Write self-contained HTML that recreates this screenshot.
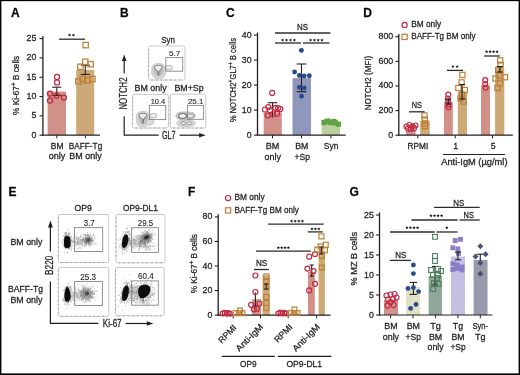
<!DOCTYPE html>
<html><head><meta charset="utf-8"><style>
html,body{margin:0;padding:0;background:#fff;width:520px;height:375px;overflow:hidden}
svg{display:block}
text{font-family:"Liberation Sans",sans-serif}
.t{opacity:0.999}
text{stroke:#231f20;stroke-width:0.27px}
</style></head><body>
<svg width="520" height="375" viewBox="0 0 520 375" fill="#231f20">
<rect x="0" y="0" width="520" height="375" fill="#fff"/>
<g class="t">
<rect x="0" y="0" width="1.4" height="375" fill="#000"/>
<rect x="0" y="0" width="520" height="1.15" fill="#000"/>
<rect x="518.6" y="0" width="1.4" height="375" fill="#000"/>
<rect x="0" y="373.4" width="520" height="1.6" fill="#000"/>
<text x="11" y="17" font-size="12" font-weight="bold" fill="#000">A</text>
<text x="120" y="17" font-size="12" font-weight="bold" fill="#000">B</text>
<text x="226" y="17" font-size="12" font-weight="bold" fill="#000">C</text>
<text x="363.2" y="17" font-size="12" font-weight="bold" fill="#000">D</text>
<text x="8.4" y="195.6" font-size="12" font-weight="bold" fill="#000">E</text>
<text x="188" y="195.6" font-size="12" font-weight="bold" fill="#000">F</text>
<text x="349.6" y="196.3" font-size="12" font-weight="bold" fill="#000">G</text>
<rect x="47.6" y="91.54" width="18.4" height="43.66" fill="#d19189"/>
<rect x="76.2" y="69.9" width="18" height="65.3" fill="#cca977"/>
<line x1="42.9" y1="36" x2="42.9" y2="135.8" stroke="#231f20" stroke-width="1.3"/>
<line x1="39.5" y1="135.2" x2="42.9" y2="135.2" stroke="#231f20" stroke-width="1.1"/>
<text x="36.3" y="137.7" font-size="8.8" text-anchor="end">0</text>
<line x1="39.5" y1="115.88" x2="42.9" y2="115.88" stroke="#231f20" stroke-width="1.1"/>
<text x="36.3" y="118.38" font-size="8.8" text-anchor="end">5</text>
<line x1="39.5" y1="96.56" x2="42.9" y2="96.56" stroke="#231f20" stroke-width="1.1"/>
<text x="36.3" y="99.06" font-size="8.8" text-anchor="end">10</text>
<line x1="39.5" y1="77.24" x2="42.9" y2="77.24" stroke="#231f20" stroke-width="1.1"/>
<text x="36.3" y="79.74" font-size="8.8" text-anchor="end">15</text>
<line x1="39.5" y1="57.92" x2="42.9" y2="57.92" stroke="#231f20" stroke-width="1.1"/>
<text x="36.3" y="60.42" font-size="8.8" text-anchor="end">20</text>
<line x1="39.5" y1="38.6" x2="42.9" y2="38.6" stroke="#231f20" stroke-width="1.1"/>
<text x="36.3" y="41.1" font-size="8.8" text-anchor="end">25</text>
<line x1="42.3" y1="135.2" x2="100" y2="135.2" stroke="#231f20" stroke-width="1.2"/>
<line x1="56.8" y1="135.2" x2="56.8" y2="138.4" stroke="#231f20" stroke-width="1"/>
<line x1="85.4" y1="135.2" x2="85.4" y2="138.4" stroke="#231f20" stroke-width="1"/>
<line x1="56.8" y1="87.2" x2="56.8" y2="95.4" stroke="#231f20" stroke-width="1.1"/>
<line x1="52.3" y1="87.2" x2="61.3" y2="87.2" stroke="#231f20" stroke-width="1.1"/>
<line x1="52.3" y1="95.4" x2="61.3" y2="95.4" stroke="#231f20" stroke-width="1.1"/>
<line x1="85.3" y1="65.2" x2="85.3" y2="74.4" stroke="#231f20" stroke-width="1.1"/>
<line x1="80.8" y1="65.2" x2="89.8" y2="65.2" stroke="#231f20" stroke-width="1.1"/>
<line x1="80.8" y1="74.4" x2="89.8" y2="74.4" stroke="#231f20" stroke-width="1.1"/>
<circle cx="57" cy="77" r="2.55" fill="none" stroke="#c22a43" stroke-width="1.25"/>
<circle cx="57" cy="82.4" r="2.55" fill="none" stroke="#c22a43" stroke-width="1.25"/>
<circle cx="50" cy="93.6" r="2.55" fill="none" stroke="#c22a43" stroke-width="1.25"/>
<circle cx="56.6" cy="95.6" r="2.55" fill="none" stroke="#c22a43" stroke-width="1.25"/>
<circle cx="64" cy="97.6" r="2.55" fill="none" stroke="#c22a43" stroke-width="1.25"/>
<circle cx="50" cy="100.6" r="2.55" fill="none" stroke="#c22a43" stroke-width="1.25"/>
<rect x="82.9" y="42.4" width="5.4" height="5.4" fill="none" stroke="#bc7f35" stroke-width="1.25"/>
<rect x="82.5" y="59.1" width="5.4" height="5.4" fill="none" stroke="#bc7f35" stroke-width="1.25"/>
<rect x="87.9" y="61.5" width="5.4" height="5.4" fill="none" stroke="#bc7f35" stroke-width="1.25"/>
<rect x="77.7" y="64.1" width="5.4" height="5.4" fill="none" stroke="#bc7f35" stroke-width="1.25"/>
<rect x="75.7" y="78.7" width="5.4" height="5.4" fill="none" stroke="#bc7f35" stroke-width="1.25"/>
<rect x="80.1" y="76.3" width="5.4" height="5.4" fill="none" stroke="#bc7f35" stroke-width="1.25"/>
<rect x="84.5" y="77.7" width="5.4" height="5.4" fill="none" stroke="#bc7f35" stroke-width="1.25"/>
<rect x="89.7" y="76.3" width="5.4" height="5.4" fill="none" stroke="#bc7f35" stroke-width="1.25"/>
<line x1="59" y1="39.2" x2="85" y2="39.2" stroke="#2c2c2c" stroke-width="1.3"/>
<path d="M69.6 33.4L70.07 34.5L71.26 34.61L70.36 35.4L70.63 36.57L69.6 35.95L68.57 36.57L68.84 35.4L67.94 34.61L69.13 34.5ZM73.4 33.4L73.87 34.5L75.06 34.61L74.16 35.4L74.43 36.57L73.4 35.95L72.37 36.57L72.64 35.4L71.74 34.61L72.93 34.5Z" fill="#1a1a1a"/>
<text x="19.5" y="85.4" font-size="9.3" text-anchor="middle" transform="rotate(-90 19.5 85.4)" textLength="59.2" lengthAdjust="spacingAndGlyphs">% Ki-67<tspan font-size="7" dy="-3">+</tspan><tspan dy="3"> B cells</tspan></text>
<text x="50.75" y="149" font-size="8.8" textLength="12.7" lengthAdjust="spacingAndGlyphs">BM</text>
<text x="48.85" y="159.3" font-size="8.8" textLength="16.5" lengthAdjust="spacingAndGlyphs">only</text>
<text x="68.7" y="149" font-size="8.8" textLength="33.6" lengthAdjust="spacingAndGlyphs">BAFF-Tg</text>
<text x="69.35" y="159.3" font-size="8.8" textLength="32.3" lengthAdjust="spacingAndGlyphs">BM only</text>
<rect x="263.7" y="112.35" width="18.1" height="22.75" fill="#d19189"/>
<rect x="292.5" y="78.1" width="18.5" height="57" fill="#8f97bb"/>
<rect x="321.7" y="124.6" width="18.3" height="10.5" fill="#bbd19d"/>
<line x1="257.5" y1="32.5" x2="257.5" y2="135.7" stroke="#231f20" stroke-width="1.3"/>
<line x1="254.1" y1="135.1" x2="257.5" y2="135.1" stroke="#231f20" stroke-width="1.1"/>
<text x="251.6" y="137.6" font-size="8.8" text-anchor="end">0</text>
<line x1="254.1" y1="110.1" x2="257.5" y2="110.1" stroke="#231f20" stroke-width="1.1"/>
<text x="251.6" y="112.6" font-size="8.8" text-anchor="end">10</text>
<line x1="254.1" y1="85.1" x2="257.5" y2="85.1" stroke="#231f20" stroke-width="1.1"/>
<text x="251.6" y="87.6" font-size="8.8" text-anchor="end">20</text>
<line x1="254.1" y1="60.1" x2="257.5" y2="60.1" stroke="#231f20" stroke-width="1.1"/>
<text x="251.6" y="62.6" font-size="8.8" text-anchor="end">30</text>
<line x1="254.1" y1="35.1" x2="257.5" y2="35.1" stroke="#231f20" stroke-width="1.1"/>
<text x="251.6" y="37.6" font-size="8.8" text-anchor="end">40</text>
<line x1="256.9" y1="135.1" x2="345.7" y2="135.1" stroke="#231f20" stroke-width="1.2"/>
<line x1="272.5" y1="135.1" x2="272.5" y2="138.3" stroke="#231f20" stroke-width="1"/>
<line x1="301.5" y1="135.1" x2="301.5" y2="138.3" stroke="#231f20" stroke-width="1"/>
<line x1="330.9" y1="135.1" x2="330.9" y2="138.3" stroke="#231f20" stroke-width="1"/>
<line x1="272.5" y1="102.7" x2="272.5" y2="117.5" stroke="#231f20" stroke-width="1.1"/>
<line x1="267.75" y1="102.7" x2="277.25" y2="102.7" stroke="#231f20" stroke-width="1.1"/>
<circle cx="272.2" cy="92.9" r="2.5" fill="none" stroke="#c22a43" stroke-width="1.2"/>
<circle cx="265" cy="109.5" r="2.5" fill="none" stroke="#c22a43" stroke-width="1.2"/>
<circle cx="268.3" cy="107.1" r="2.5" fill="none" stroke="#c22a43" stroke-width="1.2"/>
<circle cx="275.3" cy="107.8" r="2.5" fill="none" stroke="#c22a43" stroke-width="1.2"/>
<circle cx="278.1" cy="108.1" r="2.5" fill="none" stroke="#c22a43" stroke-width="1.2"/>
<circle cx="280.4" cy="109" r="2.5" fill="none" stroke="#c22a43" stroke-width="1.2"/>
<circle cx="267.8" cy="115.5" r="2.5" fill="none" stroke="#c22a43" stroke-width="1.2"/>
<circle cx="272.9" cy="114.1" r="2.5" fill="none" stroke="#c22a43" stroke-width="1.2"/>
<circle cx="277.1" cy="113.7" r="2.5" fill="none" stroke="#c22a43" stroke-width="1.2"/>
<circle cx="270.1" cy="110.4" r="2.5" fill="none" stroke="#c22a43" stroke-width="1.2"/>
<line x1="301.5" y1="64" x2="301.5" y2="91.7" stroke="#231f20" stroke-width="1.1"/>
<line x1="296.7" y1="64" x2="306.3" y2="64" stroke="#231f20" stroke-width="1.1"/>
<line x1="296.7" y1="91.7" x2="306.3" y2="91.7" stroke="#231f20" stroke-width="1.1"/>
<circle cx="301.4" cy="50.4" r="2.45" fill="#2b4a8b"/>
<circle cx="294.6" cy="72" r="2.45" fill="#2b4a8b"/>
<circle cx="299.4" cy="75.5" r="2.45" fill="#2b4a8b"/>
<circle cx="304.2" cy="76" r="2.45" fill="#2b4a8b"/>
<circle cx="309.3" cy="75.8" r="2.45" fill="#2b4a8b"/>
<circle cx="299.4" cy="87.2" r="2.45" fill="#2b4a8b"/>
<circle cx="304.2" cy="88" r="2.45" fill="#2b4a8b"/>
<circle cx="301.5" cy="96.3" r="2.45" fill="#2b4a8b"/>
<rect x="321.4" y="120" width="5.2" height="5.2" fill="#5ea445"/>
<rect x="325.4" y="118.4" width="5.2" height="5.2" fill="#5ea445"/>
<rect x="331.2" y="118.8" width="5.2" height="5.2" fill="#5ea445"/>
<rect x="335.8" y="121.6" width="5.2" height="5.2" fill="#5ea445"/>
<rect x="328.2" y="120" width="5.2" height="5.2" fill="#5ea445"/>
<rect x="323.6" y="119.2" width="5.2" height="5.2" fill="#5ea445"/>
<rect x="332.9" y="120.2" width="5.2" height="5.2" fill="#5ea445"/>
<line x1="275" y1="33" x2="330.4" y2="33" stroke="#2c2c2c" stroke-width="1.3"/>
<text x="297" y="30.4" font-size="8.8" textLength="11" lengthAdjust="spacingAndGlyphs">NS</text>
<line x1="275" y1="43" x2="301" y2="43" stroke="#2c2c2c" stroke-width="1.3"/>
<line x1="303" y1="43" x2="329.4" y2="43" stroke="#2c2c2c" stroke-width="1.3"/>
<path d="M282.6 38.4L283.07 39.5L284.26 39.61L283.36 40.4L283.63 41.57L282.6 40.95L281.57 41.57L281.84 40.4L280.94 39.61L282.13 39.5ZM286.53 38.4L287 39.5L288.2 39.61L287.29 40.4L287.56 41.57L286.53 40.95L285.5 41.57L285.77 40.4L284.87 39.61L286.06 39.5ZM290.47 38.4L290.94 39.5L292.13 39.61L291.23 40.4L291.5 41.57L290.47 40.95L289.44 41.57L289.71 40.4L288.8 39.61L290 39.5ZM294.4 38.4L294.87 39.5L296.06 39.61L295.16 40.4L295.43 41.57L294.4 40.95L293.37 41.57L293.64 40.4L292.74 39.61L293.93 39.5Z" fill="#1a1a1a"/>
<path d="M310.6 38.4L311.07 39.5L312.26 39.61L311.36 40.4L311.63 41.57L310.6 40.95L309.57 41.57L309.84 40.4L308.94 39.61L310.13 39.5ZM314.4 38.4L314.87 39.5L316.06 39.61L315.16 40.4L315.43 41.57L314.4 40.95L313.37 41.57L313.64 40.4L312.74 39.61L313.93 39.5ZM318.2 38.4L318.67 39.5L319.86 39.61L318.96 40.4L319.23 41.57L318.2 40.95L317.17 41.57L317.44 40.4L316.54 39.61L317.73 39.5ZM322 38.4L322.47 39.5L323.66 39.61L322.76 40.4L323.03 41.57L322 40.95L320.97 41.57L321.24 40.4L320.34 39.61L321.53 39.5Z" fill="#1a1a1a"/>
<text x="236.2" y="80" font-size="9.3" text-anchor="middle" transform="rotate(-90 236.2 80)" textLength="84" lengthAdjust="spacingAndGlyphs">% NOTCH2<tspan font-size="7" dy="-3">+</tspan><tspan dy="3">GL7</tspan><tspan font-size="7" dy="-3">+</tspan><tspan dy="3"> B cells</tspan></text>
<text x="265.75" y="149.4" font-size="8.8" textLength="13.5" lengthAdjust="spacingAndGlyphs">BM</text>
<text x="264.45" y="159.8" font-size="8.8" textLength="16.5" lengthAdjust="spacingAndGlyphs">only</text>
<text x="295.15" y="149.4" font-size="8.8" textLength="13.1" lengthAdjust="spacingAndGlyphs">BM</text>
<text x="294.45" y="159.8" font-size="8.8" textLength="15.5" lengthAdjust="spacingAndGlyphs">+Sp</text>
<text x="323.85" y="149.4" font-size="8.8" textLength="14.5" lengthAdjust="spacingAndGlyphs">Syn</text>
<rect x="406" y="129.66" width="9.6" height="5.54" fill="#d19189"/>
<rect x="420.2" y="120.67" width="9.5" height="14.53" fill="#cca977"/>
<rect x="443.9" y="101.96" width="8.9" height="33.24" fill="#d19189"/>
<rect x="457.8" y="91.87" width="9.2" height="43.33" fill="#cca977"/>
<rect x="481" y="85.34" width="9" height="49.86" fill="#d19189"/>
<rect x="495.1" y="68.11" width="9.2" height="67.09" fill="#cca977"/>
<line x1="398.8" y1="34.12" x2="398.8" y2="135.8" stroke="#231f20" stroke-width="1.3"/>
<line x1="395.4" y1="135.2" x2="398.8" y2="135.2" stroke="#231f20" stroke-width="1.1"/>
<text x="393.2" y="137.7" font-size="8.8" text-anchor="end">0</text>
<line x1="395.4" y1="110.58" x2="398.8" y2="110.58" stroke="#231f20" stroke-width="1.1"/>
<text x="393.2" y="113.08" font-size="8.8" text-anchor="end">200</text>
<line x1="395.4" y1="85.96" x2="398.8" y2="85.96" stroke="#231f20" stroke-width="1.1"/>
<text x="393.2" y="88.46" font-size="8.8" text-anchor="end">400</text>
<line x1="395.4" y1="61.34" x2="398.8" y2="61.34" stroke="#231f20" stroke-width="1.1"/>
<text x="393.2" y="63.84" font-size="8.8" text-anchor="end">600</text>
<line x1="395.4" y1="36.72" x2="398.8" y2="36.72" stroke="#231f20" stroke-width="1.1"/>
<text x="393.2" y="39.22" font-size="8.8" text-anchor="end">800</text>
<line x1="398.2" y1="135.2" x2="512.8" y2="135.2" stroke="#231f20" stroke-width="1.2"/>
<line x1="417.8" y1="135.2" x2="417.8" y2="138.4" stroke="#231f20" stroke-width="1"/>
<line x1="455.2" y1="135.2" x2="455.2" y2="138.4" stroke="#231f20" stroke-width="1"/>
<line x1="492.5" y1="135.2" x2="492.5" y2="138.4" stroke="#231f20" stroke-width="1"/>
<circle cx="406.5" cy="126.5" r="2.5" fill="none" stroke="#c22a43" stroke-width="1.2"/>
<circle cx="409.5" cy="125" r="2.5" fill="none" stroke="#c22a43" stroke-width="1.2"/>
<circle cx="412.5" cy="126.5" r="2.5" fill="none" stroke="#c22a43" stroke-width="1.2"/>
<circle cx="415.5" cy="125.5" r="2.5" fill="none" stroke="#c22a43" stroke-width="1.2"/>
<circle cx="408" cy="128.5" r="2.5" fill="none" stroke="#c22a43" stroke-width="1.2"/>
<circle cx="411" cy="128.8" r="2.5" fill="none" stroke="#c22a43" stroke-width="1.2"/>
<circle cx="414" cy="128.2" r="2.5" fill="none" stroke="#c22a43" stroke-width="1.2"/>
<rect x="421.9" y="112.9" width="5.2" height="5.2" fill="none" stroke="#bc7f35" stroke-width="1.2"/>
<rect x="422.2" y="116.9" width="5.2" height="5.2" fill="none" stroke="#bc7f35" stroke-width="1.2"/>
<rect x="422.4" y="120.9" width="5.2" height="5.2" fill="none" stroke="#bc7f35" stroke-width="1.2"/>
<rect x="422.4" y="123.4" width="5.2" height="5.2" fill="none" stroke="#bc7f35" stroke-width="1.2"/>
<circle cx="448.3" cy="94.6" r="2.5" fill="none" stroke="#c22a43" stroke-width="1.2"/>
<circle cx="447.8" cy="98.5" r="2.5" fill="none" stroke="#c22a43" stroke-width="1.2"/>
<circle cx="448.2" cy="101.5" r="2.5" fill="none" stroke="#c22a43" stroke-width="1.2"/>
<circle cx="448.6" cy="104.5" r="2.5" fill="none" stroke="#c22a43" stroke-width="1.2"/>
<circle cx="448.4" cy="107.2" r="2.5" fill="none" stroke="#c22a43" stroke-width="1.2"/>
<rect x="459.8" y="72.3" width="5.2" height="5.2" fill="none" stroke="#bc7f35" stroke-width="1.2"/>
<rect x="459" y="79.8" width="5.2" height="5.2" fill="none" stroke="#bc7f35" stroke-width="1.2"/>
<rect x="455.8" y="85.4" width="5.2" height="5.2" fill="none" stroke="#bc7f35" stroke-width="1.2"/>
<rect x="462.2" y="87.4" width="5.2" height="5.2" fill="none" stroke="#bc7f35" stroke-width="1.2"/>
<rect x="459.4" y="91.9" width="5.2" height="5.2" fill="none" stroke="#bc7f35" stroke-width="1.2"/>
<rect x="457.9" y="95.9" width="5.2" height="5.2" fill="none" stroke="#bc7f35" stroke-width="1.2"/>
<rect x="460.9" y="98.9" width="5.2" height="5.2" fill="none" stroke="#bc7f35" stroke-width="1.2"/>
<circle cx="485.2" cy="80.2" r="2.5" fill="none" stroke="#c22a43" stroke-width="1.2"/>
<circle cx="485.2" cy="84" r="2.5" fill="none" stroke="#c22a43" stroke-width="1.2"/>
<circle cx="485.6" cy="87.6" r="2.5" fill="none" stroke="#c22a43" stroke-width="1.2"/>
<rect x="497.6" y="57.8" width="5.2" height="5.2" fill="none" stroke="#bc7f35" stroke-width="1.2"/>
<rect x="498" y="62.2" width="5.2" height="5.2" fill="none" stroke="#bc7f35" stroke-width="1.2"/>
<rect x="495.6" y="67.4" width="5.2" height="5.2" fill="none" stroke="#bc7f35" stroke-width="1.2"/>
<rect x="497" y="73" width="5.2" height="5.2" fill="none" stroke="#bc7f35" stroke-width="1.2"/>
<rect x="492.9" y="75.9" width="5.2" height="5.2" fill="none" stroke="#bc7f35" stroke-width="1.2"/>
<rect x="502.4" y="74.6" width="5.2" height="5.2" fill="none" stroke="#bc7f35" stroke-width="1.2"/>
<rect x="497.4" y="80.9" width="5.2" height="5.2" fill="none" stroke="#bc7f35" stroke-width="1.2"/>
<rect x="494.9" y="85.4" width="5.2" height="5.2" fill="none" stroke="#bc7f35" stroke-width="1.2"/>
<line x1="462" y1="84.5" x2="462" y2="99" stroke="#231f20" stroke-width="1.1"/>
<line x1="459" y1="84.5" x2="465" y2="84.5" stroke="#231f20" stroke-width="1.1"/>
<line x1="459" y1="99" x2="465" y2="99" stroke="#231f20" stroke-width="1.1"/>
<line x1="499.8" y1="66.5" x2="499.8" y2="72" stroke="#231f20" stroke-width="1.1"/>
<line x1="496.8" y1="66.5" x2="502.8" y2="66.5" stroke="#231f20" stroke-width="1.1"/>
<line x1="496.8" y1="72" x2="502.8" y2="72" stroke="#231f20" stroke-width="1.1"/>
<line x1="448.3" y1="99" x2="448.3" y2="104" stroke="#231f20" stroke-width="1.1"/>
<line x1="445.8" y1="99" x2="450.8" y2="99" stroke="#231f20" stroke-width="1.1"/>
<line x1="445.8" y1="104" x2="450.8" y2="104" stroke="#231f20" stroke-width="1.1"/>
<line x1="409" y1="111.8" x2="424.6" y2="111.8" stroke="#2c2c2c" stroke-width="1.3"/>
<text x="411.8" y="108.4" font-size="8.8" textLength="10.2" lengthAdjust="spacingAndGlyphs">NS</text>
<line x1="447" y1="70.4" x2="463" y2="70.4" stroke="#2c2c2c" stroke-width="1.3"/>
<path d="M452.9 64.8L453.37 65.9L454.56 66.01L453.66 66.8L453.93 67.97L452.9 67.35L451.87 67.97L452.14 66.8L451.24 66.01L452.43 65.9ZM457.1 64.8L457.57 65.9L458.76 66.01L457.86 66.8L458.13 67.97L457.1 67.35L456.07 67.97L456.34 66.8L455.44 66.01L456.63 65.9Z" fill="#1a1a1a"/>
<line x1="484.1" y1="56" x2="499.9" y2="56" stroke="#2c2c2c" stroke-width="1.3"/>
<path d="M486.6 50L487.07 51.1L488.26 51.21L487.36 52L487.63 53.17L486.6 52.55L485.57 53.17L485.84 52L484.94 51.21L486.13 51.1ZM490.1 50L490.57 51.1L491.76 51.21L490.86 52L491.13 53.17L490.1 52.55L489.07 53.17L489.34 52L488.44 51.21L489.63 51.1ZM493.6 50L494.07 51.1L495.26 51.21L494.36 52L494.63 53.17L493.6 52.55L492.57 53.17L492.84 52L491.94 51.21L493.13 51.1ZM497.1 50L497.57 51.1L498.76 51.21L497.86 52L498.13 53.17L497.1 52.55L496.07 53.17L496.34 52L495.44 51.21L496.63 51.1Z" fill="#1a1a1a"/>
<circle cx="404.6" cy="24.9" r="2.6" fill="none" stroke="#c22a43" stroke-width="1.2"/>
<text x="411.3" y="27.3" font-size="8.8" textLength="29.9" lengthAdjust="spacingAndGlyphs">BM only</text>
<rect x="402" y="34.3" width="5.2" height="5.2" fill="none" stroke="#bc7f35" stroke-width="1.2"/>
<text x="411.3" y="38.8" font-size="8.8" textLength="64.2" lengthAdjust="spacingAndGlyphs">BAFF-Tg BM only</text>
<text x="370.6" y="83" font-size="9.3" text-anchor="middle" transform="rotate(-90 370.6 83)" textLength="54.6" lengthAdjust="spacingAndGlyphs">NOTCH2 (MFI)</text>
<text x="407.5" y="149.2" font-size="8.8" textLength="20.7" lengthAdjust="spacingAndGlyphs">RPMI</text>
<text x="455.6" y="149.2" font-size="8.8" text-anchor="middle">1</text>
<text x="493.1" y="149.2" font-size="8.8" text-anchor="middle">5</text>
<line x1="443.1" y1="154.5" x2="505.1" y2="154.5" stroke="#231f20" stroke-width="1.2"/>
<text x="441.2" y="164.9" font-size="8.8" textLength="66.3" lengthAdjust="spacingAndGlyphs">Anti-IgM (µg/ml)</text>
<rect x="222.5" y="314.12" width="8" height="0.98" fill="#d19189"/>
<rect x="235.5" y="313.63" width="8" height="1.47" fill="#cca977"/>
<rect x="252.2" y="299.14" width="8.8" height="15.96" fill="#d19189"/>
<rect x="262.6" y="275.33" width="7.2" height="39.77" fill="#cca977"/>
<rect x="277.5" y="313.87" width="8" height="1.23" fill="#d19189"/>
<rect x="290.5" y="312.65" width="8" height="2.45" fill="#cca977"/>
<rect x="307.9" y="271.89" width="6.9" height="43.21" fill="#d19189"/>
<rect x="318.6" y="250.66" width="6.3" height="64.44" fill="#cca977"/>
<line x1="218.2" y1="214.3" x2="218.2" y2="315.7" stroke="#231f20" stroke-width="1.3"/>
<line x1="214.8" y1="315.1" x2="218.2" y2="315.1" stroke="#231f20" stroke-width="1.1"/>
<text x="212.4" y="317.6" font-size="8.8" text-anchor="end">0</text>
<line x1="214.8" y1="290.55" x2="218.2" y2="290.55" stroke="#231f20" stroke-width="1.1"/>
<text x="212.4" y="293.05" font-size="8.8" text-anchor="end">20</text>
<line x1="214.8" y1="266" x2="218.2" y2="266" stroke="#231f20" stroke-width="1.1"/>
<text x="212.4" y="268.5" font-size="8.8" text-anchor="end">40</text>
<line x1="214.8" y1="241.45" x2="218.2" y2="241.45" stroke="#231f20" stroke-width="1.1"/>
<text x="212.4" y="243.95" font-size="8.8" text-anchor="end">60</text>
<line x1="214.8" y1="216.9" x2="218.2" y2="216.9" stroke="#231f20" stroke-width="1.1"/>
<text x="212.4" y="219.4" font-size="8.8" text-anchor="end">80</text>
<line x1="217.6" y1="315.1" x2="330.5" y2="315.1" stroke="#231f20" stroke-width="1.2"/>
<line x1="233.2" y1="315.1" x2="233.2" y2="318.3" stroke="#231f20" stroke-width="1"/>
<line x1="260.5" y1="315.1" x2="260.5" y2="318.3" stroke="#231f20" stroke-width="1"/>
<line x1="288.2" y1="315.1" x2="288.2" y2="318.3" stroke="#231f20" stroke-width="1"/>
<line x1="316.6" y1="315.1" x2="316.6" y2="318.3" stroke="#231f20" stroke-width="1"/>
<circle cx="222.6" cy="313.6" r="2.4" fill="none" stroke="#c22a43" stroke-width="1.2"/>
<circle cx="224.8" cy="312.8" r="2.4" fill="none" stroke="#c22a43" stroke-width="1.2"/>
<circle cx="226.8" cy="313.8" r="2.4" fill="none" stroke="#c22a43" stroke-width="1.2"/>
<circle cx="228.6" cy="313" r="2.4" fill="none" stroke="#c22a43" stroke-width="1.2"/>
<circle cx="230" cy="313.8" r="2.4" fill="none" stroke="#c22a43" stroke-width="1.2"/>
<rect x="233.1" y="310.8" width="4.8" height="4.8" fill="none" stroke="#bc7f35" stroke-width="1.2"/>
<rect x="236.6" y="310.8" width="4.8" height="4.8" fill="none" stroke="#bc7f35" stroke-width="1.2"/>
<rect x="240.1" y="310.8" width="4.8" height="4.8" fill="none" stroke="#bc7f35" stroke-width="1.2"/>
<rect x="237.6" y="308.1" width="4.8" height="4.8" fill="none" stroke="#bc7f35" stroke-width="1.2"/>
<line x1="255.4" y1="292.5" x2="255.4" y2="306" stroke="#231f20" stroke-width="1.1"/>
<line x1="252.9" y1="306" x2="257.9" y2="306" stroke="#231f20" stroke-width="1.1"/>
<circle cx="255.4" cy="275.5" r="2.5" fill="none" stroke="#c22a43" stroke-width="1.2"/>
<circle cx="255.4" cy="292" r="2.5" fill="none" stroke="#c22a43" stroke-width="1.2"/>
<circle cx="251.1" cy="304.8" r="2.5" fill="none" stroke="#c22a43" stroke-width="1.2"/>
<circle cx="259.4" cy="303.5" r="2.5" fill="none" stroke="#c22a43" stroke-width="1.2"/>
<circle cx="253.8" cy="309.3" r="2.5" fill="none" stroke="#c22a43" stroke-width="1.2"/>
<circle cx="257" cy="308.8" r="2.5" fill="none" stroke="#c22a43" stroke-width="1.2"/>
<rect x="263.8" y="274" width="5" height="5" fill="none" stroke="#bc7f35" stroke-width="1.2"/>
<rect x="263.8" y="279" width="5" height="5" fill="none" stroke="#bc7f35" stroke-width="1.2"/>
<rect x="263.8" y="284.5" width="5" height="5" fill="none" stroke="#bc7f35" stroke-width="1.2"/>
<rect x="263.8" y="294.5" width="5" height="5" fill="none" stroke="#bc7f35" stroke-width="1.2"/>
<rect x="263.8" y="300.5" width="5" height="5" fill="none" stroke="#bc7f35" stroke-width="1.2"/>
<rect x="263.8" y="305.5" width="5" height="5" fill="none" stroke="#bc7f35" stroke-width="1.2"/>
<line x1="266.2" y1="284" x2="266.2" y2="289" stroke="#231f20" stroke-width="1.1"/>
<line x1="264.2" y1="284" x2="268.2" y2="284" stroke="#231f20" stroke-width="1.1"/>
<line x1="264.2" y1="289" x2="268.2" y2="289" stroke="#231f20" stroke-width="1.1"/>
<circle cx="278.2" cy="313.4" r="2.4" fill="none" stroke="#c22a43" stroke-width="1.2"/>
<circle cx="280.4" cy="312.6" r="2.4" fill="none" stroke="#c22a43" stroke-width="1.2"/>
<circle cx="282.4" cy="313.6" r="2.4" fill="none" stroke="#c22a43" stroke-width="1.2"/>
<circle cx="284.4" cy="312.8" r="2.4" fill="none" stroke="#c22a43" stroke-width="1.2"/>
<circle cx="286" cy="313.6" r="2.4" fill="none" stroke="#c22a43" stroke-width="1.2"/>
<rect x="288.1" y="310.6" width="4.8" height="4.8" fill="none" stroke="#bc7f35" stroke-width="1.2"/>
<rect x="291.6" y="310.6" width="4.8" height="4.8" fill="none" stroke="#bc7f35" stroke-width="1.2"/>
<rect x="295.1" y="310.6" width="4.8" height="4.8" fill="none" stroke="#bc7f35" stroke-width="1.2"/>
<rect x="292.1" y="307.1" width="4.8" height="4.8" fill="none" stroke="#bc7f35" stroke-width="1.2"/>
<line x1="311.7" y1="265" x2="311.7" y2="276.2" stroke="#231f20" stroke-width="1.1"/>
<line x1="309.7" y1="265" x2="313.7" y2="265" stroke="#231f20" stroke-width="1.1"/>
<line x1="309.7" y1="276.2" x2="313.7" y2="276.2" stroke="#231f20" stroke-width="1.1"/>
<circle cx="309.2" cy="256.7" r="2.5" fill="none" stroke="#c22a43" stroke-width="1.2"/>
<circle cx="315" cy="254.1" r="2.5" fill="none" stroke="#c22a43" stroke-width="1.2"/>
<circle cx="307.4" cy="268.6" r="2.5" fill="none" stroke="#c22a43" stroke-width="1.2"/>
<circle cx="313.5" cy="271.1" r="2.5" fill="none" stroke="#c22a43" stroke-width="1.2"/>
<circle cx="315" cy="283.8" r="2.5" fill="none" stroke="#c22a43" stroke-width="1.2"/>
<circle cx="309.2" cy="290.4" r="2.5" fill="none" stroke="#c22a43" stroke-width="1.2"/>
<rect x="318.9" y="233.9" width="5" height="5" fill="none" stroke="#bc7f35" stroke-width="1.2"/>
<rect x="318.1" y="244" width="5" height="5" fill="none" stroke="#bc7f35" stroke-width="1.2"/>
<rect x="323.2" y="242.3" width="5" height="5" fill="none" stroke="#bc7f35" stroke-width="1.2"/>
<rect x="322.4" y="247.8" width="5" height="5" fill="none" stroke="#bc7f35" stroke-width="1.2"/>
<rect x="319.4" y="253.4" width="5" height="5" fill="none" stroke="#bc7f35" stroke-width="1.2"/>
<rect x="319.4" y="265.1" width="5" height="5" fill="none" stroke="#bc7f35" stroke-width="1.2"/>
<rect x="314.8" y="247.1" width="5" height="5" fill="none" stroke="#bc7f35" stroke-width="1.2"/>
<line x1="321.3" y1="247" x2="321.3" y2="254" stroke="#231f20" stroke-width="1.1"/>
<line x1="319.3" y1="247" x2="323.3" y2="247" stroke="#231f20" stroke-width="1.1"/>
<line x1="319.3" y1="254" x2="323.3" y2="254" stroke="#231f20" stroke-width="1.1"/>
<line x1="254" y1="269.5" x2="268.8" y2="269.5" stroke="#2c2c2c" stroke-width="1.3"/>
<text x="256" y="265.6" font-size="8.8" textLength="11.3" lengthAdjust="spacingAndGlyphs">NS</text>
<line x1="256" y1="251.1" x2="310.9" y2="251.1" stroke="#2c2c2c" stroke-width="1.3"/>
<path d="M278.4 246L278.87 247.1L280.06 247.21L279.16 248L279.43 249.17L278.4 248.55L277.37 249.17L277.64 248L276.74 247.21L277.93 247.1ZM281.73 246L282.2 247.1L283.4 247.21L282.49 248L282.76 249.17L281.73 248.55L280.7 249.17L280.97 248L280.07 247.21L281.26 247.1ZM285.07 246L285.54 247.1L286.73 247.21L285.83 248L286.1 249.17L285.07 248.55L284.04 249.17L284.31 248L283.4 247.21L284.6 247.1ZM288.4 246L288.87 247.1L290.06 247.21L289.16 248L289.43 249.17L288.4 248.55L287.37 249.17L287.64 248L286.74 247.21L287.93 247.1Z" fill="#1a1a1a"/>
<line x1="307.7" y1="231.9" x2="322.7" y2="231.9" stroke="#2c2c2c" stroke-width="1.3"/>
<path d="M312 227.2L312.47 228.3L313.66 228.41L312.76 229.2L313.03 230.37L312 229.75L310.97 230.37L311.24 229.2L310.34 228.41L311.53 228.3ZM315.45 227.2L315.92 228.3L317.11 228.41L316.21 229.2L316.48 230.37L315.45 229.75L314.42 230.37L314.69 229.2L313.79 228.41L314.98 228.3ZM318.9 227.2L319.37 228.3L320.56 228.41L319.66 229.2L319.93 230.37L318.9 229.75L317.87 230.37L318.14 229.2L317.24 228.41L318.43 228.3Z" fill="#1a1a1a"/>
<line x1="268" y1="224.2" x2="323.7" y2="224.2" stroke="#2c2c2c" stroke-width="1.3"/>
<path d="M291.6 219.4L292.07 220.5L293.26 220.61L292.36 221.4L292.63 222.57L291.6 221.95L290.57 222.57L290.84 221.4L289.94 220.61L291.13 220.5ZM295.2 219.4L295.67 220.5L296.86 220.61L295.96 221.4L296.23 222.57L295.2 221.95L294.17 222.57L294.44 221.4L293.54 220.61L294.73 220.5ZM298.8 219.4L299.27 220.5L300.46 220.61L299.56 221.4L299.83 222.57L298.8 221.95L297.77 222.57L298.04 221.4L297.14 220.61L298.33 220.5ZM302.4 219.4L302.87 220.5L304.06 220.61L303.16 221.4L303.43 222.57L302.4 221.95L301.37 222.57L301.64 221.4L300.74 220.61L301.93 220.5Z" fill="#1a1a1a"/>
<circle cx="228.1" cy="198.1" r="2.6" fill="none" stroke="#c22a43" stroke-width="1.2"/>
<text x="234.4" y="200.4" font-size="8.8" textLength="30.2" lengthAdjust="spacingAndGlyphs">BM only</text>
<rect x="225.5" y="207.8" width="5.2" height="5.2" fill="none" stroke="#bc7f35" stroke-width="1.2"/>
<text x="234.4" y="212.9" font-size="8.8" textLength="64.4" lengthAdjust="spacingAndGlyphs">BAFF-Tg BM only</text>
<text x="197" y="263.7" font-size="9.3" text-anchor="middle" transform="rotate(-90 197 263.7)" textLength="59.2" lengthAdjust="spacingAndGlyphs">% Ki-67<tspan font-size="7" dy="-3">+</tspan><tspan dy="3"> B cells</tspan></text>
<text x="237.1" y="328.4" font-size="8.8" text-anchor="end" transform="rotate(-45 237.1 328.4)" textLength="21.8" lengthAdjust="spacingAndGlyphs">RPMI</text>
<text x="263.7" y="327.5" font-size="8.8" text-anchor="end" transform="rotate(-45 263.7 327.5)" textLength="34.5" lengthAdjust="spacingAndGlyphs">Anti-IgM</text>
<text x="293.2" y="327.7" font-size="8.8" text-anchor="end" transform="rotate(-45 293.2 327.7)" textLength="21.8" lengthAdjust="spacingAndGlyphs">RPMI</text>
<text x="320.4" y="327.5" font-size="8.8" text-anchor="end" transform="rotate(-45 320.4 327.5)" textLength="34.5" lengthAdjust="spacingAndGlyphs">Anti-IgM</text>
<line x1="221.9" y1="356.4" x2="274.8" y2="356.4" stroke="#231f20" stroke-width="1.2"/>
<line x1="277.8" y1="356.4" x2="331.5" y2="356.4" stroke="#231f20" stroke-width="1.2"/>
<text x="240.1" y="367.2" font-size="8.8" textLength="16.5" lengthAdjust="spacingAndGlyphs">OP9</text>
<text x="286.5" y="367" font-size="8.8" textLength="35.5" lengthAdjust="spacingAndGlyphs">OP9-DL1</text>
<rect x="384" y="300" width="14" height="15" fill="#d19189"/>
<rect x="406" y="287" width="14" height="28" fill="#dfe0c6"/>
<rect x="428.6" y="276" width="13.4" height="39" fill="#8fa898"/>
<rect x="451" y="256.6" width="14" height="58.4" fill="#c5c0e2"/>
<rect x="473.6" y="259.8" width="13.9" height="55.2" fill="#9899aa"/>
<line x1="379.5" y1="212.4" x2="379.5" y2="315.6" stroke="#231f20" stroke-width="1.3"/>
<line x1="376.1" y1="315" x2="379.5" y2="315" stroke="#231f20" stroke-width="1.1"/>
<text x="373.9" y="317.5" font-size="8.8" text-anchor="end">0</text>
<line x1="376.1" y1="295" x2="379.5" y2="295" stroke="#231f20" stroke-width="1.1"/>
<text x="373.9" y="297.5" font-size="8.8" text-anchor="end">5</text>
<line x1="376.1" y1="275" x2="379.5" y2="275" stroke="#231f20" stroke-width="1.1"/>
<text x="373.9" y="277.5" font-size="8.8" text-anchor="end">10</text>
<line x1="376.1" y1="255" x2="379.5" y2="255" stroke="#231f20" stroke-width="1.1"/>
<text x="373.9" y="257.5" font-size="8.8" text-anchor="end">15</text>
<line x1="376.1" y1="235" x2="379.5" y2="235" stroke="#231f20" stroke-width="1.1"/>
<text x="373.9" y="237.5" font-size="8.8" text-anchor="end">20</text>
<line x1="376.1" y1="215" x2="379.5" y2="215" stroke="#231f20" stroke-width="1.1"/>
<text x="373.9" y="217.5" font-size="8.8" text-anchor="end">25</text>
<line x1="378.9" y1="315" x2="492.4" y2="315" stroke="#231f20" stroke-width="1.2"/>
<line x1="390.6" y1="315" x2="390.6" y2="318.2" stroke="#231f20" stroke-width="1"/>
<line x1="413" y1="315" x2="413" y2="318.2" stroke="#231f20" stroke-width="1"/>
<line x1="435.6" y1="315" x2="435.6" y2="318.2" stroke="#231f20" stroke-width="1"/>
<line x1="457.9" y1="315" x2="457.9" y2="318.2" stroke="#231f20" stroke-width="1"/>
<line x1="480.3" y1="315" x2="480.3" y2="318.2" stroke="#231f20" stroke-width="1"/>
<circle cx="386.5" cy="295.5" r="2.5" fill="none" stroke="#c22a43" stroke-width="1.2"/>
<circle cx="390.5" cy="294.5" r="2.5" fill="none" stroke="#c22a43" stroke-width="1.2"/>
<circle cx="394.5" cy="294" r="2.5" fill="none" stroke="#c22a43" stroke-width="1.2"/>
<circle cx="388" cy="299.5" r="2.5" fill="none" stroke="#c22a43" stroke-width="1.2"/>
<circle cx="393" cy="299" r="2.5" fill="none" stroke="#c22a43" stroke-width="1.2"/>
<circle cx="396.5" cy="297.5" r="2.5" fill="none" stroke="#c22a43" stroke-width="1.2"/>
<circle cx="387.6" cy="305.6" r="2.5" fill="none" stroke="#c22a43" stroke-width="1.2"/>
<circle cx="393.6" cy="305" r="2.5" fill="none" stroke="#c22a43" stroke-width="1.2"/>
<circle cx="390.5" cy="302" r="2.5" fill="none" stroke="#c22a43" stroke-width="1.2"/>
<line x1="413.4" y1="282.4" x2="413.4" y2="294.4" stroke="#231f20" stroke-width="1.1"/>
<line x1="409.6" y1="282.4" x2="417.2" y2="282.4" stroke="#231f20" stroke-width="1.1"/>
<line x1="409.6" y1="294.4" x2="417.2" y2="294.4" stroke="#231f20" stroke-width="1.1"/>
<circle cx="413.4" cy="265" r="2.4" fill="#2b4a8b"/>
<circle cx="413.4" cy="273.6" r="2.4" fill="#2b4a8b"/>
<circle cx="408" cy="288.4" r="2.4" fill="#2b4a8b"/>
<circle cx="413.4" cy="287.6" r="2.4" fill="#2b4a8b"/>
<circle cx="418.6" cy="291.6" r="2.4" fill="#2b4a8b"/>
<circle cx="416" cy="304.4" r="2.4" fill="#2b4a8b"/>
<circle cx="410.6" cy="308.4" r="2.4" fill="#2b4a8b"/>
<line x1="435" y1="266.4" x2="435" y2="285" stroke="#231f20" stroke-width="1.1"/>
<line x1="432" y1="266.4" x2="438" y2="266.4" stroke="#231f20" stroke-width="1.1"/>
<line x1="432" y1="285" x2="438" y2="285" stroke="#231f20" stroke-width="1.1"/>
<rect x="432.6" y="234.4" width="4.8" height="4.8" fill="none" stroke="#4d7f5f" stroke-width="1.1"/>
<rect x="432.6" y="253.6" width="4.8" height="4.8" fill="none" stroke="#4d7f5f" stroke-width="1.1"/>
<rect x="432.6" y="258.6" width="4.8" height="4.8" fill="none" stroke="#4d7f5f" stroke-width="1.1"/>
<rect x="428.6" y="267.6" width="4.8" height="4.8" fill="none" stroke="#4d7f5f" stroke-width="1.1"/>
<rect x="435.6" y="266.6" width="4.8" height="4.8" fill="none" stroke="#4d7f5f" stroke-width="1.1"/>
<rect x="438.6" y="268.6" width="4.8" height="4.8" fill="none" stroke="#4d7f5f" stroke-width="1.1"/>
<rect x="430.6" y="272.6" width="4.8" height="4.8" fill="none" stroke="#4d7f5f" stroke-width="1.1"/>
<rect x="435.6" y="272.6" width="4.8" height="4.8" fill="none" stroke="#4d7f5f" stroke-width="1.1"/>
<rect x="431.6" y="280.6" width="4.8" height="4.8" fill="none" stroke="#4d7f5f" stroke-width="1.1"/>
<rect x="436.2" y="281.6" width="4.8" height="4.8" fill="none" stroke="#4d7f5f" stroke-width="1.1"/>
<rect x="430.6" y="286.6" width="4.8" height="4.8" fill="none" stroke="#4d7f5f" stroke-width="1.1"/>
<rect x="434.6" y="275.6" width="4.8" height="4.8" fill="none" stroke="#4d7f5f" stroke-width="1.1"/>
<rect x="452.75" y="238.15" width="4.9" height="4.9" fill="#8b7dc6"/>
<rect x="458.05" y="236.85" width="4.9" height="4.9" fill="#8b7dc6"/>
<rect x="450.35" y="245.35" width="4.9" height="4.9" fill="#8b7dc6"/>
<rect x="455.45" y="246.45" width="4.9" height="4.9" fill="#8b7dc6"/>
<rect x="455.95" y="250.95" width="4.9" height="4.9" fill="#8b7dc6"/>
<rect x="450.35" y="261.35" width="4.9" height="4.9" fill="#8b7dc6"/>
<rect x="454.55" y="262.55" width="4.9" height="4.9" fill="#8b7dc6"/>
<rect x="459.55" y="264.55" width="4.9" height="4.9" fill="#8b7dc6"/>
<rect x="450.35" y="267.05" width="4.9" height="4.9" fill="#8b7dc6"/>
<rect x="459.55" y="267.55" width="4.9" height="4.9" fill="#8b7dc6"/>
<rect x="455.05" y="266.05" width="4.9" height="4.9" fill="#8b7dc6"/>
<line x1="457.9" y1="252.1" x2="457.9" y2="259.8" stroke="#231f20" stroke-width="1.1"/>
<line x1="454.9" y1="252.1" x2="460.9" y2="252.1" stroke="#231f20" stroke-width="1.1"/>
<line x1="454.9" y1="259.8" x2="460.9" y2="259.8" stroke="#231f20" stroke-width="1.1"/>
<line x1="480.3" y1="254.2" x2="480.3" y2="265" stroke="#231f20" stroke-width="1.1"/>
<line x1="476.8" y1="254.2" x2="483.8" y2="254.2" stroke="#231f20" stroke-width="1.1"/>
<path d="M480.3 243.2L483.3 246.2L480.3 249.2L477.3 246.2Z" fill="#4a5373"/>
<path d="M475.5 253.6L478.5 256.6L475.5 259.6L472.5 256.6Z" fill="#4a5373"/>
<path d="M485.6 251.2L488.6 254.2L485.6 257.2L482.6 254.2Z" fill="#4a5373"/>
<path d="M480.3 260L483.3 263L480.3 266L477.3 263Z" fill="#4a5373"/>
<path d="M480.3 270.8L483.3 273.8L480.3 276.8L477.3 273.8Z" fill="#4a5373"/>
<line x1="434.1" y1="207.3" x2="479.7" y2="207.3" stroke="#2c2c2c" stroke-width="1.3"/>
<text x="453.3" y="205.6" font-size="8.8" textLength="11" lengthAdjust="spacingAndGlyphs">NS</text>
<line x1="411.5" y1="220" x2="457.6" y2="220" stroke="#2c2c2c" stroke-width="1.3"/>
<path d="M430.9 214L431.37 215.1L432.56 215.21L431.66 216L431.93 217.17L430.9 216.55L429.87 217.17L430.14 216L429.24 215.21L430.43 215.1ZM434.47 214L434.94 215.1L436.13 215.21L435.23 216L435.5 217.17L434.47 216.55L433.44 217.17L433.71 216L432.8 215.21L434 215.1ZM438.03 214L438.5 215.1L439.7 215.21L438.79 216L439.06 217.17L438.03 216.55L437 217.17L437.27 216L436.37 215.21L437.56 215.1ZM441.6 214L442.07 215.1L443.26 215.21L442.36 216L442.63 217.17L441.6 216.55L440.57 217.17L440.84 216L439.94 215.21L441.13 215.1Z" fill="#1a1a1a"/>
<line x1="459.5" y1="220" x2="479.7" y2="220" stroke="#2c2c2c" stroke-width="1.3"/>
<text x="463.6" y="217.6" font-size="8.8" textLength="10.3" lengthAdjust="spacingAndGlyphs">NS</text>
<line x1="390" y1="232" x2="434.8" y2="232" stroke="#2c2c2c" stroke-width="1.3"/>
<path d="M406.9 226L407.37 227.1L408.56 227.21L407.66 228L407.93 229.17L406.9 228.55L405.87 229.17L406.14 228L405.24 227.21L406.43 227.1ZM410.47 226L410.94 227.1L412.13 227.21L411.23 228L411.5 229.17L410.47 228.55L409.44 229.17L409.71 228L408.8 227.21L410 227.1ZM414.03 226L414.5 227.1L415.7 227.21L414.79 228L415.06 229.17L414.03 228.55L413 229.17L413.27 228L412.37 227.21L413.56 227.1ZM417.6 226L418.07 227.1L419.26 227.21L418.36 228L418.63 229.17L417.6 228.55L416.57 229.17L416.84 228L415.94 227.21L417.13 227.1Z" fill="#1a1a1a"/>
<line x1="436.5" y1="232" x2="457.6" y2="232" stroke="#2c2c2c" stroke-width="1.3"/>
<path d="M446.8 226L447.27 227.1L448.46 227.21L447.56 228L447.83 229.17L446.8 228.55L445.77 229.17L446.04 228L445.14 227.21L446.33 227.1Z" fill="#1a1a1a"/>
<line x1="390" y1="260.4" x2="411" y2="260.4" stroke="#2c2c2c" stroke-width="1.3"/>
<text x="395.2" y="257.8" font-size="8.8" textLength="11.1" lengthAdjust="spacingAndGlyphs">NS</text>
<text x="357.4" y="258.7" font-size="9.3" text-anchor="middle" transform="rotate(-90 357.4 258.7)" textLength="53.4" lengthAdjust="spacingAndGlyphs">% MZ B cells</text>
<text x="384.3" y="329.2" font-size="8.8" textLength="13.2" lengthAdjust="spacingAndGlyphs">BM</text>
<text x="382.75" y="339.8" font-size="8.8" textLength="16.3" lengthAdjust="spacingAndGlyphs">only</text>
<text x="406.65" y="329.2" font-size="8.8" textLength="13.3" lengthAdjust="spacingAndGlyphs">BM</text>
<text x="405.6" y="339.8" font-size="8.8" textLength="15.4" lengthAdjust="spacingAndGlyphs">+Sp</text>
<text x="430.3" y="329.2" font-size="8.8" textLength="10.6" lengthAdjust="spacingAndGlyphs">Tg</text>
<text x="428.95" y="339.8" font-size="8.8" textLength="13.3" lengthAdjust="spacingAndGlyphs">BM</text>
<text x="427.55" y="350.4" font-size="8.8" textLength="16.1" lengthAdjust="spacingAndGlyphs">only</text>
<text x="452.85" y="329.2" font-size="8.8" textLength="10.3" lengthAdjust="spacingAndGlyphs">Tg</text>
<text x="451.5" y="339.8" font-size="8.8" textLength="13" lengthAdjust="spacingAndGlyphs">BM</text>
<text x="450.4" y="350.4" font-size="8.8" textLength="15.2" lengthAdjust="spacingAndGlyphs">+Sp</text>
<text x="472.4" y="329.2" font-size="8.8" textLength="15.6" lengthAdjust="spacingAndGlyphs">Syn-</text>
<text x="474.95" y="339.8" font-size="8.8" textLength="10.5" lengthAdjust="spacingAndGlyphs">Tg</text>
<defs>
<filter id="bl1" x="-50%" y="-50%" width="200%" height="200%"><feGaussianBlur stdDeviation="0.7"/></filter>
<filter id="bl2" x="-50%" y="-50%" width="200%" height="200%"><feGaussianBlur stdDeviation="1.3"/></filter>
<filter id="bl05" x="-50%" y="-50%" width="200%" height="200%"><feGaussianBlur stdDeviation="0.45"/></filter>
</defs>
<text x="161.3" y="43.3" font-size="8.8" textLength="13.7" lengthAdjust="spacingAndGlyphs">Syn</text>
<text x="134.6" y="91" font-size="8.8" textLength="32" lengthAdjust="spacingAndGlyphs">BM only</text>
<text x="174.4" y="91" font-size="8.8" textLength="29.2" lengthAdjust="spacingAndGlyphs">BM+Sp</text>
<rect x="148.6" y="46" width="36.4" height="34" fill="none" stroke="#c2c2c2" stroke-width="0.9" rx="1.5"/>
<line x1="148.6" y1="49" x2="148.6" y2="77" stroke="#8c8c8c" stroke-width="0.9" stroke-dasharray="1 3.2"/>
<line x1="151.6" y1="80" x2="182" y2="80" stroke="#8c8c8c" stroke-width="0.9" stroke-dasharray="1.2 3.4"/>
<path d="M151.8 69.5 C151.5 65 154.3 63.5 158.3 63.5 C163.8 63.5 165.6 65.5 165.6 71 C165.8 76.5 163.3 78.7 158.3 78.7 C152.8 78.7 151.5 75.5 151.8 69.5Z" fill="#d6d6d6" stroke="#c0c0c0" stroke-width="0.8" filter="url(#bl05)"/>
<path d="M153.5 69 C153.5 65.7 155.8 65 158.3 65 C161.8 65 163.5 66 163.5 69.5 C163.5 73.5 161.3 76.5 158.3 76.5 C155.3 76.5 153.5 73.5 153.5 69Z" fill="#c0c0c0" stroke="none" filter="url(#bl1)"/>
<path d="M154.5 67.3 C154.5 65.5 156.8 65.3 158.3 65.3 C160.1 65.3 162.1 65.5 162.1 67.3 C162.1 69 159.8 70 158.9 71.7 L158.9 75 L157.8 75 L157.8 71.7 C156.5 70 154.5 69 154.5 67.3Z" fill="#efefef" stroke="#858585" stroke-width="1.05" filter="url(#bl05)"/>
<ellipse cx="168.8" cy="67.8" rx="3.6" ry="2.3" fill="#ececec" stroke="#a8a8a8" stroke-width="0.8" filter="url(#bl05)"/>
<rect x="165.8" y="57.6" width="16.9" height="13.6" fill="none" stroke="#858585" stroke-width="0.9"/>
<text x="169" y="55.6" font-size="8" textLength="11.3" lengthAdjust="spacingAndGlyphs" style="stroke-width:0.12px">5.7</text>
<rect x="132.6" y="94.4" width="35.8" height="33.6" fill="none" stroke="#c2c2c2" stroke-width="0.9" rx="1.5"/>
<line x1="132.6" y1="97.4" x2="132.6" y2="125" stroke="#8c8c8c" stroke-width="0.9" stroke-dasharray="1 3.2"/>
<line x1="135.6" y1="128" x2="165.4" y2="128" stroke="#8c8c8c" stroke-width="0.9" stroke-dasharray="1.2 3.4"/>
<path d="M136.4 117.4 C136.1 112.9 138.9 111.4 142.9 111.4 C148.4 111.4 150.2 113.4 150.2 118.9 C150.4 124.4 147.9 126.6 142.9 126.6 C137.4 126.6 136.1 123.4 136.4 117.4Z" fill="#d6d6d6" stroke="#c0c0c0" stroke-width="0.8" filter="url(#bl05)"/>
<path d="M138.1 116.9 C138.1 113.6 140.4 112.9 142.9 112.9 C146.4 112.9 148.1 113.9 148.1 117.4 C148.1 121.4 145.9 124.4 142.9 124.4 C139.9 124.4 138.1 121.4 138.1 116.9Z" fill="#c0c0c0" stroke="none" filter="url(#bl1)"/>
<path d="M139.1 115.2 C139.1 113.4 141.4 113.2 142.9 113.2 C144.7 113.2 146.7 113.4 146.7 115.2 C146.7 116.9 144.4 117.9 143.5 119.6 L143.5 122.9 L142.4 122.9 L142.4 119.6 C141.1 117.9 139.1 116.9 139.1 115.2Z" fill="#efefef" stroke="#858585" stroke-width="1.05" filter="url(#bl05)"/>
<ellipse cx="153.4" cy="115.7" rx="3.6" ry="2.3" fill="#ececec" stroke="#a8a8a8" stroke-width="0.8" filter="url(#bl05)"/>
<path d="M148 119 C151 118.5 153 119 154 121 C154.5 123.5 152 125 149 125" fill="#dcdcdc" stroke="#b8b8b8" stroke-width="0.7" filter="url(#bl05)"/>
<rect x="149.4" y="105.4" width="16.3" height="14.2" fill="none" stroke="#858585" stroke-width="0.9"/>
<text x="150.7" y="103.6" font-size="8" textLength="14.5" lengthAdjust="spacingAndGlyphs" style="stroke-width:0.12px">10.4</text>
<rect x="170.2" y="94.2" width="35.6" height="33.8" fill="none" stroke="#c2c2c2" stroke-width="0.9" rx="1.5"/>
<line x1="170.2" y1="97.2" x2="170.2" y2="125" stroke="#8c8c8c" stroke-width="0.9" stroke-dasharray="1 3.2"/>
<line x1="173.2" y1="128" x2="202.8" y2="128" stroke="#8c8c8c" stroke-width="0.9" stroke-dasharray="1.2 3.4"/>
<path d="M176 116 C176 112.5 180 111.8 186 112 C192 112 195.5 113 195.3 115.5 C195 118.5 191 119.8 185 119.8 C179.5 119.8 176 119 176 116Z" fill="#d2d2d2" stroke="#b0b0b0" stroke-width="0.8" filter="url(#bl05)"/>
<path d="M178.5 116 C178.5 114 181 113.3 184 113.5 C186 113.7 186.5 115 186.5 116.2 C186.5 117.5 184.5 118.3 182 118.3 C179.8 118.3 178.5 117.4 178.5 116Z" fill="#f2f2f2" stroke="#6f6f6f" stroke-width="1.1" filter="url(#bl05)"/>
<path d="M187.5 115.8 C188 114 190.5 113.6 192.5 114 C194 114.5 194 116 193 117 C191.5 118.3 188.5 118.3 187.5 117.2Z" fill="#eaeaea" stroke="#8a8a8a" stroke-width="0.9" filter="url(#bl05)"/>
<path d="M177 123 C177 120.5 181 120 186 120.2 C191.5 120.3 195.2 121 195 123.2 C194.8 125.5 191 126.4 186 126.4 C180.5 126.4 177 125.5 177 123Z" fill="#d8d8d8" stroke="#b4b4b4" stroke-width="0.8" filter="url(#bl05)"/>
<path d="M181 123.2 C181 121.8 183 121.5 184.5 121.8 C186 122.2 186 123.8 184.8 124.5 C183.5 125 181 124.6 181 123.2Z" fill="#eee" stroke="#7d7d7d" stroke-width="0.9" filter="url(#bl05)"/>
<path d="M187 123.4 C187.5 122 189.5 121.8 191 122.2 C192.3 122.7 192 124.2 190.5 124.6 C189 125 187 124.7 187 123.4Z" fill="#eee" stroke="#8a8a8a" stroke-width="0.8" filter="url(#bl05)"/>
<rect x="187.4" y="105.4" width="16.2" height="13.9" fill="none" stroke="#858585" stroke-width="0.9"/>
<text x="188" y="103.6" font-size="8" textLength="15.3" lengthAdjust="spacingAndGlyphs" style="stroke-width:0.12px">25.1</text>
<line x1="124.2" y1="60.1" x2="124.2" y2="73.4" stroke="#231f20" stroke-width="1.2"/>
<path d="M124.2 54.6L126.5 61.1L121.9 61.1Z" fill="#231f20"/>
<text x="127.2" y="93.5" font-size="10" text-anchor="middle" transform="rotate(-90 127.2 93.5)" textLength="32.2" lengthAdjust="spacingAndGlyphs">NOTCH2</text>
<path d="M124.2 116.2 L124.2 135.2 L158.7 135.2" fill="none" stroke="#231f20" stroke-width="1.2"/>
<text x="162" y="139.2" font-size="10" textLength="13.6" lengthAdjust="spacingAndGlyphs">GL7</text>
<line x1="179.6" y1="135.2" x2="200.1" y2="135.2" stroke="#231f20" stroke-width="1.2"/>
<path d="M205.6 135.2L199.1 132.9L199.1 137.5Z" fill="#231f20"/>
<text x="74.5" y="210.5" font-size="8.8" textLength="17.3" lengthAdjust="spacingAndGlyphs">OP9</text>
<text x="122.9" y="210.5" font-size="8.8" textLength="34.9" lengthAdjust="spacingAndGlyphs">OP9-DL1</text>
<text x="10.4" y="245" font-size="8.8" textLength="32" lengthAdjust="spacingAndGlyphs">BM only</text>
<text x="8" y="292" font-size="8.8" textLength="35" lengthAdjust="spacingAndGlyphs">BAFF-Tg</text>
<text x="10.4" y="303" font-size="8.8" textLength="32" lengthAdjust="spacingAndGlyphs">BM only</text>
<line x1="50.4" y1="226.4" x2="50.4" y2="251.6" stroke="#231f20" stroke-width="1.2"/>
<path d="M50.4 220.4L52.8 227.4L48 227.4Z" fill="#231f20"/>
<text x="53.2" y="265.3" font-size="10.3" text-anchor="middle" transform="rotate(-90 53.2 265.3)" textLength="19.2" lengthAdjust="spacingAndGlyphs">B220</text>
<path d="M50.4 281.6 L50.4 323.4 L98.3 323.4" fill="none" stroke="#231f20" stroke-width="1.2"/>
<text x="102.8" y="327.2" font-size="10" textLength="18.8" lengthAdjust="spacingAndGlyphs">Ki-67</text>
<line x1="125.7" y1="323.5" x2="147.8" y2="323.5" stroke="#231f20" stroke-width="1.2"/>
<path d="M153.3 323.5L146.8 321.2L146.8 325.8Z" fill="#231f20"/>
<rect x="58.4" y="214.5" width="50.3" height="48" fill="none" stroke="#c2c2c2" stroke-width="0.9" rx="1.5"/>
<line x1="58.4" y1="217.5" x2="58.4" y2="259.5" stroke="#8c8c8c" stroke-width="0.9" stroke-dasharray="1 3.2"/>
<line x1="61.4" y1="262.5" x2="105.7" y2="262.5" stroke="#8c8c8c" stroke-width="0.9" stroke-dasharray="1.2 3.4"/>
<path d="M81.95 243.3h0.01M82.19 239.58h0.01M76.56 240.04h0.01M92.9 242.91h0.01M92.3 242.12h0.01M87.16 241.83h0.01M70.67 244.85h0.01M88.05 243.24h0.01M70.47 233.15h0.01M76.88 238.89h0.01M86.44 240.79h0.01M88.17 238.11h0.01M86.47 242.77h0.01M78.71 248.73h0.01M88.45 246.39h0.01M79.04 237.67h0.01M81.25 240.52h0.01M89.06 242.12h0.01M80.42 236.69h0.01M79.84 246.49h0.01M77.54 242.1h0.01M87.41 234.3h0.01M84.39 246.88h0.01M67.89 239.55h0.01M83.15 237.32h0.01M87.98 240.72h0.01M72.28 244.73h0.01M89.35 245.26h0.01M95.52 242.63h0.01M84.95 235.15h0.01M88.92 238.25h0.01M80.38 235.31h0.01M76.26 238.61h0.01M94.31 231.86h0.01M72.34 242.08h0.01M95.55 243.6h0.01M68.8 229.67h0.01M86.86 237.69h0.01M75.04 245.4h0.01M92.81 241.71h0.01M85.97 242.95h0.01M96.75 243.79h0.01M88.15 243.46h0.01M71.45 246.77h0.01M91.64 243.38h0.01M68.21 238.15h0.01M90.74 232.85h0.01M82.53 245.59h0.01M73.51 248.25h0.01M88.42 240.32h0.01M86.6 243.92h0.01M84.96 246.16h0.01M78.71 239.13h0.01M92.33 241.12h0.01M76.96 245.26h0.01M95.72 239h0.01M72.96 240.39h0.01M82.81 239.66h0.01M95.24 236.38h0.01M94.08 235.29h0.01M77.7 243.84h0.01M93.03 244.87h0.01M86.76 241.64h0.01M85.22 243.59h0.01M82.59 242.25h0.01M88.58 241h0.01M90.11 243.55h0.01M100.09 242.46h0.01M80.58 239.32h0.01M83.9 245.16h0.01" stroke="#000" stroke-width="0.66" stroke-linecap="round" opacity="0.3"/>
<path d="M76.99 242.58h0.01M86.77 234.32h0.01M73.44 242.18h0.01M80.29 242.17h0.01M76.56 243.33h0.01M79.77 240.04h0.01M89.44 242.49h0.01M76.01 241.22h0.01M77.48 241.32h0.01M66.22 240.14h0.01M83.04 238.23h0.01M78.2 244.17h0.01M82.35 245.67h0.01M70.84 240.51h0.01M76.97 243.25h0.01M83.41 233.99h0.01M83.4 237.45h0.01M81.57 237.32h0.01M79.29 244.85h0.01M77.83 242.04h0.01M82.09 241.9h0.01M78.1 245.79h0.01M83.22 240.68h0.01M90.85 238.29h0.01M82.62 240.76h0.01M79.1 243.47h0.01M79.5 243.29h0.01M71.63 237.27h0.01M81.27 238.8h0.01M73.88 237.38h0.01M84.2 243.59h0.01M85.13 238.87h0.01M78.5 238.31h0.01M81.95 245.95h0.01M74.49 245.87h0.01M82.95 241h0.01M69.63 245.44h0.01M78.07 239.81h0.01M80.3 242.65h0.01M85.24 238.64h0.01M83.61 245.66h0.01M85.04 240.99h0.01M75.15 244.35h0.01M79.02 241.85h0.01M84.91 240.76h0.01M68.16 240.42h0.01M70.16 243.79h0.01M79.93 239.79h0.01M78.46 243.83h0.01M78.86 245.21h0.01M78.22 244.41h0.01M85.21 246.01h0.01M75.48 243.96h0.01M70.06 238.47h0.01M69.67 244.49h0.01M72.96 241.46h0.01M77.64 241.42h0.01M75.84 242.15h0.01M86.56 241.62h0.01M80.89 244.3h0.01M77.61 237.97h0.01M76 244.51h0.01M71.09 239.83h0.01M83.03 243.72h0.01M78.53 243.75h0.01M79.25 238.2h0.01M71.46 239.71h0.01M82.65 239.92h0.01M74.44 239.34h0.01M71.61 241.17h0.01M73.19 242.52h0.01M67.88 242.42h0.01M75.61 236.06h0.01M81.76 240.73h0.01M68.46 239.05h0.01M79.81 240.22h0.01M82.01 243.59h0.01M81.5 242.41h0.01M84.5 243.35h0.01M80.53 235.66h0.01M82.53 245.17h0.01M77.16 240.19h0.01M87.23 236.58h0.01M80.61 248.29h0.01M74.33 243.43h0.01M86.99 241.16h0.01M81.03 244.03h0.01M74.42 241.25h0.01M79.82 243.81h0.01M78.34 240.95h0.01M73.93 240.49h0.01M82.51 241.78h0.01M74.66 239.14h0.01M90.5 244.69h0.01M81.37 234.24h0.01M81.3 242.85h0.01M86.08 242.7h0.01M78.2 242.96h0.01M69.75 244.39h0.01M79.96 239.53h0.01M84.47 246.57h0.01M72.19 239.63h0.01M79.81 242.01h0.01M76.71 238.77h0.01M88.04 244.4h0.01M73.13 237.73h0.01M86.16 244.27h0.01M86.69 243.77h0.01M74.58 242.23h0.01M68.78 239.41h0.01M78.23 242.96h0.01M75.23 241.15h0.01M80.56 242.55h0.01M81.37 242.09h0.01M77.04 243.71h0.01M78.72 239.19h0.01M75.68 241.5h0.01M78.01 241.94h0.01M78.5 241.99h0.01M77.9 237.98h0.01M80.4 244.45h0.01M80.46 240.97h0.01M80.51 238.8h0.01M69.97 241.67h0.01M74.31 243.57h0.01M73.62 234.14h0.01M73.82 245.92h0.01M76.78 237.67h0.01M75.06 242.96h0.01M80.74 241.99h0.01M85.18 243.48h0.01M78.41 243.17h0.01M85.95 244.22h0.01M83.11 238.47h0.01M77.83 243.54h0.01M77.17 244.49h0.01M81.18 244.04h0.01M77.54 248.63h0.01M84.08 240.9h0.01M78.91 248.77h0.01M76.96 243.95h0.01M82.91 241.52h0.01M73.25 242.03h0.01M80.12 244.66h0.01M82.02 241.57h0.01M82.34 243.01h0.01M79.43 241.65h0.01M77.4 243.42h0.01M73.76 239.74h0.01M78.52 237.4h0.01M76.54 235.88h0.01M75.43 243.09h0.01M81.05 241.35h0.01M77.46 237.53h0.01M86.73 242.94h0.01M83.42 239.03h0.01M77.67 236.41h0.01M82.01 244.12h0.01M69.96 241.35h0.01M81.34 236.57h0.01M70.29 238.52h0.01M75.67 237.57h0.01M78.64 242.2h0.01M81.35 243.47h0.01M85.26 244.76h0.01M72.6 240.08h0.01M73.73 238.49h0.01M78.13 241.52h0.01M80.71 237.06h0.01M72.93 241.44h0.01M77.6 240.63h0.01M78.22 239.37h0.01M81.66 242.49h0.01M78.11 239.62h0.01M77.72 233.88h0.01M74.08 241.6h0.01M71.73 242.06h0.01M79.16 237.64h0.01M77.37 240.62h0.01M80.57 243.21h0.01M78.34 239.12h0.01M77.85 241.32h0.01M81.81 242.32h0.01M75.25 237.71h0.01M76.82 239.43h0.01M73.5 241.18h0.01M76.29 241.8h0.01M80.85 240.34h0.01M88.96 240.6h0.01M83.46 241.84h0.01M83.52 234.85h0.01M75.12 242.19h0.01M81.21 248.04h0.01M79.95 245.08h0.01M81.95 244.15h0.01M80.8 241.06h0.01M80.79 238.48h0.01M83.82 238.65h0.01M79.62 247.44h0.01M77.49 241.55h0.01M83.73 241.57h0.01M74.87 242.22h0.01M81.12 243.49h0.01M75.02 246.41h0.01M86 241.55h0.01M79.71 240.3h0.01M84.86 239.53h0.01M81.53 240.16h0.01M75.38 243.51h0.01M84.5 241.47h0.01M75.45 243.77h0.01M78.28 242.37h0.01M85.35 244.67h0.01M76.16 247.89h0.01M78.52 243.7h0.01M75.59 241.37h0.01M70.63 246.5h0.01M84.65 238.1h0.01M71.73 236.96h0.01M83.79 240.21h0.01M78.23 240.62h0.01M77.95 238.45h0.01M78.61 237.47h0.01M78.18 242.36h0.01M80.6 240.85h0.01M74.43 241.95h0.01M76.32 245.88h0.01M81.95 241.18h0.01M76.38 239.53h0.01M74.28 240.51h0.01M79.83 242.94h0.01M81.06 247.38h0.01M75.33 241.54h0.01M91.08 236.27h0.01M76.15 241.97h0.01M79.19 242.64h0.01M77.43 242.53h0.01M78.74 243.66h0.01M69.98 239.02h0.01M78.49 238.61h0.01M73.8 243.26h0.01M75.58 243.28h0.01M81.86 242.36h0.01M80.79 241.21h0.01M72.16 241.42h0.01M80.54 240.02h0.01M78.05 243.6h0.01M74.55 243.29h0.01M86.88 239.95h0.01M79.16 241.08h0.01M85.43 242.39h0.01M82.54 239.57h0.01M78.43 241.47h0.01M70.51 245.53h0.01M82.55 236.6h0.01M81.85 241.13h0.01M80.52 242.53h0.01M71.75 240.91h0.01M85.22 239.89h0.01M73.9 237.69h0.01" stroke="#000" stroke-width="0.66" stroke-linecap="round" opacity="0.3"/>
<path d="M85.37 240.54h0.01M92.36 240.74h0.01M88.89 244.71h0.01M87.05 238.32h0.01M89.57 241.01h0.01M85.86 237.23h0.01M89 240.34h0.01M85.16 239.36h0.01M87 240.81h0.01M88.02 239.61h0.01M87.45 242.12h0.01M91.64 238.99h0.01M90.33 238.13h0.01M88.47 241.45h0.01M91.93 238.96h0.01M88.12 240.23h0.01M84.7 239.83h0.01M86.68 240.62h0.01M85.59 235.45h0.01M88.39 240.37h0.01M86.98 241.76h0.01M87.64 238.47h0.01M89.45 236.35h0.01M86.67 239.75h0.01M90.34 239.44h0.01M89.04 238.36h0.01M89.02 243.46h0.01M86.65 245.01h0.01M86.75 239.84h0.01M88.72 242.05h0.01M85.33 235.18h0.01M89.75 241.55h0.01M89.8 245.59h0.01M88.79 240.36h0.01M90.53 240.61h0.01M92.29 237.08h0.01M87.4 232.22h0.01M90.25 238.98h0.01M90.52 244.54h0.01M88.29 239.24h0.01M87.1 237.96h0.01M86.79 241.21h0.01M88.39 239.95h0.01M87.88 241.81h0.01M89.49 239.49h0.01M89.9 239.47h0.01M85.53 243h0.01M89.42 237.69h0.01M90.89 240.56h0.01M84.55 243.34h0.01M89.1 241.76h0.01M88.77 239.47h0.01M84.58 241.94h0.01M88.37 239.17h0.01M89.14 239.97h0.01M89.92 238.98h0.01M88.21 235.09h0.01M87.28 241.29h0.01M91.51 239h0.01M88.01 243.28h0.01M87.52 241.41h0.01M92.33 239.89h0.01M91.24 238.24h0.01M88.8 239.63h0.01M88.58 242.29h0.01M94.04 238.34h0.01M86.92 240.89h0.01M85.77 240.89h0.01M89.67 239.19h0.01M89.57 236.39h0.01M90.12 236.4h0.01M86.63 238.58h0.01M87.34 241.69h0.01M88.5 238.93h0.01M89.6 243.28h0.01M88.31 240.6h0.01M91.28 240.39h0.01M85.22 245.28h0.01M93.6 235.43h0.01M88.21 240.72h0.01M90.62 241.27h0.01M87.65 237.48h0.01M88.55 242.07h0.01M85.68 237.54h0.01M88.24 235.54h0.01M87.68 238.84h0.01M89.38 238.26h0.01M86.18 238.93h0.01M88.18 238.34h0.01M88.33 241.45h0.01M91.14 243.55h0.01M86.42 238.88h0.01M82.34 243.98h0.01M86.56 239.73h0.01M89.55 236.81h0.01M89.41 239.74h0.01M83.92 240.44h0.01M91.17 235.69h0.01M90.24 240.26h0.01M89.44 240.77h0.01M91.43 239.31h0.01M90.4 238.9h0.01M90.05 238.01h0.01M88.04 243.61h0.01M89.37 239.45h0.01M85.55 238.06h0.01M88.76 241.87h0.01M89.32 240.95h0.01M88.2 242.77h0.01M87.36 238.59h0.01M90.43 239.94h0.01M87.63 238.53h0.01M87.68 241.17h0.01M89.15 237.14h0.01M89.32 240.19h0.01M85.9 241.5h0.01M87.63 239.06h0.01M90.21 242.71h0.01M86.65 240.76h0.01M86.2 244.89h0.01M87.11 242.43h0.01M86.75 241.58h0.01M93.63 234.21h0.01M87.26 240.9h0.01M88.08 238.33h0.01M93.47 239.97h0.01M84.35 241.68h0.01M84.17 242.33h0.01M86.91 240.12h0.01M91.33 240.06h0.01M84.96 236.07h0.01M91.14 241.43h0.01M86.34 241.69h0.01M89.49 241.22h0.01M82.88 239.14h0.01M90.46 241.41h0.01M90.42 234.39h0.01M88.71 240.88h0.01M94.42 237.7h0.01M87.51 239.88h0.01M90.43 238.82h0.01M91.05 238.07h0.01M88.94 238.64h0.01M88.68 238.28h0.01M84.47 242.2h0.01M89.03 238.57h0.01M88.78 241.98h0.01M85.95 239.56h0.01M89.59 240.96h0.01M87.5 235.16h0.01M91.28 240.52h0.01M88.33 239.19h0.01M88.93 238.86h0.01M85.84 238.17h0.01M86.87 238.45h0.01M85.52 241.2h0.01M85.16 241.25h0.01M85.86 240.58h0.01M91.6 240.25h0.01M86.55 239.91h0.01M88.66 235.99h0.01M86.84 240.16h0.01M87.17 239.98h0.01M90.06 241.49h0.01M90.47 241.09h0.01M87.61 239.76h0.01M87.65 239.11h0.01M87.87 236.01h0.01M87.5 239.75h0.01M85.96 239.75h0.01M89.54 239.44h0.01M93.28 234.07h0.01M87.8 235.78h0.01M90.65 245.64h0.01M82.3 240.08h0.01M89.55 239.13h0.01M89.62 234.87h0.01M90.34 240.62h0.01M88.35 238.51h0.01M89.83 238.73h0.01M88.84 238.68h0.01M82.91 239.73h0.01M88.79 241.46h0.01M86.2 239.73h0.01M89.78 240.12h0.01M91.28 244.18h0.01M86.12 235.57h0.01M90.36 243.16h0.01M90.51 241.59h0.01M86.82 238.23h0.01M90.43 237.79h0.01M83.95 237.61h0.01M94.28 244.03h0.01M86.65 238.2h0.01M88.86 238.15h0.01M91.44 239.63h0.01M85.69 242.68h0.01M86.9 240.29h0.01M88.27 239.11h0.01M89.08 238.28h0.01M83.87 234.94h0.01M85.26 238.13h0.01M88.24 239.92h0.01M89.63 240.06h0.01M86.4 238.24h0.01M83.21 239.43h0.01M89.46 240.97h0.01M88.01 239.42h0.01M90.55 239.83h0.01M90.07 241.08h0.01M88.81 242.67h0.01M86.93 239.01h0.01M86.36 238.05h0.01M92.03 243.67h0.01M88.35 241.05h0.01M91.12 241.58h0.01M91.19 237.02h0.01M86.77 240.8h0.01M91.74 240.03h0.01M86.24 239.02h0.01M86.71 237.91h0.01M91.9 238.42h0.01M88.35 244.56h0.01M91.14 240.54h0.01M86.83 240.7h0.01M92.19 241.17h0.01M91.33 240.02h0.01M89.54 239.36h0.01M89.32 242.66h0.01M84.87 239.66h0.01M88.88 238.54h0.01M87.56 241.53h0.01M93.1 241.18h0.01M89.08 236.39h0.01M92.93 239.97h0.01M88.22 237.34h0.01M88.16 237.39h0.01M88.47 240.83h0.01M88.37 240.42h0.01M86.26 242.95h0.01M86.73 235.8h0.01M87.85 238.12h0.01M85.88 239.02h0.01M89 237.2h0.01M87.97 242.94h0.01M89.94 239.47h0.01M88.61 239.54h0.01M88.19 241.41h0.01M88.08 234.51h0.01M88.25 237.84h0.01M89.86 238.46h0.01M88.66 244.59h0.01M85.79 237.33h0.01M84.91 234.53h0.01M83.79 240.6h0.01M86.77 235.69h0.01M84.74 241.16h0.01M86.44 238.99h0.01M89.09 242.78h0.01M92.96 242.07h0.01" stroke="#000" stroke-width="0.66" stroke-linecap="round" opacity="0.5"/>
<ellipse cx="88.3" cy="239.8" rx="1.4" ry="1.2" fill="#222" opacity="0.6" transform="rotate(0 88.3 239.8)" filter="url(#bl05)"/>
<path d="M67.69 242.31h0.01M71 247.79h0.01M66.78 243.51h0.01M67.97 241.73h0.01M66.4 235.66h0.01M66.33 234.71h0.01M69.85 243.86h0.01M64.99 247.64h0.01M69.18 233.1h0.01M71.08 245.06h0.01M71.53 236.08h0.01M68.46 243.36h0.01M67.8 242.25h0.01M69.51 234.92h0.01M64.92 235.37h0.01M66.28 238.84h0.01M68.13 242.67h0.01M67.46 238.52h0.01M66.52 245.69h0.01M68.93 241.94h0.01M66.75 248.33h0.01M66.21 244.35h0.01M69.71 240.33h0.01M69.05 236.59h0.01M69.43 242.38h0.01M64.23 244.45h0.01M65.62 247.14h0.01M66.04 240.78h0.01M67.97 240.04h0.01M67.92 239.07h0.01M68.74 241.52h0.01M67.82 229.39h0.01M69.72 241.64h0.01M63.83 241.92h0.01M68.33 246.21h0.01M65.23 248.31h0.01M67.08 252.04h0.01M67.11 244.49h0.01M66.67 236.59h0.01M69.59 245.49h0.01M70.48 245.27h0.01M66.25 234.19h0.01M66.1 238.53h0.01M65.77 244.06h0.01M68.06 240.31h0.01M67.75 240.86h0.01M67.83 244.81h0.01M69.32 238.48h0.01M64.39 247.78h0.01M67.63 246.37h0.01M64.11 240.05h0.01M67.45 235.16h0.01M66.37 244.69h0.01M69.56 248.51h0.01M65.67 235.33h0.01M68.44 245.64h0.01M67.79 235.77h0.01M68.96 244.99h0.01M68.51 239.36h0.01M68.01 244.98h0.01M66.28 233.39h0.01M68.06 243.62h0.01M67.43 245.41h0.01M66.23 241.14h0.01M66.79 244.01h0.01M70.59 240.39h0.01M71.51 248.23h0.01M68.98 244.08h0.01M70.94 240.71h0.01M67.18 236.82h0.01M68.35 247.42h0.01M68.46 243.36h0.01M67 242.25h0.01M64.55 246.11h0.01M66.58 236.64h0.01M65.9 237.87h0.01M69.11 246.16h0.01M64.68 245.58h0.01M69.18 238.95h0.01M64.43 238.22h0.01M66.13 243.01h0.01M66.68 232.58h0.01M67.87 234.75h0.01M69.21 236.19h0.01M66.01 237.74h0.01M66.31 247.21h0.01M69.1 244.15h0.01M68.04 234.69h0.01M66.36 239.07h0.01M65.45 243.74h0.01M65.92 238.38h0.01M65.31 232.45h0.01M68.59 247.36h0.01M67.75 237.2h0.01M61.99 242.26h0.01M69.83 242.81h0.01M69.25 248h0.01M69.65 239.56h0.01M69.5 244.91h0.01M64.33 239.72h0.01M64.55 241.02h0.01M68.56 236.8h0.01M63.29 247.21h0.01M68.15 247.97h0.01M64.75 246.17h0.01M71.55 250.33h0.01M66.98 242.68h0.01M67.09 245.89h0.01M69.48 241.88h0.01M64.68 244.76h0.01M66.46 244.27h0.01M67.93 248.64h0.01M69.68 239.52h0.01M68.1 249.26h0.01M66.33 243.41h0.01M69.78 247.03h0.01M68.44 235.69h0.01M64.88 242.59h0.01M68.17 252.71h0.01M65.68 246.51h0.01M68.94 234.15h0.01M65.76 242.23h0.01M66.41 240.82h0.01M68.34 237.94h0.01M68.33 238.7h0.01M66.31 243.86h0.01M66.25 242.76h0.01M70.6 241.62h0.01M67.11 244.74h0.01M66.67 246.26h0.01M64.83 244.22h0.01M66.38 237.99h0.01M70.94 237.76h0.01M70.91 244.4h0.01M70.31 237.2h0.01M69.8 247.91h0.01M67.17 240.93h0.01M72.31 242.28h0.01M66.55 238.73h0.01M68.29 242.95h0.01M67.76 249.07h0.01M66.74 243.58h0.01M70.32 237.08h0.01M69.48 249.56h0.01M64.69 236.67h0.01M65.32 233.38h0.01M68.31 233.33h0.01M68.4 247.89h0.01M64.17 240.11h0.01M63.56 244.93h0.01M65.93 240.33h0.01M67.51 243.9h0.01M66.71 241.57h0.01M66.31 242h0.01M65.05 241.78h0.01M63.54 239.34h0.01M71.23 241.85h0.01M64.88 242.63h0.01M65.46 234.23h0.01M65.93 244.74h0.01M68.17 241.07h0.01M65.55 236.75h0.01M70.1 242.58h0.01M65.5 232.21h0.01M64.66 252.39h0.01M65.1 241.16h0.01M67.82 240.81h0.01M66.84 235.46h0.01M65.3 248.93h0.01M65.89 245.22h0.01M64.01 240.29h0.01M67.92 246.06h0.01M65.15 244.12h0.01M68.17 238.25h0.01M68.35 237.55h0.01M65.81 241.42h0.01M61.97 241.02h0.01M65.4 235.06h0.01M66.55 244.86h0.01M66.59 247.07h0.01M65.08 235.73h0.01M70.5 243.25h0.01M69.29 237.86h0.01M69.01 242.64h0.01M68.7 241.61h0.01M69.81 238.64h0.01M65.47 235h0.01M69.72 238.25h0.01M65.31 237.37h0.01M66.51 235.91h0.01M66.82 238.74h0.01M66.3 237.28h0.01M67.47 239.47h0.01M67.63 242.6h0.01M68.08 231.87h0.01M66.33 238h0.01M68.95 234.56h0.01M65.97 240.21h0.01M66.73 245.86h0.01M66.51 245.74h0.01M64.47 233.53h0.01M69.84 243.42h0.01M68.38 242.04h0.01M68.37 236.15h0.01M69.3 239.16h0.01M69.37 241.89h0.01M63.45 235.84h0.01M69.66 240.9h0.01M66.61 242.57h0.01M66.55 239.1h0.01M67.6 242.13h0.01M70.43 241.7h0.01M71.16 249.43h0.01M70.83 246.17h0.01M67.66 242.1h0.01M67.11 238.28h0.01M67.27 238.68h0.01M70.68 243.85h0.01M66.51 233.07h0.01M67.29 239.67h0.01M65.23 236.5h0.01M62.9 244h0.01M67.27 252.86h0.01M67.34 240.85h0.01M70.29 242.09h0.01M67.73 239.87h0.01M66.19 248.1h0.01M69.4 249.05h0.01M66.7 241.63h0.01M65.64 245.76h0.01M64.61 243.98h0.01M69.59 247.71h0.01M65.52 246.29h0.01M65.97 238.17h0.01M64.75 246.58h0.01M70.7 238.88h0.01M65.88 240.01h0.01M72.41 245.92h0.01M66.31 233.61h0.01M66.05 246.72h0.01M71.14 240.33h0.01M66.02 239.26h0.01M63.63 245.5h0.01M65.23 246.18h0.01M63.98 235.91h0.01M67.98 238.14h0.01M68.96 241.54h0.01M65.05 244.24h0.01M69.08 233.08h0.01M71.05 243.69h0.01M68.92 233.32h0.01M65.96 239.96h0.01M69.55 235.08h0.01M65.63 232.57h0.01M66.92 243.02h0.01M64.03 238.9h0.01M68.42 248.48h0.01M68.73 240.16h0.01M65.04 237.38h0.01M66.07 242.15h0.01" stroke="#000" stroke-width="0.66" stroke-linecap="round" opacity="0.45"/>
<path d="M65.6 236.2 C68.2 235.6 70.4 236.6 70.4 239.2 L70.4 245.5 C70.2 247.8 68 248.2 65.8 248 C64.2 247.6 63.8 245 63.9 242 C64 238.6 64.4 236.6 65.6 236.2Z" fill="#0a0a0a" filter="url(#bl05)"/>
<rect x="74.5" y="227.6" width="28.2" height="23.9" fill="none" stroke="#858585" stroke-width="0.9"/>
<text x="83.8" y="226" font-size="8.6" textLength="10.9" lengthAdjust="spacingAndGlyphs" style="stroke-width:0.12px">3.7</text>
<rect x="116" y="214.5" width="49" height="48.3" fill="none" stroke="#c2c2c2" stroke-width="0.9" rx="1.5"/>
<line x1="116" y1="217.5" x2="116" y2="259.8" stroke="#8c8c8c" stroke-width="0.9" stroke-dasharray="1 3.2"/>
<line x1="119" y1="262.8" x2="162" y2="262.8" stroke="#8c8c8c" stroke-width="0.9" stroke-dasharray="1.2 3.4"/>
<path d="M139.6 250.34h0.01M142.3 236.64h0.01M152.35 246.75h0.01M140.81 238.39h0.01M125.03 236.89h0.01M147.29 237.99h0.01M129.44 242.98h0.01M141.95 245.03h0.01M145.24 249.05h0.01M133.29 246.89h0.01M132.1 245.47h0.01M141.43 243.22h0.01M147.74 241.91h0.01M148.9 246.38h0.01M141.08 239.17h0.01M133.97 239.36h0.01M138.38 241.88h0.01M146.15 237.7h0.01M134.32 240.4h0.01M141.54 236.82h0.01M152.9 239.18h0.01M148.63 230.32h0.01M139.94 243.39h0.01M141.53 245.01h0.01M142.24 242.81h0.01M124.86 238.43h0.01M121.26 245.14h0.01M142.46 241.02h0.01M133.43 239.09h0.01M154.76 250.66h0.01M139.53 248.44h0.01M127.3 232.32h0.01M136.14 237.63h0.01M135.53 242.94h0.01M140.4 243.38h0.01M139.73 246.65h0.01M154.2 235.78h0.01M141.29 240.68h0.01M142.85 234.34h0.01M125.94 230.42h0.01M144.2 242.96h0.01M140.59 230.17h0.01M137.01 238.22h0.01M128.69 237.42h0.01M145.58 244.72h0.01M139.82 244.57h0.01M135.17 242.36h0.01M140.32 244.77h0.01M139.44 241.28h0.01M138.92 238.78h0.01M157.87 244.57h0.01M143.43 253.46h0.01M151.22 234.22h0.01M145.56 246.19h0.01M155.08 248.58h0.01M146.17 236.11h0.01M133.03 243.34h0.01M144.04 236.89h0.01M136.92 240h0.01M140.48 243.68h0.01M137.7 235.82h0.01M149.94 249.98h0.01M139.15 247.12h0.01M143.55 245.3h0.01M143.85 238.18h0.01M144.59 247.05h0.01M132.83 251.83h0.01M156.72 251.12h0.01M155.91 245.71h0.01M137.29 239h0.01M133.5 242.58h0.01M139.74 245.35h0.01M123.84 253.56h0.01M158.21 241.86h0.01M145.41 244.38h0.01M142.19 240.96h0.01M139.02 237.88h0.01M141.43 241.88h0.01M142.56 237.72h0.01M140.32 242.24h0.01M144.83 236.68h0.01M143.36 246.92h0.01M144.78 240.16h0.01M136.07 240.82h0.01M145.83 249.76h0.01M138.74 238.79h0.01M143.01 243.02h0.01M132.74 238.31h0.01" stroke="#000" stroke-width="0.66" stroke-linecap="round" opacity="0.3"/>
<path d="M135.04 244.85h0.01M130.13 238.94h0.01M137.75 238.21h0.01M135.99 243.73h0.01M135 238.94h0.01M135.23 241.34h0.01M137.01 239.56h0.01M140.41 236.64h0.01M134.71 242.53h0.01M139.83 240.37h0.01M137.96 240.52h0.01M138.82 248.58h0.01M133.7 244.05h0.01M131.33 245.91h0.01M140.95 242.62h0.01M130.39 243.91h0.01M140.67 246.31h0.01M139.16 236.09h0.01M132.44 247.48h0.01M129.98 246.46h0.01M143.97 245.17h0.01M140.54 241.34h0.01M129.99 242.14h0.01M134.61 242.33h0.01M138.64 241.99h0.01M136.36 243.98h0.01M135.48 248.95h0.01M137.49 242.8h0.01M134.57 240.31h0.01M141.55 243.03h0.01M130.65 240.53h0.01M134.89 240.94h0.01M140.38 238.43h0.01M137.71 243h0.01M130.2 242.67h0.01M135.08 244.25h0.01M133.47 243.56h0.01M128.01 238.71h0.01M139.03 246.15h0.01M135.44 240.4h0.01M140.37 235.18h0.01M131.9 244.85h0.01M138.44 238.89h0.01M127.01 247.58h0.01M136.19 239.36h0.01M135.75 245.66h0.01M123.84 246.39h0.01M138.83 235.22h0.01M138.97 236.27h0.01M140.63 243.89h0.01M145.64 240.36h0.01M135.52 246.17h0.01M132.62 240.03h0.01M133.83 242.24h0.01M130.63 244.19h0.01M137.94 242.75h0.01M143.15 241.35h0.01M141.38 240.59h0.01M138.9 235.73h0.01M136.39 241.89h0.01M133.27 240.36h0.01M133.94 239.98h0.01M125.63 240.41h0.01M133.03 240.66h0.01M130.74 242.03h0.01M139.03 241.62h0.01M133.28 247.25h0.01M139.9 245.73h0.01M140.7 241.35h0.01M134.92 246.4h0.01M133.01 242.08h0.01M137.2 243.8h0.01M134.26 245.94h0.01M134.7 245.04h0.01M140.32 244.81h0.01M138.8 238.44h0.01M129.6 240.33h0.01M137.64 247.75h0.01M130 243.57h0.01M131.66 239.94h0.01M134.26 244.92h0.01M136.46 246.63h0.01M131.06 245.61h0.01M139.69 242.74h0.01M137.65 240.53h0.01M130.6 241.08h0.01M132.61 252.62h0.01M133.32 248.28h0.01M136.41 243.59h0.01M138.85 239.77h0.01M139.62 243.82h0.01M128.68 244.6h0.01M137.99 244.08h0.01M142.63 241.05h0.01M137.8 245.12h0.01M131.45 246.7h0.01M128.97 237.95h0.01M137.85 238.69h0.01M134.98 236.74h0.01M135.81 238.53h0.01M137.04 237.14h0.01M137.52 241.57h0.01M135.79 242.26h0.01M136.09 237.88h0.01M123.96 242.62h0.01M131.29 240.91h0.01M137.42 235.55h0.01M132.07 240.36h0.01M130.74 243.64h0.01M134.87 239.63h0.01M131.07 245.33h0.01M132.53 244.55h0.01M137.52 235.87h0.01M130.62 242.51h0.01M137.04 245.23h0.01M139.11 246.12h0.01M133.82 241.76h0.01M138.99 241.01h0.01M140.26 236.94h0.01M138.44 241.89h0.01M126.65 245.93h0.01M136.9 242.57h0.01M130.66 240.87h0.01M142.3 239.6h0.01M119.88 239.5h0.01M130.1 242.04h0.01M133.73 239.31h0.01M131.71 246.17h0.01M129.01 249.35h0.01M133.05 238.68h0.01M139.04 244.47h0.01M130.81 245.12h0.01M127.22 239.27h0.01M140.57 241.61h0.01M129.64 244.3h0.01M139.63 242.42h0.01M127.37 241.29h0.01M137.38 245.19h0.01M143.84 241.62h0.01M133.33 242.37h0.01M140.93 239.2h0.01M141.37 232.88h0.01M139.09 240.14h0.01M137.57 244.91h0.01M130.18 242.2h0.01M136.58 244.56h0.01M131.31 239.03h0.01M126.84 251.39h0.01M134.63 241.72h0.01M128.77 245.75h0.01M133.09 247.52h0.01M139.33 242.57h0.01M138.77 238.61h0.01M134.03 240.48h0.01M129.79 242.56h0.01M134.85 247.52h0.01M120.41 240.15h0.01M131.37 240.88h0.01M137.4 243.91h0.01M135.63 240.84h0.01M137.73 243.76h0.01M127.21 241.58h0.01M129.31 238.36h0.01M136.16 242.71h0.01M136.01 239.44h0.01M134.59 239.31h0.01M137.22 244.91h0.01M143.4 246.93h0.01M131.88 240.9h0.01M131.28 243.57h0.01M144.41 244.98h0.01M125.6 238.1h0.01M129.68 244.3h0.01M135.51 243.55h0.01M143.52 239.61h0.01M131.69 249.38h0.01M137.04 239.77h0.01M126.37 237.17h0.01M124.5 242.74h0.01M135.7 245.98h0.01M134.87 240.07h0.01M132.16 249.15h0.01M127.55 243.11h0.01M135.62 244.66h0.01M133.68 244.25h0.01M139.17 241.98h0.01M133.44 241.85h0.01M131.16 241.77h0.01M134.14 243.24h0.01M141.51 247.08h0.01M133.5 244.61h0.01M136.83 245.17h0.01M135.6 243.43h0.01M133.39 239.75h0.01M139.42 247.05h0.01M138.48 244.03h0.01M136.7 240.92h0.01M127.48 244.82h0.01M136.4 240.56h0.01M131.16 246.97h0.01M127.38 248.67h0.01M138.38 250.8h0.01M132.27 242.42h0.01M133.22 243.04h0.01M134.56 239.88h0.01M140.34 239.75h0.01M133.21 244.44h0.01M133.08 240.98h0.01M137.1 241.21h0.01M129.89 242.14h0.01M134.51 248.47h0.01M130.56 245.89h0.01M131.96 241.25h0.01M134.03 243.45h0.01M139.39 248.62h0.01M132.64 247.15h0.01M139.98 245.34h0.01M132.08 245.65h0.01M135.02 243.74h0.01M134.29 244.82h0.01M140.52 246.46h0.01M134.58 245.98h0.01M142.03 239.23h0.01M142.13 237.83h0.01M137.94 244.58h0.01M142.17 243.48h0.01M133.34 239.71h0.01M129.87 245.18h0.01M134.43 239.99h0.01M137.89 239.82h0.01M133.53 240.9h0.01M142.94 247.62h0.01M134.79 237h0.01M136.74 242.75h0.01M137.07 244.48h0.01M134.06 245.74h0.01M139.27 243.24h0.01M133.67 240.82h0.01M138.62 238.65h0.01M134.78 239.88h0.01M129.23 244.61h0.01M135.38 242.63h0.01M139.43 237.27h0.01M135.2 243.51h0.01M139.25 238.7h0.01M138.72 243.27h0.01M141.6 246.49h0.01M137.97 250.02h0.01M135.49 241.01h0.01M133.97 239.21h0.01M135.37 235.93h0.01M135.12 243.99h0.01M139.96 241.28h0.01M141.75 240.22h0.01M134.89 235.93h0.01M132.07 239.73h0.01M142.06 244.31h0.01M130.65 244.32h0.01M137.62 241.7h0.01M135.6 241.46h0.01M133.12 236.44h0.01M135.1 246.89h0.01M141.79 241.55h0.01M132.22 241.78h0.01M139.44 243.7h0.01M132.94 243.74h0.01M134.59 244.26h0.01M133.71 237.48h0.01M135.75 245.1h0.01M130.64 242.13h0.01M139.35 241.22h0.01M132.64 249.43h0.01M139.14 246.01h0.01M131.35 248.07h0.01M128.24 240.73h0.01M138.74 247.03h0.01M131.43 240.24h0.01M136.36 235.93h0.01M138.3 244.41h0.01M133.54 244.33h0.01" stroke="#000" stroke-width="0.66" stroke-linecap="round" opacity="0.3"/>
<path d="M148.68 237.35h0.01M149.29 240.42h0.01M145.21 238.56h0.01M146.02 240.61h0.01M145.73 239.19h0.01M146.73 237.58h0.01M150.73 235.3h0.01M150.91 237.74h0.01M149.6 235.6h0.01M149.55 238.19h0.01M144.97 238.97h0.01M145.92 237.68h0.01M148.96 234.36h0.01M140.03 235.7h0.01M144.43 236.69h0.01M146.94 238.87h0.01M151.25 236.15h0.01M146.74 235.36h0.01M149.26 239.98h0.01M147.75 231.52h0.01M150.31 240.11h0.01M146.88 233.19h0.01M146.12 239.31h0.01M146.53 235.25h0.01M144.99 240.88h0.01M144.32 242.48h0.01M146.67 238.26h0.01M142.18 237.88h0.01M146.55 233.42h0.01M150.24 231.89h0.01M143.15 239.19h0.01M148.33 238.67h0.01M145.11 237.58h0.01M145.07 236.58h0.01M140.58 242.92h0.01M147.12 237.65h0.01M144.92 238.94h0.01M146.18 237.44h0.01M147.37 232.35h0.01M145.83 234.88h0.01M147.05 241.38h0.01M143.36 238.69h0.01M145.76 240.47h0.01M141.97 234.98h0.01M147.27 236.17h0.01M146.61 240.43h0.01M143.59 237.84h0.01M147.12 238.36h0.01M146.04 240.57h0.01M151.72 233.95h0.01M148.96 230.55h0.01M149.61 235.11h0.01M146.3 236.66h0.01M143.29 235.48h0.01M146.64 241.01h0.01M148.91 235.42h0.01M144.18 236.65h0.01M145.07 243.14h0.01M148.16 237.06h0.01M143.94 235.89h0.01M150.56 237.76h0.01M144.86 241h0.01M144.09 240.4h0.01M143.35 237.83h0.01M148.05 237.98h0.01M148.06 234.48h0.01M151.84 238.72h0.01M146.76 238.66h0.01M144.11 238.2h0.01M142.95 239.41h0.01M148.24 240.4h0.01M149.63 238.29h0.01M145.12 237.53h0.01M145.64 238.52h0.01M142.07 241.69h0.01M141.67 238.34h0.01M145.82 236.41h0.01M150.54 235.35h0.01M151.64 238.34h0.01M145.43 239.11h0.01M149.34 235.27h0.01M145.94 236.23h0.01M146.08 236.73h0.01M147.57 239.77h0.01M150.08 236.21h0.01M147.73 239.29h0.01M144.43 235.56h0.01M148.21 234.13h0.01M147.71 234.29h0.01M149.98 233.01h0.01M150.1 239.96h0.01M145.36 242.13h0.01M142.29 234.61h0.01M148.92 238.31h0.01M143.11 232.13h0.01M145.83 236.97h0.01M145 237.41h0.01M141.03 238.5h0.01M152.63 238.91h0.01M144.61 236.43h0.01M148.45 239.52h0.01M146.95 234.08h0.01M146.87 237.72h0.01M151.32 238.56h0.01M148.95 239.71h0.01M146.89 241.56h0.01M145.61 239.01h0.01M147.73 234.42h0.01M142.61 234.48h0.01M146.67 237.28h0.01M145.97 239.12h0.01M140.75 240.12h0.01M146.25 236.89h0.01M150.22 240.6h0.01M144.15 236.02h0.01M144.82 238.55h0.01M146.92 234.94h0.01M147.83 234.07h0.01M148.91 237.56h0.01M149.79 241.92h0.01M145.44 237.55h0.01M148.45 238.97h0.01M143.1 239.85h0.01M145.03 239.93h0.01M149.93 236.05h0.01M146.22 238.14h0.01M139.4 242.94h0.01M147.94 237.29h0.01M144.5 236.43h0.01M147.11 240.56h0.01M147.45 240.77h0.01M139.1 239.69h0.01M147 237.24h0.01M141.27 238.12h0.01M148.2 233.16h0.01M142.56 236.32h0.01M145.54 239.73h0.01M145.71 232.28h0.01M149.49 234.48h0.01M146.52 242.09h0.01M144.78 234.9h0.01M143.87 236.73h0.01M143.31 238.07h0.01M148.96 237.32h0.01M145.64 245.59h0.01M143.84 239.07h0.01M147.19 239.28h0.01M145.92 239.03h0.01M151.9 235.25h0.01M143.82 239.66h0.01M143.81 237.74h0.01M147.15 238.13h0.01M146.45 239.87h0.01M144.42 234.88h0.01M148.21 235.71h0.01M148.78 234.64h0.01M148.13 237.62h0.01M137.69 237.5h0.01M144.86 242.14h0.01M142.34 241.96h0.01M149.67 237.39h0.01M147.54 235.66h0.01M146.51 238.12h0.01M148.14 238.69h0.01M145.02 236.27h0.01M145.27 239.21h0.01M140.64 236.79h0.01M144.64 236.85h0.01M142.79 231.91h0.01M145.15 237.45h0.01M146.24 232.18h0.01M146 239.05h0.01M148.84 239.71h0.01M147.95 233.94h0.01M147.61 236.07h0.01M145.82 242.05h0.01M143.75 236.43h0.01M144.33 236.17h0.01M149.33 237.23h0.01M150.39 236.82h0.01M145.8 240.72h0.01M144.1 237.35h0.01M145.9 237.89h0.01M148.78 234.77h0.01M147.19 237.11h0.01M141.85 236.65h0.01M146.15 238.79h0.01M147.65 238.3h0.01M145.95 236.52h0.01M146.36 234.8h0.01M142.43 238.48h0.01M142.01 238.18h0.01M143.76 237.25h0.01M145.34 235.84h0.01M143.38 234.23h0.01M145.75 235.42h0.01M144.37 230.68h0.01M144.46 239.13h0.01M139.52 239.77h0.01M146.66 237.72h0.01M142.62 239.95h0.01M145.66 235.21h0.01M148.2 236.58h0.01M145.87 236.56h0.01M147.84 237.15h0.01M149.76 237.24h0.01M144.44 237.85h0.01M148.32 235.65h0.01M147.86 238.32h0.01M143.36 232.52h0.01M146.87 237.93h0.01M145.85 235.7h0.01M149.33 235.81h0.01M143.9 236.73h0.01M146.08 234.68h0.01M145.79 243.38h0.01M150.86 238.39h0.01M150.52 237.28h0.01M143.14 242.39h0.01M150.08 237.2h0.01M142.47 242.83h0.01M149.37 234.8h0.01M147.46 239.22h0.01M147.24 240.21h0.01M147.25 239.08h0.01M144.95 234.12h0.01M147.05 246.05h0.01M148.43 240.25h0.01M151.12 240.12h0.01M147.13 235.56h0.01M144.3 233.19h0.01M146.77 239.9h0.01M140.81 240.71h0.01M149.89 239.62h0.01M143.16 237.25h0.01M140.27 237.58h0.01M149.92 241.68h0.01M144.75 242.16h0.01M146.9 235.94h0.01M149.4 229.13h0.01M146.36 238.18h0.01M153.84 239.09h0.01M152.42 235.12h0.01M150.35 239.51h0.01M148.04 237.79h0.01M145.38 236.89h0.01M145.13 243.58h0.01M142.9 233.39h0.01M146.96 237.2h0.01M148.7 241.54h0.01M145.74 237.12h0.01M144.3 238.47h0.01M145.36 238.61h0.01M154.98 234.65h0.01M146.1 243.08h0.01M149.46 238.41h0.01M149.07 238.6h0.01M149.59 240h0.01M150.4 239.45h0.01M144.97 238.21h0.01M145.39 240.69h0.01M148 235.51h0.01M150.65 242.9h0.01M148.38 233.51h0.01M146.73 239.17h0.01M146.62 238.53h0.01M149.77 236.9h0.01M144.16 240.6h0.01M146.16 237.98h0.01M143.32 235.13h0.01M142.62 238.33h0.01M140.56 232.69h0.01M148.1 233.52h0.01M144.95 239.71h0.01M141.35 243.66h0.01M144.97 240.06h0.01M145.35 238.9h0.01M146.58 237.47h0.01M139.89 236.48h0.01M147.7 240.89h0.01M145.43 239.49h0.01M147.25 238.51h0.01M147.32 232.94h0.01M146.84 236.85h0.01M144.56 236.03h0.01M143.12 236.21h0.01M146.08 244.72h0.01M150.81 235.52h0.01M147.22 234.44h0.01M136.98 236.85h0.01M148.22 240.73h0.01M145.12 235.35h0.01M144.59 235.61h0.01M142.36 238.79h0.01M144.37 236.23h0.01M142.96 236.56h0.01M148.42 240.51h0.01M148.14 242.99h0.01M142.31 240.23h0.01M143.06 238.66h0.01M147.17 238.76h0.01M148.7 234.93h0.01M142.81 238.7h0.01M146.33 235.63h0.01M150.47 240.36h0.01M142.92 240.19h0.01M146.94 231.93h0.01M146.6 236.83h0.01M143.94 242.38h0.01M146.36 236.23h0.01M148.16 238.53h0.01M148.96 237.98h0.01M146.12 234.39h0.01M145.32 238.42h0.01M141.25 245.92h0.01M144.16 235.65h0.01M141.75 240.42h0.01M145.76 236.22h0.01M144.24 236.08h0.01M144.21 238.3h0.01M145.32 239.95h0.01M146.06 238.08h0.01M148.74 240.02h0.01M148.14 237.38h0.01M145 235.95h0.01M146.12 239.59h0.01M146.48 236.43h0.01M141.13 235.73h0.01M148.25 239.56h0.01M145.82 233.98h0.01M145.97 238.37h0.01M144.24 239.53h0.01M144.88 235.93h0.01M143.88 241h0.01M146.29 235.12h0.01M144.57 240.9h0.01M147.55 236.16h0.01M150.21 234.97h0.01M144.67 241.41h0.01M146.17 238.63h0.01M145.33 235.25h0.01M142.95 238.62h0.01M148.95 233.56h0.01M150.13 236.43h0.01M143.64 239.59h0.01M146.84 234.84h0.01M141.04 241.05h0.01M143.83 239.98h0.01M141.09 239.63h0.01M142.57 235.2h0.01M145.85 238.29h0.01M143.56 235.58h0.01M144.99 233.33h0.01M148.24 238.06h0.01M151.68 237.56h0.01M147.52 237.77h0.01M144.96 234.53h0.01M150.73 237h0.01M144.32 235.33h0.01M150.79 236.99h0.01M143.89 240.6h0.01M151.29 235.21h0.01M146.91 236.15h0.01M145.78 240.83h0.01M154.56 234.07h0.01M146.82 239.57h0.01M146.27 239.64h0.01M147.4 234.25h0.01M143.39 238.75h0.01M148.79 237.21h0.01M148.11 232.92h0.01M146.94 235.57h0.01M146.91 238.21h0.01M143.5 238.27h0.01M143.51 239.64h0.01M143.53 237.52h0.01M146.18 235.84h0.01M148.65 234.73h0.01M148.84 237.2h0.01M143.34 238.37h0.01M143.71 237.8h0.01M147.52 242.09h0.01M146.87 241.7h0.01M146.09 234.06h0.01M140.92 241.99h0.01M141.82 241.69h0.01M149.43 237.23h0.01M145.48 237.28h0.01M146.66 236.59h0.01M144.5 237.41h0.01M148.72 234.75h0.01M146.07 234.51h0.01M142.96 235.34h0.01M146.51 239.4h0.01M146.58 236.1h0.01M147.54 236.06h0.01M147.57 237.77h0.01M145.09 231.28h0.01M143.69 240.96h0.01M148.4 242.85h0.01M145.1 236.63h0.01M150.82 237.03h0.01M151.84 236.43h0.01M146.53 239.5h0.01M143.75 237.55h0.01M144.6 237.77h0.01M147.84 235.55h0.01M146.62 236.07h0.01M145.69 230.24h0.01M145.93 238.24h0.01M144.54 241.23h0.01M148.23 240.25h0.01M149.51 237.88h0.01M144.75 235.31h0.01M145.23 236.82h0.01M146.46 236.23h0.01M152.63 230.22h0.01M148.89 235.09h0.01M146.65 240.01h0.01M145.02 234.84h0.01M147.18 236.65h0.01M141.1 240.57h0.01M142.74 237.2h0.01M147.89 237.69h0.01M147.84 242.89h0.01M146.75 235.69h0.01M146.79 237.03h0.01M138.84 236.71h0.01M144.84 244h0.01M145.52 237.2h0.01M145.86 240.52h0.01M148.18 241.45h0.01M150.11 240.38h0.01M146.39 238.6h0.01M144.98 237.75h0.01M141.14 238.4h0.01M143.11 237.28h0.01M149.77 236.71h0.01M150.42 238.05h0.01M149.78 238.76h0.01M145.56 240.16h0.01M144.89 236.79h0.01M151.72 241.06h0.01M145.58 242.74h0.01M147.58 234.66h0.01M147.41 238.11h0.01M146.91 236.33h0.01M142.96 239.24h0.01M149.39 238.33h0.01M149.2 239.3h0.01M143.66 238.72h0.01M148.25 239.45h0.01M147.26 238.59h0.01M148.87 242.2h0.01M140.55 240.21h0.01M153.03 235.11h0.01M141.64 240.14h0.01M141.83 237.81h0.01M148.7 241.22h0.01M148.22 238.55h0.01M149.18 236.81h0.01M143.95 238.42h0.01M146.89 236.56h0.01M144.17 237.6h0.01M141.28 237.11h0.01M145.68 236.89h0.01M147.88 240.74h0.01M147.05 237.16h0.01M142.09 236.59h0.01M146.36 235.16h0.01M146.29 234.64h0.01M146.57 237.27h0.01M148.49 235.49h0.01M145.59 238.61h0.01M148.23 241.36h0.01M145.06 236.7h0.01M145.97 239.06h0.01M147.65 238.89h0.01M145.3 244.91h0.01M151.08 235.28h0.01M143.3 239.43h0.01M145.03 232.03h0.01M144.77 234.23h0.01M148.96 240.17h0.01M147.41 232.92h0.01M150.87 237.97h0.01M145.89 239.18h0.01M149.92 235h0.01M145.67 236.35h0.01M147.05 231.31h0.01M148.99 233.67h0.01M147.01 232.78h0.01M143.22 237.39h0.01M146.75 232.91h0.01M147.21 235.42h0.01M149.22 235.38h0.01M147.39 236.62h0.01M150.61 234.6h0.01M148.33 242.13h0.01M147.23 239.06h0.01M144.58 238.95h0.01M140.48 240.61h0.01M143.02 234.98h0.01M143.8 241.92h0.01M145.81 233.64h0.01M150.31 233.81h0.01M145.6 238.61h0.01M141.62 235.32h0.01M145.6 241.19h0.01M147.12 232.86h0.01M149.49 236.21h0.01M147.66 237.11h0.01M146.32 234.83h0.01M143.18 237.12h0.01M145.99 239.45h0.01M144.8 242.7h0.01M144.02 237.04h0.01M148.6 237.73h0.01M144.28 235.59h0.01M141.99 235.2h0.01M150.44 238.66h0.01M151.72 236.45h0.01M147.97 238.91h0.01M148.52 235.85h0.01M149.5 242.05h0.01M140.38 236.48h0.01M144.58 240.48h0.01M149.05 235.38h0.01M148.01 236.67h0.01M146.51 236.01h0.01M146.22 237.62h0.01M151.62 241.28h0.01M142.11 241.02h0.01M147.31 239.8h0.01M149.9 238.07h0.01M147.41 234.46h0.01M143.6 243.47h0.01M148.46 233.96h0.01M150.38 237.54h0.01M140.83 242.64h0.01M144.95 241.45h0.01M143.73 236.75h0.01M142.03 238.99h0.01M148.25 234.83h0.01M143.7 244.74h0.01M151.86 236.91h0.01M143.61 235.51h0.01M142.6 240.87h0.01M148.58 233.61h0.01M146.01 236.97h0.01M146.16 239.05h0.01M151.11 233.6h0.01M149.68 239.03h0.01M145.4 237.61h0.01M143.93 241.69h0.01M144.22 236.76h0.01M145.57 235.57h0.01M143.25 238.2h0.01M149.98 235.32h0.01M146.13 233.62h0.01M143.12 244.11h0.01M143.63 234.59h0.01M146.67 239.11h0.01M140.84 237.71h0.01M146 235.19h0.01M149.41 238.81h0.01M147.01 236.08h0.01M145.51 236.22h0.01M146.29 238.48h0.01M146.54 240.18h0.01M152.53 233.18h0.01M148.07 239.05h0.01M147.74 236.27h0.01M146.11 240.47h0.01M148.48 237.99h0.01M144.86 240.02h0.01M148.19 236.21h0.01M150.3 241.75h0.01M142.02 241.28h0.01M141.78 235.93h0.01M146.26 239.13h0.01M145.2 234.88h0.01M141.93 238.1h0.01M145.45 235.69h0.01M144.21 243.44h0.01M143.93 238.27h0.01M144.24 236.94h0.01M146.09 236.87h0.01M146.67 234.14h0.01M144.46 243.87h0.01M146.92 239.44h0.01M149.99 237.42h0.01M144.74 234.01h0.01M143.13 241.8h0.01M148.69 238.07h0.01M139.67 234.77h0.01M142.26 236.2h0.01M145.63 235.07h0.01M149.81 234.24h0.01M145.74 240.26h0.01" stroke="#000" stroke-width="0.66" stroke-linecap="round" opacity="0.45"/>
<ellipse cx="146.6" cy="237.2" rx="2.8" ry="2" fill="#111" opacity="0.75" transform="rotate(-25 146.6 237.2)" filter="url(#bl1)"/>
<path d="M146.93 244.08h0.01M149.08 250.1h0.01M140.15 245.47h0.01M140.8 241.86h0.01M148.23 247.49h0.01M149.75 246.91h0.01M136.71 245.94h0.01M142.58 243.49h0.01M140.67 247.63h0.01M144.21 250.2h0.01M147.56 241.92h0.01M149.41 248.67h0.01M145.64 243.41h0.01M153.23 243.19h0.01M145.13 241.92h0.01M140.01 242.36h0.01M150.27 248.52h0.01M143.73 243.1h0.01M145.24 246.81h0.01M138.82 243.52h0.01M145.05 247.51h0.01M145.83 246.96h0.01M140.03 240.66h0.01M146.87 244.03h0.01M144.96 245.19h0.01M147.61 244.34h0.01M151.84 246.07h0.01M147.82 247.35h0.01M150.06 246.87h0.01M137.81 244.65h0.01M153.68 247.02h0.01M147.97 247h0.01M142.68 244.54h0.01M142.66 248.49h0.01M147.1 249.83h0.01M147.69 250.07h0.01M147.51 243.45h0.01M153.17 246.73h0.01M150.75 246.46h0.01M144.06 246.37h0.01M140.55 243.42h0.01M141.58 244.87h0.01M139.52 245.78h0.01M146.84 250.38h0.01M153.62 245.89h0.01M149.4 245.53h0.01M147.23 245.93h0.01M143.11 246.16h0.01M138.97 246.95h0.01M144.22 243.66h0.01M143.91 247.2h0.01M142.49 247.03h0.01M148.02 249.37h0.01M140.69 245.76h0.01M147.77 249.25h0.01M146.66 247.63h0.01M139 244.74h0.01M152.86 245.38h0.01M155.08 244.42h0.01M144.27 242.54h0.01M148.32 246.57h0.01M154.45 246.36h0.01M144.39 242.94h0.01M145.14 248.05h0.01M148.79 248.66h0.01M149.34 245.9h0.01M148.19 246.37h0.01M139.58 249.72h0.01M147.16 243.72h0.01M147.21 246.63h0.01M149.93 249.14h0.01M131.98 247.21h0.01M152.31 243.94h0.01M137.23 246.61h0.01M147 246.76h0.01M140.56 244.98h0.01M146.37 247.62h0.01M155.26 246.64h0.01M142.82 240.86h0.01M150.29 245.71h0.01M145.01 243.85h0.01M148.77 242.09h0.01M145.98 246.26h0.01M146.84 248.84h0.01M145.06 246.21h0.01M149.32 242.62h0.01M144.2 246.15h0.01M149.76 244.25h0.01M149.09 246.84h0.01M138.86 242.77h0.01M139.1 246.31h0.01M146.42 247.58h0.01M149.17 244.79h0.01M150.28 247.79h0.01M147.61 247.05h0.01M139.75 246.79h0.01M140.88 243.39h0.01M143.94 246.3h0.01M145.26 245.28h0.01M141.03 246.41h0.01M142.19 242.92h0.01M145.92 249.18h0.01M143.69 243.68h0.01M151.7 249.75h0.01M144.18 245.54h0.01M146.45 252.46h0.01M146.1 248.18h0.01M147.49 242.02h0.01M140.57 243.3h0.01M147.44 246.23h0.01" stroke="#000" stroke-width="0.66" stroke-linecap="round" opacity="0.3"/>
<path d="M129.45 240.96h0.01M125.85 241.85h0.01M122.49 252.96h0.01M123.93 248.82h0.01M128.86 239h0.01M127.26 239.78h0.01M125.32 242.15h0.01M125.97 238.96h0.01M128.95 240.86h0.01M124.54 250.1h0.01M125.25 246.79h0.01M126.78 247.54h0.01M130.86 235.13h0.01M129.41 242.55h0.01M122.46 237.1h0.01M122.37 240.4h0.01M123.49 235.41h0.01M125.72 242.25h0.01M123.92 239.67h0.01M124.99 241.62h0.01M125.58 240.19h0.01M129.32 233.75h0.01M124.07 241.69h0.01M125.19 238.3h0.01M124.09 242.1h0.01M128.19 241.08h0.01M124.25 242.93h0.01M127.39 231.46h0.01M126.38 239.56h0.01M123.24 244.13h0.01M126.15 238.49h0.01M122.99 231.43h0.01M125.49 240.72h0.01M125.93 242.67h0.01M125.99 234.68h0.01M123.16 239.98h0.01M121.84 244.44h0.01M124.89 231.55h0.01M127.28 232.28h0.01M130.09 237.24h0.01M125.52 240.05h0.01M125.94 231.96h0.01M120.18 244.58h0.01M124.56 252.75h0.01M121.44 243.28h0.01M124.13 245.54h0.01M123.24 244.63h0.01M126.39 244.86h0.01M128.61 241.25h0.01M129.52 238.66h0.01M132.54 228.45h0.01M126.41 237.29h0.01M123.92 246.48h0.01M126.7 242.19h0.01M130.9 234.86h0.01M121.54 248.42h0.01M128.79 231.07h0.01M127.62 235.55h0.01M126.9 247.89h0.01M122.4 247.49h0.01M122.29 245.45h0.01M126.7 240.99h0.01M122.66 239.09h0.01M121.19 237.17h0.01M119.73 246.35h0.01M126.52 228.53h0.01M126.05 243.49h0.01M121.37 251.65h0.01M126.85 242.07h0.01M127.91 226.09h0.01M125.03 246.4h0.01M125.94 233.87h0.01M127.46 232.88h0.01M124.28 245.18h0.01M128.15 243.49h0.01M124.71 245.18h0.01M128.7 240.49h0.01M123.76 236.62h0.01M123.82 236.12h0.01M124.58 242.95h0.01M125.54 241.74h0.01M123.97 243.22h0.01M126.16 245.62h0.01M128.87 240.7h0.01M122.48 249.67h0.01M125.17 243.49h0.01M123.28 245.97h0.01M125.8 236.01h0.01M125.77 239.04h0.01M127.58 239.88h0.01M125.85 240.28h0.01M126.87 238.33h0.01M129.56 234.78h0.01M125.43 237.52h0.01M126.62 241.87h0.01M126.77 239.92h0.01M125.28 235.27h0.01M125.31 238.42h0.01M125.42 243.24h0.01M127.52 241.32h0.01M125.14 235.54h0.01M124.94 243.15h0.01M129.2 243.32h0.01M126.51 251.71h0.01M121.44 246.78h0.01M125.9 248.71h0.01M123.99 246.09h0.01M124.37 240.67h0.01M122.94 250.27h0.01M123.56 245.97h0.01M126.39 237.78h0.01M124.93 244.75h0.01M122.93 244.08h0.01M124.97 236.49h0.01M126.08 240.24h0.01M125.4 232.56h0.01M125.02 242.53h0.01M124.07 241.98h0.01M121.53 242.4h0.01M125.81 242.93h0.01M123.89 241.35h0.01M124.14 246.75h0.01M125.55 242.73h0.01M122.6 245.22h0.01M128.46 239.49h0.01M126.24 243.21h0.01M126.93 234.82h0.01M131.54 232.93h0.01M126.45 239.58h0.01M128.3 239.83h0.01M124.56 244.39h0.01M126.97 238.95h0.01M126.22 243.65h0.01M128.09 239.3h0.01M125.73 239.31h0.01M123.18 242.1h0.01M124.26 248.65h0.01M124.09 243.06h0.01M127.88 241.38h0.01M125.25 242.01h0.01M125.16 235.96h0.01M127.43 242.8h0.01M126.81 235.03h0.01M123.97 247.24h0.01M124.06 236.18h0.01M125.73 249.09h0.01M129.33 239.42h0.01M127.58 237.88h0.01M126.89 239.77h0.01M123.92 248.12h0.01M126.34 240.29h0.01M125.06 242.66h0.01M123.94 242.04h0.01M124.48 249.43h0.01M122.53 234.19h0.01M121.51 244.97h0.01M130.2 243.65h0.01M124.03 247.06h0.01M120.38 239.02h0.01M118.51 240.31h0.01M124.87 238.59h0.01M126.8 238.58h0.01M127.65 241.91h0.01M122.71 254.18h0.01M123.11 245.67h0.01M121.89 247.06h0.01M127.15 242.54h0.01M125.24 249.88h0.01M128.2 242.09h0.01M123.71 246.79h0.01M123 237.47h0.01M125.56 244.41h0.01M126.87 251.11h0.01M125.39 243.68h0.01M122.77 239.63h0.01M126.15 240.32h0.01M124.62 244.36h0.01M124.05 237.94h0.01M120.03 245.99h0.01M125.35 232.24h0.01M127.21 240.67h0.01M127.82 240.01h0.01M128.82 246.05h0.01M125.46 241.96h0.01M123.79 245.2h0.01M130.07 240.33h0.01M122.22 243.66h0.01M129.53 234.49h0.01M125.17 235.96h0.01M125.81 244.13h0.01M125.26 235.3h0.01M129.47 231.48h0.01M126.86 240.89h0.01M128.01 247.31h0.01M124.45 239.61h0.01M125.69 237.54h0.01M124.19 246.13h0.01M122.44 239.32h0.01M127.44 245.82h0.01M124.66 236.85h0.01M125.64 232.87h0.01M127.62 242.29h0.01M125.74 233.81h0.01M125.17 238.55h0.01M129.51 239.99h0.01M124.12 246.67h0.01M126.94 240.78h0.01M118.88 247.01h0.01M127.13 239.49h0.01M126.38 236.53h0.01M125.39 233.46h0.01M125.66 244.14h0.01M124.63 245.25h0.01M126.26 242.2h0.01M122.67 243.72h0.01M126.94 245.08h0.01M128.53 239.66h0.01M121.6 246.93h0.01M123.76 242.17h0.01M124.87 241.3h0.01M125.45 238.49h0.01M119.06 249.7h0.01M128.27 231.92h0.01M124.9 235.24h0.01M127.12 228.33h0.01M124.33 249.7h0.01M123.8 244.83h0.01M128.2 235.5h0.01M130.06 233.68h0.01M124.58 239.21h0.01M127.76 242.59h0.01M126.1 237.27h0.01M125.43 241.56h0.01M124.98 248.57h0.01M126.81 241.8h0.01M122.87 249.09h0.01M125.74 241.33h0.01M126.97 250.02h0.01M126.63 241.08h0.01M122.57 246.19h0.01M123.09 245.77h0.01M123.53 241.38h0.01M125.95 242.24h0.01M125.28 243.31h0.01M124.43 235.22h0.01M122.62 250.09h0.01M126.26 236.68h0.01M123.88 241.1h0.01M128.5 239.18h0.01M126.22 242.53h0.01M125.8 236.47h0.01M125.94 237.67h0.01M128.73 232.95h0.01M126.65 245.65h0.01M124.53 248.97h0.01M128.8 233.25h0.01M124.82 243.54h0.01M125.37 235.37h0.01M125.53 244.05h0.01M124.74 239.87h0.01M124.99 238.24h0.01M123.77 246.53h0.01M122.41 238.74h0.01M128.23 243.75h0.01M124.52 245.48h0.01M124.81 234.82h0.01M123.77 233.24h0.01M124.7 245.6h0.01M125.33 237.74h0.01M125.33 244.53h0.01M128.33 232.12h0.01M127.49 228.6h0.01M126.92 237.28h0.01M121.97 248.29h0.01M127.4 244.39h0.01M125.64 242.3h0.01M124.15 240.73h0.01M130.41 238.08h0.01M123.72 241.73h0.01M126.05 245.87h0.01" stroke="#000" stroke-width="0.66" stroke-linecap="round" opacity="0.45"/>
<path d="M126.2 234.6 C128.6 235 128.8 238 128.2 241 C127.6 244.6 126.2 248 123.8 248 C122 247.8 121.8 245 122.2 241.8 C122.7 238 124.2 234.4 126.2 234.6Z" fill="#0a0a0a" filter="url(#bl05)"/>
<rect x="131.6" y="227.7" width="26.9" height="24.7" fill="none" stroke="#858585" stroke-width="0.9"/>
<text x="137.8" y="226" font-size="8.6" textLength="15.5" lengthAdjust="spacingAndGlyphs" style="stroke-width:0.12px">29.5</text>
<rect x="58.3" y="267.5" width="50.5" height="48.8" fill="none" stroke="#c2c2c2" stroke-width="0.9" rx="1.5"/>
<line x1="58.3" y1="270.5" x2="58.3" y2="313.3" stroke="#8c8c8c" stroke-width="0.9" stroke-dasharray="1 3.2"/>
<line x1="61.3" y1="316.3" x2="105.8" y2="316.3" stroke="#8c8c8c" stroke-width="0.9" stroke-dasharray="1.2 3.4"/>
<path d="M76.47 293.37h0.01M81.94 288h0.01M84.6 291.66h0.01M91.16 296.11h0.01M77.93 294.39h0.01M81.22 290.91h0.01M80.21 299.18h0.01M80.78 285.66h0.01M77.97 297.93h0.01M100.75 288.88h0.01M81.23 292.4h0.01M73.05 295.95h0.01M83.61 295.36h0.01M101.42 292.7h0.01M90.18 298.06h0.01M79.06 291.12h0.01M96.12 297.48h0.01M85.12 288.68h0.01M90.87 296.57h0.01M101.1 301.17h0.01M90.26 295.3h0.01M84.48 291.32h0.01M86.4 295.19h0.01M89.07 299.28h0.01M86.43 291.36h0.01M90.28 301.55h0.01M77.51 296.04h0.01M88.26 296.61h0.01M87.93 293.56h0.01M83.21 302.2h0.01M97.47 287.19h0.01M64.27 296.13h0.01M78.76 291.49h0.01M71.61 295.72h0.01M83.58 291.38h0.01M90.99 305.82h0.01M95.47 299.71h0.01M80.8 297.2h0.01M83.71 299.62h0.01M88.53 293.83h0.01M88.3 290.51h0.01M90.16 301.31h0.01M81.19 296.7h0.01M71.05 298.55h0.01M90.82 289.04h0.01M97.55 294.56h0.01M70.55 287.35h0.01M90.8 292.68h0.01M92.58 286.47h0.01M83.23 298.75h0.01M78.73 297.31h0.01M81.21 295.67h0.01M86.51 304.85h0.01M74.38 297.79h0.01M94.2 288.54h0.01M84.63 305.22h0.01M92.16 279.59h0.01M82.16 285.7h0.01M86.36 290.47h0.01M79.64 289.94h0.01M86.29 291.74h0.01M76.97 292.9h0.01M87.16 289.84h0.01M92.63 285.94h0.01M87.17 292.11h0.01M96.23 290.88h0.01M78.85 287.48h0.01M99.44 297h0.01M75.57 292.37h0.01M76.56 301.4h0.01M87.25 284.11h0.01M85.63 298.45h0.01M84.02 296.3h0.01M83.14 295.02h0.01M85.66 290.56h0.01M86.7 294.8h0.01M83.7 290.68h0.01M76.12 295.2h0.01M90.42 282.26h0.01M79.84 300.58h0.01" stroke="#000" stroke-width="0.66" stroke-linecap="round" opacity="0.3"/>
<path d="M79.11 292.28h0.01M80.6 291.43h0.01M73.31 300.53h0.01M74.52 293.83h0.01M70.39 291.36h0.01M72 294.07h0.01M69.76 297.81h0.01M74.79 292.62h0.01M73.84 296.81h0.01M81.22 293.23h0.01M81.49 299.51h0.01M80.57 295.43h0.01M70.93 296.6h0.01M74.61 295.11h0.01M69.59 293.62h0.01M76.79 291.58h0.01M77 299.71h0.01M76.79 292.37h0.01M84.12 287.8h0.01M72.87 295.77h0.01M73.99 287.36h0.01M76.89 297.09h0.01M73.29 299.07h0.01M77.7 298.21h0.01M70.8 294.49h0.01M81.45 300.78h0.01M80.49 294.5h0.01M76.62 292.54h0.01M79.74 292.33h0.01M76.42 288.07h0.01M70.87 300.05h0.01M76.2 295.17h0.01M68.51 294.4h0.01M83.07 289.83h0.01M67.89 294h0.01M74.19 293.84h0.01M71.71 290.27h0.01M71.78 296.5h0.01M75.84 297.07h0.01M72.32 296.34h0.01M74.49 294.78h0.01M79.19 294.6h0.01M74.8 289.3h0.01M76.22 296.95h0.01M73.84 294.29h0.01M69.95 290.32h0.01M77.38 298.56h0.01M74.94 289.27h0.01M74.7 289.6h0.01M75.06 300.55h0.01M77.03 294.02h0.01M79.55 293.31h0.01M77.14 295.13h0.01M77.53 289.89h0.01M78.44 297.27h0.01M68.17 285.99h0.01M72.93 299.18h0.01M76.07 296.63h0.01M77.9 297.29h0.01M73.81 292.66h0.01M77.29 296.41h0.01M77.97 295.57h0.01M74.33 297.97h0.01M77.62 297.84h0.01M67.26 297.67h0.01M67.61 295.16h0.01M73.71 294.88h0.01M74.36 293.52h0.01M76.66 295.59h0.01M73.25 286.53h0.01M73.31 296.21h0.01M73.09 295.85h0.01M74.73 291.53h0.01M80.03 299.73h0.01M75.64 294.34h0.01M79.31 290.31h0.01M72.99 298.07h0.01M79.11 292.94h0.01M73.31 295.61h0.01M71.14 292.92h0.01M75.2 286.72h0.01M78.04 296.92h0.01M79.69 289.95h0.01M71.56 291.92h0.01M71.48 301h0.01M72.62 293.51h0.01M76.71 295.94h0.01M81.03 291.05h0.01M79.05 294.97h0.01M71.94 294.98h0.01M71.14 299.64h0.01M73.47 297.69h0.01M80.51 292.54h0.01M72.89 294.92h0.01M72.36 297.36h0.01M76.61 292.08h0.01M73.62 296.8h0.01M70.96 299.87h0.01M73.27 293.88h0.01M72.79 299.66h0.01M78.86 298.64h0.01M78.27 294.79h0.01M81.9 296.61h0.01M77.52 296.34h0.01M78.56 295.39h0.01M75.42 289.42h0.01M83.17 290.36h0.01M68.5 292.23h0.01M82.74 298.39h0.01M73.9 295.34h0.01M75.92 288.17h0.01M74.83 295.43h0.01M80.09 290.66h0.01M68.13 289.47h0.01M77.15 294.76h0.01M76.52 294.97h0.01M74.72 290.14h0.01M77.58 295.73h0.01M78.02 298.48h0.01M71.67 287.03h0.01M69.77 301.33h0.01M72.81 295.78h0.01M75.95 296.83h0.01M87.23 292.85h0.01M75.41 292.59h0.01M76.86 296.16h0.01M72.61 298.71h0.01M80.01 295.92h0.01M75.61 293.74h0.01M70.25 296.6h0.01M72.59 292.89h0.01M79.49 291.56h0.01M74.17 297.24h0.01M82.5 292.29h0.01M79.86 292.41h0.01M77.36 296.05h0.01M72.02 297.78h0.01M82.3 294.67h0.01M76.94 290.75h0.01M82.26 294.7h0.01M71.53 296.95h0.01M70.89 292.3h0.01M68.54 298.9h0.01M83.74 292.47h0.01M73.71 292.65h0.01M74.02 296.27h0.01M81.1 291.28h0.01M77.54 288.73h0.01M81.33 294.22h0.01M73.55 299.4h0.01M75.63 298.88h0.01M79.76 299.8h0.01M73.2 294.68h0.01M77.29 293.88h0.01M81.33 292.21h0.01M79.51 298.86h0.01M69.16 291.4h0.01M72.84 292.75h0.01M77.37 293.94h0.01M76.28 293.03h0.01M75.71 296.05h0.01M78.61 292h0.01M75.6 292.06h0.01M75.38 289.91h0.01M79.34 296.65h0.01M75.57 292.31h0.01M74.4 292.37h0.01M70.6 299.73h0.01M87.51 290.57h0.01M71.92 296.35h0.01M78.12 289.47h0.01M69.28 296.24h0.01M69.03 299.05h0.01M74.27 294.77h0.01M75.99 292.71h0.01M75.5 293.54h0.01M80.36 294.21h0.01M75.89 292.81h0.01M73.78 292.14h0.01M76.04 300.38h0.01" stroke="#000" stroke-width="0.66" stroke-linecap="round" opacity="0.3"/>
<path d="M90.49 294.53h0.01M92.37 296.94h0.01M87.4 293.29h0.01M82.97 294.57h0.01M85.63 288.89h0.01M82.33 299.8h0.01M87.43 295.34h0.01M87.38 292.36h0.01M88.27 297.16h0.01M85.65 295.39h0.01M90.19 292.3h0.01M87.28 291.51h0.01M88.75 292.66h0.01M90.6 291.43h0.01M92.44 292.84h0.01M83.84 291h0.01M88.95 291.15h0.01M92.84 297.78h0.01M88.46 289.39h0.01M86.62 291.55h0.01M80.54 295.12h0.01M94.19 292.14h0.01M89.45 297.78h0.01M83.43 292.75h0.01M87.61 295.26h0.01M82.81 294.47h0.01M86.34 296.75h0.01M81.27 292.05h0.01M84.99 292.82h0.01M89.16 291.85h0.01M96.01 291.61h0.01M89.56 296.96h0.01M89.98 293.17h0.01M83.88 293.01h0.01M88.96 294.18h0.01M88.68 295.58h0.01M83.69 290.9h0.01M91.6 292.29h0.01M81.31 299.56h0.01M83.87 290.9h0.01M89.99 290.29h0.01M83.74 297.05h0.01M83.91 301.58h0.01M87.03 302.12h0.01M87.14 293.97h0.01M84.52 293.11h0.01M85 293.73h0.01M89.32 289.86h0.01M83.58 287.31h0.01M91.81 293.57h0.01M86.65 293.62h0.01M90.12 294.8h0.01M89.59 293.28h0.01M86.29 293.63h0.01M80.37 297.18h0.01M81.34 290.72h0.01M88.98 293.97h0.01M89.46 299.09h0.01M93.03 298.09h0.01M85.93 300.15h0.01M83.71 293.53h0.01M90.09 293.14h0.01M86.29 292.71h0.01M91.34 286.15h0.01M91.03 297.09h0.01M86.45 295.54h0.01M83.41 297.24h0.01M97.11 290.95h0.01M91.45 293.63h0.01M85.55 292.29h0.01M86.06 289.92h0.01M82.08 298.95h0.01M86.64 295.51h0.01M87.76 295.28h0.01M81.51 290.86h0.01M88.85 296.89h0.01M82.81 292.01h0.01M83.07 295.82h0.01M87.87 293.9h0.01M84.49 294.86h0.01M86.81 291.49h0.01M87.83 291.74h0.01M89.94 295.74h0.01M84.36 295.62h0.01M86.93 291.61h0.01M83.59 288.65h0.01M82.86 294.88h0.01M90.81 291.85h0.01M87.24 294.87h0.01M89.35 295.17h0.01M90.87 296.18h0.01M84.11 295.03h0.01M78.74 293.24h0.01M86.77 295.6h0.01M85.67 296.38h0.01M91.19 291.2h0.01M84.85 294.61h0.01M88.37 294.25h0.01M89.53 290.13h0.01M89.34 297.42h0.01M90.47 295.12h0.01M85.89 295.04h0.01M86.45 288.88h0.01M84.64 293.67h0.01M84.95 290.91h0.01M85.91 292.65h0.01M86.94 293.65h0.01M87.28 296.88h0.01M87.16 295.06h0.01M82.54 284.66h0.01M85.34 295.9h0.01M85.55 291.87h0.01M82.48 296.56h0.01M84.91 294.56h0.01M90.54 295.46h0.01M94.33 293.39h0.01M89.95 295.95h0.01M84.47 293.95h0.01M84.78 290.62h0.01M87.72 291.4h0.01M92.41 291.5h0.01M84.85 294.08h0.01M84.94 293.97h0.01M84.63 289.39h0.01M78.5 289.8h0.01M91.87 295.18h0.01M87.22 292.36h0.01M86.21 294.73h0.01M81.98 291.33h0.01M83.67 297.7h0.01M83.11 297.43h0.01M85.12 302.25h0.01M86.43 293.9h0.01M91.29 296.51h0.01M89.89 290.49h0.01M90.56 299.01h0.01M86.35 292.3h0.01M82.99 296.95h0.01M87.7 293.82h0.01M82.5 298.83h0.01M89.68 293.74h0.01M91.72 290.85h0.01M89.7 290.7h0.01M91.5 292.95h0.01M90.86 292.51h0.01M88.06 297.34h0.01M83.63 294.1h0.01M83.85 296.44h0.01M84.65 292.64h0.01M86.01 297.41h0.01M83.16 293.72h0.01M85.58 292.1h0.01M84.02 293.31h0.01M87.37 289h0.01M87.5 290.13h0.01M86.75 300.87h0.01M83.41 293.6h0.01M85.83 296.84h0.01M85.09 288.26h0.01M81.22 294.35h0.01M87.56 297.11h0.01M84.88 295.86h0.01M83.08 297.82h0.01M86.46 291.7h0.01M87.31 299.2h0.01M83.82 289.96h0.01M83.25 290.22h0.01M86.53 294.89h0.01M86.14 294.41h0.01M90.73 292.91h0.01M82.44 286.71h0.01M87.52 291.69h0.01M85.85 295.07h0.01M88.27 288.94h0.01M83.45 294.03h0.01M86.21 297.35h0.01M84.99 287.4h0.01M90.68 288.73h0.01M83.4 295.01h0.01M83.1 301.51h0.01M87.51 295.46h0.01M85.22 300.67h0.01M88.54 291.58h0.01M90.97 288.56h0.01M84.71 294.69h0.01M87.17 290.83h0.01M92.07 298.36h0.01M83.52 294.96h0.01M84.54 292.46h0.01M90.05 294.19h0.01M86.33 294.12h0.01M82.71 297.58h0.01M84.15 297.86h0.01M85.14 292.39h0.01M91.75 294.39h0.01M84.53 292.14h0.01M88.76 299.6h0.01M88.79 292.58h0.01M82.89 291.71h0.01M86.3 294.56h0.01M84.47 297.77h0.01M83.44 291.59h0.01M88.39 295.29h0.01M85.37 296.78h0.01M81.91 298.86h0.01M94.13 299.85h0.01M87.1 299.9h0.01M86.88 297.92h0.01M86.02 294.4h0.01M88.48 288.38h0.01M85.99 299.12h0.01M76.77 294.99h0.01M89.83 294.82h0.01M87.36 298.1h0.01M87.84 287.93h0.01M83.49 292.88h0.01M87.19 292.41h0.01M86.34 298.97h0.01M76.73 297.37h0.01M89.88 295.67h0.01M86.75 294h0.01M87.94 294.55h0.01M84.24 296.22h0.01M83.89 293.67h0.01M85.48 290.23h0.01M88.76 293.58h0.01M82.74 293.56h0.01M82.02 298.24h0.01M88.45 299.95h0.01M84.77 295.98h0.01M83.41 291.16h0.01M86.4 295.07h0.01M89.84 292.97h0.01M90.44 296.78h0.01M83.73 293.25h0.01M83.59 299.07h0.01M84.83 296.54h0.01M89.8 293.02h0.01M85.05 294.86h0.01M84.07 289.89h0.01M83.43 294.85h0.01M87.35 299.24h0.01M80.51 295.35h0.01M82.79 297.37h0.01M89.06 294.19h0.01M91.69 292.65h0.01M84.91 290.55h0.01M84.48 294.16h0.01M88.98 297.75h0.01M85.79 291.55h0.01M85.57 292.48h0.01M85.12 292.56h0.01M83.75 293.64h0.01M84.97 293.28h0.01M82.02 294.25h0.01M88.64 295.8h0.01M84.85 290.29h0.01M82.3 290.19h0.01M84.53 292.85h0.01M80.71 295.86h0.01M81.5 291.69h0.01M84.26 296.35h0.01M92.91 292.71h0.01M85.77 292.59h0.01M86.03 293.28h0.01M95.02 290.45h0.01M86.33 291.38h0.01M87.9 292.2h0.01M88.64 290.48h0.01M93.81 294.44h0.01M80.75 295.95h0.01M85.12 290.26h0.01M88.19 292.21h0.01M89.19 292.12h0.01M89.74 294.26h0.01M87.9 294.28h0.01M85.47 292.69h0.01M88.22 295.97h0.01M85.33 300.66h0.01M92.39 290.29h0.01M90.35 293.59h0.01M87.48 291.39h0.01M92.25 291.28h0.01M86.43 291.59h0.01M93.2 297.64h0.01M82.27 292.43h0.01M87.92 292.48h0.01M85.51 290.51h0.01M87.54 290.47h0.01M89.5 301.13h0.01M85.61 298.83h0.01M87.95 291.76h0.01M85.54 290.87h0.01M87.09 295.94h0.01M89.82 292.95h0.01M82.7 293.57h0.01M92.31 294.66h0.01M86.49 287.47h0.01M85.25 295.46h0.01M83.53 297.92h0.01M84.8 291.15h0.01M84.76 293.52h0.01M90.05 292.08h0.01M80.73 293.57h0.01M88.45 298.5h0.01M82.94 298.32h0.01M88.97 295.19h0.01M84.13 291.12h0.01M83.5 296.65h0.01M87.43 297.06h0.01M92.79 293.87h0.01M86.54 299.64h0.01M82.33 292.45h0.01M85.46 292.66h0.01M87.18 291.26h0.01M90.59 289.66h0.01M83.97 288.67h0.01M82.01 295.6h0.01M88.81 293.21h0.01M89.53 295.69h0.01M84.77 293.69h0.01M87.93 299.92h0.01M85.23 294.94h0.01M88.52 297.51h0.01M88.12 297.07h0.01M83.14 293.02h0.01M80.23 293.66h0.01M94.5 294.55h0.01M87 294.62h0.01M87.19 289.8h0.01M84.39 293.29h0.01M87.26 291.2h0.01M86.35 291.59h0.01M82.29 291.82h0.01M84.01 296.36h0.01M91.18 295.57h0.01M85.99 292.13h0.01M81.45 292.22h0.01M91.93 297.32h0.01M87.45 293.07h0.01M86.71 295.1h0.01M86.68 295.12h0.01M84.12 293.96h0.01M85.53 297.08h0.01M82.56 297.75h0.01M86.41 292.3h0.01M86.77 294.19h0.01M85.92 295.1h0.01M84.77 288.7h0.01M89.03 293.74h0.01M92.27 294.99h0.01M80.01 297.58h0.01M84.4 295.48h0.01M94.12 297.12h0.01M83.05 293.55h0.01M81.33 295.84h0.01M88.58 290.72h0.01M88.21 296.65h0.01M89.4 291.8h0.01M84.39 290.44h0.01M82.38 294.77h0.01M86.83 297.76h0.01M87.62 292.85h0.01M81.94 298.49h0.01M87.25 293.73h0.01M83.34 290.66h0.01M88.82 290.89h0.01M88.65 295.72h0.01M85.43 288.93h0.01M88.07 298.07h0.01M83.95 290.02h0.01M90.34 294.26h0.01M84.62 297.53h0.01M85.78 295.19h0.01M85.36 291.56h0.01M87.43 291.24h0.01M80.78 292.2h0.01M90.82 297.14h0.01M93.96 296.82h0.01M92.09 294.58h0.01M85.25 295.23h0.01M83.53 296.04h0.01M85.21 294.61h0.01M83.86 293.43h0.01M89.97 293.18h0.01M84.45 294.68h0.01M89.64 293.27h0.01M82.8 289.14h0.01M82.23 297.03h0.01M86.41 295.27h0.01M90.28 294.69h0.01M88.31 292.31h0.01M81.33 295.72h0.01M86.38 295.56h0.01M83.15 293.41h0.01M93.42 291.31h0.01M87.03 297.77h0.01M85.93 294.21h0.01M79.6 296.16h0.01M85.23 297.69h0.01M86.4 292.72h0.01M88.15 293.12h0.01M84.98 298.46h0.01M89.97 294.16h0.01M89.39 296.31h0.01M88.64 293.98h0.01M86.94 295.06h0.01M88.58 294.9h0.01M84.87 293.61h0.01M88.23 290.9h0.01M86.67 296.1h0.01M87.26 292.99h0.01M86.62 292.4h0.01M89.97 292.72h0.01M81.15 290.24h0.01M87.7 294.47h0.01M85.13 289.93h0.01M86.2 291.34h0.01M84.51 293.84h0.01M84.15 294.77h0.01M84.24 292.46h0.01M85.94 298.19h0.01M91.95 296.65h0.01M84.25 293.86h0.01M89.74 296.24h0.01M81.28 293.68h0.01M84.24 296.08h0.01M88.82 292.25h0.01M93.83 293.02h0.01M94.83 293.34h0.01M86.42 299.48h0.01M84.95 292.45h0.01M91.61 293.73h0.01M88.29 290.11h0.01M92.65 296.76h0.01M87.89 295.94h0.01M85.04 292.44h0.01M81.47 294.94h0.01M90.82 296.38h0.01M89.76 295.95h0.01M83.64 289.99h0.01M88.83 294.34h0.01M89.98 293.04h0.01M83.77 295.17h0.01M84.85 289h0.01M84.68 291.25h0.01M82.99 292.22h0.01M89.86 300.8h0.01M92.45 292.62h0.01M90.5 293.64h0.01M88.04 291.85h0.01M86.45 288.89h0.01M92.66 291.59h0.01M88.65 292.12h0.01M87.6 290.38h0.01M85.45 296.55h0.01M88.68 288.12h0.01M89.53 289.98h0.01M87.65 295.38h0.01M84.56 292.91h0.01M85.88 295.03h0.01M89.74 297.87h0.01M87.79 299.73h0.01M83.55 299.1h0.01M85.83 296.11h0.01M86.28 294.1h0.01M83.64 294.99h0.01M93.44 294.29h0.01M86.63 293.86h0.01M89.07 293.25h0.01M86.69 294.49h0.01M91.04 296.65h0.01M83.2 291.99h0.01M86.77 296.35h0.01M89.92 293.24h0.01M93.78 293.37h0.01M91.38 298.05h0.01M92.01 294.44h0.01M88.62 289.35h0.01M80.78 292.05h0.01M89.09 296.99h0.01M86.36 296.91h0.01M88.62 298.34h0.01M81.4 291.41h0.01M83.52 290.78h0.01M92.19 291.13h0.01M83.94 292.68h0.01M89.64 292.49h0.01M89.15 295.47h0.01M84.57 286.89h0.01M83.65 290.18h0.01M92.15 291.74h0.01M83.14 294.96h0.01M86.88 291.09h0.01M90.35 296.54h0.01M87.63 291.62h0.01M83.79 287.81h0.01M87.98 295h0.01M83.64 293.92h0.01M97.62 290.52h0.01M81.01 295.64h0.01M85.28 292.39h0.01M88.77 293.46h0.01M90.01 295.36h0.01M90.57 294.2h0.01M79.51 297.84h0.01M81.03 296.92h0.01M87.54 289.75h0.01M86.92 296.44h0.01M83.3 293.97h0.01M84.24 290.89h0.01M84.64 297.6h0.01M88.99 293.75h0.01M86.43 294.21h0.01M87.65 294.38h0.01M80.97 296.55h0.01M83.85 286.17h0.01M89.05 290.28h0.01M86.23 293.56h0.01M84.73 295.41h0.01M85.79 293.02h0.01M83.52 293.01h0.01M83.24 293.96h0.01M91.12 296.81h0.01M88.13 289.82h0.01M90.13 296.59h0.01M93.58 287.2h0.01M86.76 292.85h0.01M90.33 290.63h0.01M85.43 300.67h0.01M90.02 287.95h0.01M86.77 297.87h0.01M84.64 295.59h0.01M87.03 289.52h0.01M84.61 297.18h0.01M90.66 292.06h0.01M90.46 291.73h0.01M87.53 293.76h0.01M82.53 294.78h0.01M85.4 285.73h0.01M83.93 291.33h0.01M83.91 290.94h0.01M84.4 286.59h0.01M89.68 294.04h0.01M87.55 293.04h0.01M86.91 293.05h0.01M83.06 289.34h0.01M86.95 296.83h0.01M87.48 298.59h0.01M82.14 293.04h0.01M84.64 297.47h0.01M92.37 292.28h0.01M89.15 293.1h0.01M83.36 293.49h0.01M83.22 298.4h0.01M88.67 297.33h0.01M87.9 286.62h0.01M89.38 294.09h0.01M78.73 294.12h0.01M90.08 298.88h0.01M83.28 296.15h0.01M87.81 293.31h0.01M85.75 295.38h0.01M88.63 295.76h0.01M85.34 289.91h0.01M91.11 297.66h0.01M84.81 293.72h0.01M89.4 288.61h0.01M88.37 300.98h0.01M87.61 291.72h0.01M93.53 293.84h0.01M87.41 292.55h0.01M87.3 288.49h0.01M82.41 289.44h0.01M89.72 293.54h0.01M90.55 287.76h0.01M84.7 298.13h0.01M84.05 288.28h0.01M84.21 292.78h0.01M86.66 297.68h0.01M91.14 298.42h0.01M88.64 292.32h0.01M85.04 289.42h0.01M90.96 297.53h0.01M87 291.16h0.01M88.96 295.26h0.01M87.22 290.36h0.01M87.5 292.12h0.01M89.17 295.58h0.01M88.17 292.54h0.01M91.79 296.11h0.01M90.94 296.3h0.01M88.92 294.97h0.01M83.13 288.4h0.01M83.57 295.63h0.01M89.74 294.35h0.01M87 299.26h0.01M85.37 288.51h0.01M81.53 292.85h0.01M89.04 295.99h0.01" stroke="#000" stroke-width="0.66" stroke-linecap="round" opacity="0.42"/>
<ellipse cx="86.9" cy="293.6" rx="2.2" ry="2" fill="#222" opacity="0.6" transform="rotate(0 86.9 293.6)" filter="url(#bl1)"/>
<path d="M67.09 298.27h0.01M67.41 291.18h0.01M66.79 297.98h0.01M69.28 289.34h0.01M65.66 295.07h0.01M71.46 289.13h0.01M65.16 296.43h0.01M68.45 291.69h0.01M67.45 296.74h0.01M64.25 294.4h0.01M68.62 298.75h0.01M69.67 294.18h0.01M64.81 300.68h0.01M68.94 291.58h0.01M69.43 299.28h0.01M67.24 283.64h0.01M66.63 291.02h0.01M65.94 294.13h0.01M65.49 296.3h0.01M71.02 289.03h0.01M69.44 292.06h0.01M68.51 293.92h0.01M69.89 291.23h0.01M68.87 290.94h0.01M67.93 294.44h0.01M69.53 287.24h0.01M64.99 300.91h0.01M68.22 302.31h0.01M65.58 295.47h0.01M68.62 302.63h0.01M67.4 292.44h0.01M68.83 294.03h0.01M66.11 298.01h0.01M63.96 289.83h0.01M70.03 292.2h0.01M66.9 296.21h0.01M69.59 296.93h0.01M65.71 291.89h0.01M69.45 293.95h0.01M66.33 298.52h0.01M69.62 304.51h0.01M65.5 291.25h0.01M66.21 296.14h0.01M66.61 299.63h0.01M62.51 298.93h0.01M66.31 293.24h0.01M68.56 295.44h0.01M65.62 301.41h0.01M68.57 292.24h0.01M67.89 289.41h0.01M65.22 293.12h0.01M68.18 294.97h0.01M66.06 288.13h0.01M64.39 301.85h0.01M68.19 290.82h0.01M69.7 296.99h0.01M66.73 291.68h0.01M69.61 296.01h0.01M70.53 296.17h0.01M66.42 291.74h0.01M66.2 295.67h0.01M67.97 297.29h0.01M68.34 289.67h0.01M67.12 290.17h0.01M68.39 288.45h0.01M66.42 290.55h0.01M66.36 293.32h0.01M70.3 293.32h0.01M64.84 293.11h0.01M68.89 297.05h0.01M67.94 303.67h0.01M69.55 294.92h0.01M69.75 288.34h0.01M67.19 290.51h0.01M67.83 301.95h0.01M66.58 301.84h0.01M65.61 301.07h0.01M64.37 290.59h0.01M69.35 294.08h0.01M67.77 294.44h0.01M67.84 293.68h0.01M65.69 293.16h0.01M67.71 290.36h0.01M68.36 302.62h0.01M64.47 291.99h0.01M66.98 294.59h0.01M67.68 291.16h0.01M67.44 294.53h0.01M67.34 301.59h0.01M67.74 287.7h0.01M64.61 297.22h0.01M66.87 291.65h0.01M65 293.08h0.01M67.33 291.34h0.01M66.85 298.58h0.01M68.95 297.02h0.01M67.18 288.25h0.01M68.93 301.39h0.01M69.85 299.86h0.01M68.01 296.23h0.01M67.48 300.27h0.01M67 304.39h0.01M68.94 293.02h0.01M67.5 287.1h0.01M66.15 293.12h0.01M72.02 290.75h0.01M69.19 294.85h0.01M66.95 297.38h0.01M63.82 298.85h0.01M71.07 295.86h0.01M67.39 295.24h0.01M68.72 292.24h0.01M67.72 296.82h0.01M66.86 296.29h0.01M68.12 297.79h0.01M65.68 292.03h0.01M66.71 300.02h0.01M67.96 286.89h0.01M65.14 303.43h0.01M68.13 288.54h0.01M65.82 295.16h0.01M70.13 301.96h0.01M66.83 293.12h0.01M71.04 289.98h0.01M70.39 296.06h0.01M67.67 300.43h0.01M68.39 290.65h0.01M64.69 294.57h0.01M68.45 300.8h0.01M62.68 300.68h0.01M68.64 301.49h0.01M68.97 295.48h0.01M68.3 296.34h0.01M66.34 293.98h0.01M67.74 292.42h0.01M64.8 287.84h0.01M68.43 296.9h0.01M67.7 289.11h0.01M69.07 292.7h0.01M63.67 301.72h0.01M64.75 304.89h0.01M68.48 292.47h0.01M63.16 291.26h0.01M70.23 300.77h0.01M67.98 286.61h0.01M66.8 293.2h0.01M68.35 293.92h0.01M68.14 286.98h0.01M66.31 301.15h0.01M64.82 298.76h0.01M71.76 297.51h0.01M64.94 300.25h0.01M64.08 296.06h0.01M66.75 300.22h0.01M69.67 295.38h0.01M70.81 299.04h0.01M66.62 289.97h0.01M72.04 292.63h0.01M68.26 293.97h0.01M66.63 287.08h0.01M67.23 293.97h0.01M69.31 292.13h0.01M64.61 289.55h0.01M67.43 295.65h0.01M68.84 292.73h0.01M68.5 295.17h0.01M70.62 294.24h0.01M67.77 297.12h0.01M69.75 290.25h0.01M66.63 293.23h0.01M63.57 300.52h0.01M69.48 294.6h0.01M73.71 300.38h0.01M71.23 301.76h0.01M69.17 287.96h0.01M70.33 296.44h0.01M65.29 294.75h0.01M68.89 299.05h0.01M67.82 292.09h0.01M68.91 290.98h0.01M67.36 298.03h0.01M64.84 296.23h0.01M63.89 290.21h0.01M65.23 294.09h0.01M68.82 294.27h0.01M69.19 294.95h0.01M67.12 296.78h0.01M67.06 295.13h0.01M69.42 291.86h0.01M69.63 289.38h0.01M67.1 286.47h0.01M66.52 301.85h0.01M68.16 300.38h0.01M64.79 289.82h0.01M68.36 298.33h0.01M69.04 286.75h0.01M68.44 294.17h0.01M67.72 296.71h0.01M66.98 286.67h0.01M65.53 287.81h0.01M65.07 293.88h0.01M69.92 291.2h0.01M66.09 289.18h0.01M64.31 294.81h0.01M66.6 293.39h0.01M65.72 296.76h0.01M65.28 297.04h0.01M66.28 298.15h0.01M65.86 296.55h0.01M68.31 294.13h0.01M70.52 295.31h0.01M65.86 297.71h0.01M65.98 292h0.01M67.52 295.34h0.01M70.65 286.41h0.01M67.02 299.73h0.01M67.21 295.99h0.01M70.32 288.8h0.01M67.58 298.18h0.01M66.42 286.38h0.01M65.65 295.4h0.01M67.85 303.04h0.01M69.96 287.33h0.01M69.42 298.74h0.01M70.5 293.79h0.01M66.47 295.18h0.01M70.36 297.39h0.01M70.64 298.15h0.01M66.41 289.81h0.01M70.93 287.48h0.01M66.85 293.03h0.01M65.81 291.85h0.01M67.51 305.53h0.01M67.38 292.07h0.01M67.73 298.86h0.01M65.99 292.62h0.01M64.27 297.76h0.01M68.76 301.47h0.01M65.28 304.59h0.01M69.12 293.22h0.01M66.78 293.06h0.01M65.25 298.08h0.01M66.38 291.15h0.01M68.46 295.02h0.01M66.42 293.41h0.01M66.59 300.75h0.01M69.36 291.13h0.01M67.43 300.87h0.01M66.97 302.77h0.01M68.32 297.61h0.01M63.65 298.44h0.01M68.13 297.2h0.01M68.39 296.95h0.01M66.56 298.68h0.01M67.62 289.63h0.01M65.61 295.25h0.01M68.12 284.25h0.01M63.68 299.38h0.01M67.48 307.75h0.01M64.66 293.35h0.01" stroke="#000" stroke-width="0.66" stroke-linecap="round" opacity="0.45"/>
<path d="M67.2 286.8 C68.8 288 70.3 291.5 70.5 295 C70.7 299 69.8 301.6 67.2 301.7 C64.8 301.7 64.4 299 64.5 296 C64.6 292 65.6 287.3 67.2 286.8Z" fill="#0a0a0a" filter="url(#bl05)"/>
<rect x="74.6" y="281.4" width="27.8" height="24.1" fill="none" stroke="#858585" stroke-width="0.9"/>
<text x="80.2" y="279.6" font-size="8.6" textLength="15.8" lengthAdjust="spacingAndGlyphs" style="stroke-width:0.12px">25.3</text>
<rect x="115.4" y="267.5" width="48.8" height="48.3" fill="none" stroke="#c2c2c2" stroke-width="0.9" rx="1.5"/>
<line x1="115.4" y1="270.5" x2="115.4" y2="312.8" stroke="#8c8c8c" stroke-width="0.9" stroke-dasharray="1 3.2"/>
<line x1="118.4" y1="315.8" x2="161.2" y2="315.8" stroke="#8c8c8c" stroke-width="0.9" stroke-dasharray="1.2 3.4"/>
<path d="M135.32 296.97h0.01M151 302.59h0.01M132.13 300.58h0.01M130.51 295.64h0.01M141.34 297.31h0.01M133.76 301.13h0.01M139.47 293.9h0.01M137.92 288.32h0.01M145.63 295.79h0.01M143.55 303.94h0.01M133.23 292.49h0.01M140.06 298.56h0.01M138.61 298.98h0.01M143.57 284.62h0.01M134.67 283.17h0.01M137.77 291.78h0.01M144.61 294.91h0.01M139.5 300.73h0.01M144.65 287.43h0.01M134.61 295.75h0.01M153.3 292.95h0.01M138.67 295.42h0.01M146.11 293.52h0.01M142.3 291.75h0.01M135.7 289.76h0.01M145.15 291.03h0.01M144.29 296.17h0.01M147.61 279.67h0.01M132.46 287.49h0.01M138.72 298.3h0.01M159.79 302.25h0.01M150.61 296.04h0.01M136.98 296.86h0.01M122.99 298.97h0.01M140.07 297.3h0.01M131.96 288.15h0.01M134.98 293.77h0.01M142.73 292.11h0.01M142.73 297.64h0.01M130.93 293.46h0.01M127.83 291.07h0.01M147.07 290.18h0.01M154.56 296.7h0.01M146.95 294.56h0.01M146.76 299.85h0.01M140.84 291.17h0.01M135.7 304.32h0.01M138.57 291.56h0.01M134.47 284.99h0.01M136.1 295.74h0.01M136.2 289.94h0.01M143.2 296.46h0.01M136.59 295.65h0.01M132.4 298.6h0.01M132.3 292.2h0.01M141.06 291.76h0.01M131.05 305.22h0.01M151.85 284.67h0.01M140.95 287.22h0.01M142.44 287.03h0.01M144.54 296.84h0.01M153.36 300.45h0.01M136.42 299.06h0.01M136.42 293.4h0.01M136.09 284.58h0.01M144.72 283.12h0.01M138.16 296.81h0.01M140.89 285.57h0.01M134.93 297.64h0.01M148.6 302.54h0.01M125.82 296.46h0.01M136.24 298.09h0.01M126.81 293.24h0.01M145.53 290.55h0.01M137.17 288.76h0.01M148.71 286.89h0.01M132.86 292.22h0.01M137.53 305.31h0.01M142.15 289.54h0.01M144.54 295.84h0.01M142.21 293.65h0.01M143.61 287.73h0.01M130.6 291.72h0.01M131.37 297.75h0.01M155.18 300.62h0.01M143.49 295.81h0.01M134.64 287.04h0.01M144.29 286.08h0.01M142.36 293.24h0.01M145.87 294.27h0.01M140.83 290.89h0.01M126.54 292.16h0.01M145.44 299.6h0.01M150.77 288.67h0.01M132.68 297.76h0.01M136.46 307.77h0.01M142.46 285.87h0.01M135.67 302.41h0.01M125.74 294.82h0.01M129.16 302.58h0.01" stroke="#000" stroke-width="0.66" stroke-linecap="round" opacity="0.3"/>
<path d="M131.47 288.99h0.01M127.16 290.22h0.01M124.26 291.15h0.01M140.46 293.39h0.01M132.09 288.48h0.01M134.17 291.16h0.01M130.1 298.39h0.01M134.5 289.54h0.01M138.06 292.79h0.01M134.72 293.58h0.01M137.03 295.4h0.01M131.81 295.8h0.01M131.66 293.52h0.01M138.62 288.86h0.01M129.46 291.44h0.01M131.29 298.07h0.01M127.55 301.94h0.01M138.42 291.25h0.01M133.64 291.59h0.01M135.3 295.58h0.01M135.57 295.99h0.01M139.61 292.34h0.01M135.39 292.27h0.01M133.13 293.86h0.01M132.82 294.35h0.01M130.09 292.4h0.01M130.93 288.44h0.01M130.58 291.06h0.01M132.49 286.91h0.01M132.12 288.6h0.01M130.2 293.74h0.01M136.8 294.12h0.01M131.33 291.29h0.01M137.59 286.67h0.01M136.9 287.14h0.01M130.83 293.18h0.01M132.24 299.49h0.01M134.69 292.81h0.01M136.27 293.15h0.01M130.24 297.38h0.01M138.13 298h0.01M128.98 300.44h0.01M131.57 296h0.01M137.08 302.28h0.01M127.47 289.02h0.01M137.04 294.93h0.01M131.93 281.58h0.01M134.51 292.27h0.01M124.05 303.46h0.01M124.43 290.82h0.01M132.98 293.91h0.01M135.58 291.96h0.01M129.93 291.59h0.01M125.79 288.64h0.01M139.77 290.32h0.01M132.73 300.41h0.01M136.61 293.48h0.01M135.52 291.95h0.01M129.9 296.91h0.01M133.46 299.26h0.01M132.1 291.54h0.01M134.18 292.26h0.01M131.93 289.5h0.01M133.87 294.26h0.01M139.28 292.9h0.01M126.98 294.82h0.01M140.85 291.28h0.01M130.25 292.35h0.01M123.19 291.69h0.01M132.35 287.09h0.01M134.98 289.58h0.01M126.66 290.19h0.01M135.18 300.52h0.01M137.29 293.76h0.01M131.25 291.98h0.01M136.32 290.97h0.01M134.43 296.78h0.01M129.89 290.7h0.01M134.54 293.03h0.01M132.57 290.93h0.01M132.78 300.26h0.01M137.67 286.69h0.01M133.16 293.36h0.01M133.13 287.6h0.01M132.55 293.58h0.01M130.66 294.23h0.01M124.63 287.1h0.01M133.35 294.53h0.01M132.43 291.21h0.01M133.64 297.24h0.01M136.09 292.69h0.01M131.4 297.16h0.01M134.86 296.46h0.01M132.05 289.63h0.01M133.64 290.55h0.01M136.95 296.35h0.01M125.51 295.61h0.01M137.58 297.06h0.01M131.37 289.63h0.01M136.33 296.97h0.01M133.21 288.48h0.01M127.75 294.05h0.01M130.16 290.34h0.01M134.53 297.11h0.01M125.91 290.38h0.01M137.46 292.83h0.01M131.82 295.5h0.01M129.09 288.21h0.01M133.07 299.12h0.01M136.49 292.98h0.01M136.48 291.39h0.01M128.95 286.44h0.01M133.93 296.53h0.01M134.28 292.85h0.01M131.62 297.27h0.01M132.84 287.36h0.01M137.71 290.46h0.01M134.35 293.01h0.01M136.62 293.97h0.01M137.22 293.83h0.01M131.42 291.01h0.01M135.24 289.75h0.01M136.19 292.06h0.01M129.81 289.58h0.01M132.5 299.94h0.01M135.65 293.08h0.01M129.89 300.47h0.01M132.05 293h0.01M131.54 298.23h0.01M133.61 291.21h0.01M133.64 289.09h0.01M129.38 292.37h0.01M123.11 297.61h0.01M139.84 288.64h0.01M132.51 286.82h0.01M133.59 293.83h0.01M135.55 287.77h0.01M130.93 290.46h0.01M132.15 301.96h0.01M132.31 292.84h0.01M131.25 296.12h0.01M141.81 297.56h0.01M138.27 288.79h0.01M136.64 293.11h0.01M137.3 297.15h0.01M135.25 286.43h0.01M133.46 291.04h0.01M134.54 293.15h0.01M136.61 286.71h0.01M130.45 292.7h0.01M134.1 291.41h0.01M132.9 293.22h0.01M136.6 292.56h0.01M133.83 285.87h0.01M124 287.26h0.01M134.23 283.95h0.01M134.41 292.62h0.01M133.01 290.13h0.01M131.55 296.26h0.01M134.23 292.9h0.01M131.32 293.83h0.01M137.1 292.92h0.01M131.74 288.37h0.01M133.34 289.4h0.01M128.05 296.42h0.01M130.85 285h0.01M130.53 300.24h0.01M132.63 287.8h0.01M129.21 295.82h0.01M134.4 293.84h0.01M132.33 294.9h0.01M138.3 294.92h0.01M132.43 287.51h0.01M134.53 299.16h0.01M135.23 288.06h0.01M133.64 298.11h0.01M130.81 294.94h0.01M137.17 299.43h0.01M127.52 286.13h0.01M134.29 295.76h0.01M131.78 292.92h0.01M131.59 297.72h0.01M125.38 294h0.01M128.59 290.34h0.01M127.72 289.42h0.01M132.92 293.1h0.01M139.16 292.13h0.01M134.19 294.39h0.01M133.89 298.77h0.01M133.48 293.59h0.01M132.61 293.02h0.01M132.81 296.92h0.01M133.07 293.27h0.01M132.84 295.98h0.01M131.37 296.7h0.01M131.03 295.73h0.01M139.62 293.92h0.01M132.7 288.35h0.01M135.55 293.05h0.01M136.14 290.41h0.01M134.8 300.12h0.01M134.39 291.71h0.01M128.51 292.97h0.01M135.27 295.36h0.01M129.14 288.95h0.01M129.63 288.98h0.01M132.05 294.05h0.01M139.64 293.77h0.01M138.02 286.48h0.01M138.32 296.15h0.01M134.52 296.25h0.01M135.13 300.55h0.01M135.78 286.14h0.01M126.97 299.36h0.01M132.71 298.22h0.01M131.82 290.41h0.01M131.82 294.24h0.01M133.65 290.56h0.01M134.85 295.43h0.01M129.83 288.61h0.01M126.22 291.79h0.01M133.04 290.26h0.01M130.92 292.47h0.01M133.1 295.25h0.01M135.88 294.73h0.01M136.87 289.18h0.01M135.1 294.47h0.01M129.39 290.33h0.01M134.53 293.3h0.01M128.66 290.82h0.01M138.27 296.33h0.01M133.28 298.33h0.01M129.86 292.32h0.01M136.31 291.67h0.01M129.14 295.31h0.01M138.54 282.98h0.01M133.53 288.06h0.01M131.97 287.42h0.01M141.99 290.31h0.01M133.15 290.21h0.01M129.58 291.2h0.01M133.72 299.93h0.01M133.99 299.19h0.01M129.32 293.28h0.01M131.49 286.81h0.01M145.89 292.04h0.01M133.85 290.02h0.01M131.01 288.91h0.01M136.55 291.41h0.01M132.5 293.72h0.01M128.76 293.92h0.01M132.41 294.76h0.01M131.67 293.15h0.01M134.79 296.82h0.01M130.62 296.84h0.01M129.59 292.25h0.01M133.45 293.57h0.01M124.36 289.13h0.01M132.36 296.65h0.01M130.56 298.97h0.01" stroke="#000" stroke-width="0.66" stroke-linecap="round" opacity="0.3"/>
<path d="M136.16 291.52h0.01M146.35 291.27h0.01M145.15 295.08h0.01M140.5 293.65h0.01M148.62 290.23h0.01M133.93 286.26h0.01M140.29 286.81h0.01M145.87 287.86h0.01M154.78 293.57h0.01M138.32 290.01h0.01M150.65 294.02h0.01M139.57 295.5h0.01M141.94 300.39h0.01M141.6 293.68h0.01M146.45 289.36h0.01M143.33 296.01h0.01M146.16 290.95h0.01M145.93 298.46h0.01M148.05 293.18h0.01M145.43 284.71h0.01M144.59 289.18h0.01M147.18 288.68h0.01M145.95 286.84h0.01M147.89 288.18h0.01M143.88 293.6h0.01M142.59 291.23h0.01M148.61 298.54h0.01M136.15 287.45h0.01M146.94 295.1h0.01M141.94 291.59h0.01M143.16 300.65h0.01M143.13 286.26h0.01M137.25 285.9h0.01M149.67 289.59h0.01M152.48 293.85h0.01M145.67 293.88h0.01M147.44 295.02h0.01M139.76 288.89h0.01M141.62 291.63h0.01M142.91 286.09h0.01M140.98 298.61h0.01M153.23 287.65h0.01M145.66 291.05h0.01M140.32 294.16h0.01M143.7 298.13h0.01M145.99 289.91h0.01M132.49 290.77h0.01M147.69 288.24h0.01M147.84 294.03h0.01M136.32 290.39h0.01M145.39 294.33h0.01M144.67 291.14h0.01M142.49 289.99h0.01M144.02 286.79h0.01M146.79 289.85h0.01M146.27 289.1h0.01M145.79 291.73h0.01M147.88 293.12h0.01M148.06 290.51h0.01M143.76 290.12h0.01M138.55 290.68h0.01M148.73 294.39h0.01M140.3 292.44h0.01M147.27 285.56h0.01M145.52 292.57h0.01M147.26 292.26h0.01M136.44 282.85h0.01M152.63 289.56h0.01M149.53 296.44h0.01M144.38 286.46h0.01M149.95 291.05h0.01M146.26 293.18h0.01M148.15 295.4h0.01M137.82 285.37h0.01M144.62 291.24h0.01M147.38 290.64h0.01M143.21 299.6h0.01M149.97 296h0.01M148.51 287.94h0.01M143.63 290.91h0.01M139.24 287.6h0.01M144.7 286.18h0.01M146.36 293.16h0.01M142.98 289.8h0.01M146.62 293.19h0.01M145.59 286.14h0.01M136.95 299.67h0.01M141.16 289.69h0.01M136.07 287.9h0.01M140.82 294.5h0.01M132.52 285.4h0.01M142.21 289.17h0.01M140.63 289.38h0.01M137.15 292.31h0.01M149.2 291.83h0.01M141.67 296.42h0.01M146.12 286.94h0.01M141.51 288.68h0.01M143.8 296.21h0.01M140.94 290.59h0.01M144.49 286.28h0.01M141.93 293.73h0.01M148.92 283.46h0.01M147.07 290h0.01M149.61 293.77h0.01M152.56 292.48h0.01M142.28 287.76h0.01M137.78 293.49h0.01M146.24 294.58h0.01M145.52 285.02h0.01M142.23 290.2h0.01M144.7 294.37h0.01M150.17 292.38h0.01M135.03 286.99h0.01M134.72 288.05h0.01M138.79 292.19h0.01M143.04 295.8h0.01M148.69 289.32h0.01M148.11 291.25h0.01M145.98 296.76h0.01M139.01 290.92h0.01M150.69 288.05h0.01M144.94 291.75h0.01M142.19 285.81h0.01M141.02 287.15h0.01M148.7 292.23h0.01M147.05 286.3h0.01M146.18 291.79h0.01M148.56 288.23h0.01M147.53 296.85h0.01M151.84 287.37h0.01M139.12 285.17h0.01M148.19 293.65h0.01M145.49 287.63h0.01M149.45 297.81h0.01M143.85 290.71h0.01M149.17 293.29h0.01M149.85 289.54h0.01M145.48 289.81h0.01M141.53 289.98h0.01M142.77 293.28h0.01M142.68 291.49h0.01M140.49 286.16h0.01M150.21 287.15h0.01M151.89 295.07h0.01M134.05 288.57h0.01M142.19 291.29h0.01M143.23 288.72h0.01M149.45 290.68h0.01M148.19 288.38h0.01M141 296.69h0.01M142.78 286.68h0.01M143.27 295.53h0.01M143.3 288.25h0.01M146.77 295.24h0.01M143.11 289.89h0.01M142.42 302.31h0.01M143.19 298.38h0.01M143.36 292.87h0.01M135.15 291.93h0.01M144.23 289.9h0.01M142.23 285.6h0.01M137.54 291.89h0.01M141.23 290.84h0.01M143.22 289.12h0.01M140.84 298.83h0.01M139.21 289.11h0.01M142.72 286.46h0.01M139.84 294.75h0.01M148.06 291.75h0.01M158.1 294.6h0.01M149.37 287.85h0.01M148.72 298.12h0.01M142.36 298.63h0.01M140.51 286.55h0.01M143.81 287.89h0.01M146.78 286.67h0.01M144.37 283.17h0.01M143.87 295.52h0.01M142.86 292.48h0.01M148.75 286.7h0.01M138.49 291.54h0.01M145.22 290.1h0.01M139.8 296.18h0.01M138.96 290.14h0.01M143.83 294.18h0.01M142.07 287.84h0.01M152.76 287.74h0.01M147.48 290.57h0.01M141.94 291.02h0.01M142.9 292.48h0.01M132.96 291.09h0.01M144.33 287.22h0.01M142.33 300.79h0.01M152.04 293.84h0.01M145.03 289.95h0.01M150.04 289.37h0.01M140.45 294.04h0.01M139.82 287.96h0.01M150.31 284.62h0.01M143.73 291.69h0.01M145.14 285.23h0.01M143.03 289.83h0.01M152.37 295.32h0.01M140.73 294.79h0.01M146.86 290.74h0.01M142.96 290.08h0.01M137.32 288.62h0.01M148.08 297.13h0.01M152.07 289.66h0.01M146.69 281.34h0.01M142.85 286.03h0.01M147.59 284.41h0.01M139.49 286.67h0.01M145.74 294.64h0.01M140.03 298.59h0.01M144.72 287.79h0.01M145.54 291.14h0.01M147.63 292.61h0.01M153.53 296h0.01M141.25 294.43h0.01M147.32 287.1h0.01M140.77 287.89h0.01M133.3 293.81h0.01M143.08 296.25h0.01M141.6 291.51h0.01M147.17 295.17h0.01M145.41 286.94h0.01M153.59 294.76h0.01M149.93 297.83h0.01M150.12 292.9h0.01M146.08 293.79h0.01M137.5 294.54h0.01M139.79 292.93h0.01M139.64 294.13h0.01M141.91 301.4h0.01M144.86 293.28h0.01M140.1 290.03h0.01M143.78 290.03h0.01M142.14 287.62h0.01M147.34 289.63h0.01M140.49 292.7h0.01M140.51 290.49h0.01M141.81 287.41h0.01M143.05 287.83h0.01M138.59 292.64h0.01M142.74 285.21h0.01M142.32 291.97h0.01M145.89 292.73h0.01M145.13 293.65h0.01M141.89 287.94h0.01M146.69 289.53h0.01M144.07 293.87h0.01M148.1 296.21h0.01M141.05 289.69h0.01M146.44 285.35h0.01M138.57 293.69h0.01M141.37 287.43h0.01M147.51 293.38h0.01M148.01 289.85h0.01M142.78 289.82h0.01M145.32 282.9h0.01M141.03 294.1h0.01M140.66 290.94h0.01M144.58 293.33h0.01M141.98 286.58h0.01M154.85 288.28h0.01M151.44 284.02h0.01M144.52 290.4h0.01M152.24 299.54h0.01M148.27 287.06h0.01M140.56 288.13h0.01M141.8 292.27h0.01M140.63 290.2h0.01M150.41 297.08h0.01M135.98 287.32h0.01M142.43 296.5h0.01M142.61 299h0.01M145.62 297.07h0.01M140.32 289.94h0.01M148.45 293.54h0.01M135.96 290.08h0.01M144.82 293.77h0.01M141.29 298.31h0.01M144.7 297.12h0.01M145.78 291.55h0.01M142.66 286.45h0.01M147.78 294.29h0.01M148.08 289.67h0.01M139.7 289.66h0.01M142.69 291.16h0.01M148.29 287.49h0.01M141.94 294.02h0.01M147.95 300.23h0.01M146.32 287.76h0.01M139.55 287.98h0.01M144.35 292.24h0.01M143.76 288.71h0.01M143.25 290.89h0.01M146.61 291.54h0.01M140.55 286.44h0.01M150.45 290.86h0.01M143.29 291.11h0.01M148.92 289.93h0.01M144.81 290.24h0.01M146.55 287.09h0.01M144.93 295.39h0.01M149.17 293.72h0.01M145.32 297.61h0.01M147.11 296.9h0.01M138.87 286.74h0.01M147.5 290.12h0.01M142.19 287.34h0.01M150.46 286.35h0.01M144.51 285.54h0.01M143.3 300.35h0.01M154.56 289.2h0.01M139.7 297.83h0.01M140.36 283.95h0.01M145.56 286.82h0.01M137.8 295.78h0.01M140.91 286.88h0.01M144.78 290.44h0.01M148.9 291.59h0.01M150.92 295.83h0.01M151.74 295.77h0.01M144.37 293.43h0.01M144.16 284.88h0.01M138.99 294.22h0.01M133.87 287.85h0.01M138.53 290.95h0.01M139.6 292.22h0.01M143.21 289.3h0.01M140.41 282.18h0.01M144.38 285.96h0.01M142.79 292.72h0.01M148.58 294.07h0.01M150.44 285.44h0.01M146.98 297.58h0.01M145.77 286.7h0.01M145.78 289.1h0.01M141.29 295.54h0.01M143.3 286.66h0.01M141.16 299.19h0.01M140.43 293.95h0.01M144.83 295.96h0.01M142.87 287.37h0.01M141.31 287.03h0.01M155.24 292h0.01M142.69 296.33h0.01M146.89 290.47h0.01M146.75 292.31h0.01M148.92 297.92h0.01M142.72 291.07h0.01M143.29 296.18h0.01M145.72 294.39h0.01M147.94 288.63h0.01M144.62 296.84h0.01M148.05 294.51h0.01M142.86 289.75h0.01M140.39 290.11h0.01M143.8 285.39h0.01M149.07 288.11h0.01M145.15 293.66h0.01M141.7 283.86h0.01M148.22 292.87h0.01M142.99 295.81h0.01M147.92 287.34h0.01M143.73 284.06h0.01M142.94 296.94h0.01M140.47 294.56h0.01M137.59 290.01h0.01M148.12 298.19h0.01M146.02 294.29h0.01M151.46 281.3h0.01M136.74 298.89h0.01M154.67 293.64h0.01M144.36 292.27h0.01M144.2 288.72h0.01M144.01 290.7h0.01M146.95 293.97h0.01M148.28 293.6h0.01M139.91 296.86h0.01M132.6 291.69h0.01M145.49 289.06h0.01M152.11 286.78h0.01M139.06 289.16h0.01M145.87 294.44h0.01M144.54 293.93h0.01M141.06 288.76h0.01M144.64 285.75h0.01M144.88 289.61h0.01M147 287.1h0.01M141.81 288.91h0.01M142.51 287.16h0.01M142.96 285.72h0.01M146.37 293.94h0.01M144.01 290.45h0.01M140.26 287.31h0.01M143.14 287.54h0.01M139.04 291.89h0.01M143.99 289.57h0.01M140.6 290.99h0.01M141.11 289.47h0.01M144.87 294.13h0.01M147.3 288.75h0.01M149.24 286.52h0.01M143.34 296.5h0.01M154.21 291.73h0.01M142.54 289.7h0.01M138.89 290.62h0.01M142.26 288.15h0.01M149.18 288.05h0.01M151.3 294.62h0.01M146.81 288.83h0.01M141.9 283.11h0.01M145.24 290.12h0.01M145.73 288.49h0.01M146.15 285.14h0.01M134.74 293.14h0.01M148.65 278.44h0.01M149.55 289.79h0.01M143.38 284.97h0.01M139.81 294.1h0.01M140.94 291.06h0.01M143.41 299.28h0.01M147.86 285.85h0.01M142.02 286.55h0.01M138.16 288.44h0.01M148.76 291.41h0.01M146.93 290.66h0.01M142.27 291.54h0.01M143.74 299.03h0.01M151.71 292.74h0.01M146.63 283.13h0.01M143.54 300.92h0.01M140.67 294.52h0.01M149.26 289.6h0.01M143.1 289.36h0.01M147.45 291.3h0.01M150.46 296.03h0.01M144.02 301.76h0.01M142.75 288.73h0.01M143.06 287.64h0.01M142.28 290.92h0.01M147.85 284.79h0.01M138.11 288.07h0.01M142.77 293.05h0.01M140.72 297.34h0.01M141.82 290.33h0.01M144.29 295.96h0.01M145.33 291.32h0.01M141.76 291.9h0.01M145.77 289.78h0.01M143.96 283.73h0.01M141.8 296.01h0.01M150.09 290.91h0.01M134.88 298.67h0.01M143.33 301.65h0.01M142.31 295.29h0.01M141.44 296.79h0.01M148.97 286.88h0.01M149.55 302.84h0.01M143.11 286.28h0.01M145.23 289.58h0.01M137.7 286.94h0.01M145.09 285.01h0.01M148.64 293.04h0.01M143.29 296.91h0.01M140.13 294h0.01M138.3 289.88h0.01M146.77 289.03h0.01M143.56 293.85h0.01M150.51 296.51h0.01M146 290.14h0.01M137.91 298.2h0.01M152 282.42h0.01M147.74 291.03h0.01M147.05 292.49h0.01M143.23 291.19h0.01M143.89 295.95h0.01M142.94 288.99h0.01M146.82 293.83h0.01M145.89 292.36h0.01M150.29 295.75h0.01M144.94 290.35h0.01M146.84 283.58h0.01M141.83 288.32h0.01M144.77 289.63h0.01M154.48 294.21h0.01M145.75 300.38h0.01M144.04 289.9h0.01M149.26 294.59h0.01M147.96 296.14h0.01M142.5 288.51h0.01M141 291.63h0.01M148.29 286.91h0.01M141.78 285.74h0.01M152.51 294.47h0.01M144.97 286.23h0.01M139.68 288.57h0.01M144.19 286.02h0.01M143.08 296.19h0.01M144.1 291.61h0.01M135.18 290.09h0.01M143.42 288.38h0.01M138.19 290.91h0.01M139.71 288.97h0.01M137.29 290.82h0.01M147.89 287.76h0.01M145.41 285h0.01M146.49 293.42h0.01M142.4 294.82h0.01M140.33 291.39h0.01M151.16 291.11h0.01M139.29 295.92h0.01M146.31 290.07h0.01M136.35 283.51h0.01M137.61 297.27h0.01M145.28 287.72h0.01" stroke="#000" stroke-width="0.66" stroke-linecap="round" opacity="0.45"/>
<path d="M147.58 304.57h0.01M138 302.18h0.01M134.14 301.91h0.01M150.77 297.56h0.01M142.32 299.45h0.01M141.6 301.22h0.01M143.39 303.17h0.01M144.51 303.55h0.01M146.92 303.68h0.01M138.81 302h0.01M140.25 298.95h0.01M151.44 301.71h0.01M142.26 295.87h0.01M140.94 302.88h0.01M141.07 299.67h0.01M149.12 300.24h0.01M140.45 300.76h0.01M140.91 303.57h0.01M144.78 300.83h0.01M140.31 300.45h0.01M150.16 300.25h0.01M145.18 297.16h0.01M143.59 302.68h0.01M148.14 301.77h0.01M144.82 301.79h0.01M147.16 305.99h0.01M143.01 299.01h0.01M144.9 300.73h0.01M145.11 302.89h0.01M142.78 299.93h0.01M143.51 297.96h0.01M143.36 298.84h0.01M144.2 301.3h0.01M141 298.07h0.01M142.29 299.34h0.01M141.37 302.69h0.01M146.61 297.86h0.01M146.53 304.32h0.01M147.44 301.68h0.01M141.62 305.25h0.01M140.52 297.28h0.01M142.48 301.7h0.01M137.09 298.03h0.01M151.53 301.28h0.01M145.78 299.58h0.01M134.8 300.57h0.01M148.47 299.37h0.01M133.48 300.58h0.01M140.71 301.04h0.01M137.06 300.24h0.01M139.45 303.15h0.01M142.78 303.13h0.01M141.81 295.8h0.01M132.7 302.31h0.01M146.24 303.14h0.01M141.7 296.64h0.01M139.7 301.99h0.01M148.65 300.16h0.01M139.37 299.11h0.01M146.93 303.12h0.01M133.32 303.96h0.01M137.65 297.41h0.01M134.43 299.23h0.01M153.14 307.23h0.01M136.1 299.36h0.01M142.81 302.02h0.01M139.77 297.13h0.01M140.08 299.34h0.01M133.48 301.35h0.01M135.04 296.76h0.01M149.31 303.3h0.01M148.98 301.29h0.01M140.08 300.79h0.01M135.52 302.81h0.01M143.35 300.26h0.01M133.11 300.73h0.01M149.84 304.54h0.01M146.24 300.14h0.01M142.72 302.35h0.01M142.99 303.56h0.01M138.87 295.34h0.01M130.45 298.78h0.01M135.44 302.62h0.01M147.21 301h0.01M144.64 301.19h0.01M142.89 299.85h0.01M140.12 303.91h0.01M140.77 300.9h0.01M147.78 303.4h0.01M140.18 301.62h0.01M137.22 301.32h0.01M143.57 301h0.01M142.84 301.89h0.01M129.94 298.99h0.01M142.42 299.8h0.01M137.44 300.42h0.01M149.76 300.44h0.01M138.94 299.83h0.01M136.36 302.19h0.01M137.34 303.23h0.01M146.41 302.4h0.01M147.03 300.79h0.01M133.64 300.84h0.01M145.12 297.23h0.01M136.21 303.68h0.01M144.16 304.29h0.01M145.25 301.16h0.01M144.11 303.08h0.01M141.92 300.49h0.01M143.56 300.23h0.01M153.61 299.13h0.01M134.79 297.84h0.01M147.08 300.01h0.01M142.82 300.48h0.01M143.39 297.45h0.01M142.47 299.6h0.01M147.27 302.52h0.01M136.02 298.64h0.01M144.79 303.92h0.01M145.75 300.63h0.01" stroke="#000" stroke-width="0.66" stroke-linecap="round" opacity="0.3"/>
<path d="M131.02 281.59h0.01M125.76 287.74h0.01M122.65 295.32h0.01M125.7 294.61h0.01M124.41 296.1h0.01M127.91 290.52h0.01M128.71 288.79h0.01M130.91 287.33h0.01M126.42 287.33h0.01M123.81 299.75h0.01M121.56 301.66h0.01M127.89 295.75h0.01M123.09 297.3h0.01M120.72 287.54h0.01M127.55 293.33h0.01M131.54 290.92h0.01M123.09 291.18h0.01M124.38 302.03h0.01M121.7 292.85h0.01M129.04 290.26h0.01M126.25 286.56h0.01M125.97 297.67h0.01M126.4 294.59h0.01M127.73 292.93h0.01M125.88 297.59h0.01M127.5 296.35h0.01M124.73 296.67h0.01M124.76 283.15h0.01M128.67 294.6h0.01M124.16 289.46h0.01M125.12 293.29h0.01M122.59 297.68h0.01M118.18 306.42h0.01M121.02 300.92h0.01M129.21 284.76h0.01M122.92 292.64h0.01M126.67 290.99h0.01M125.33 293.85h0.01M123.08 292.69h0.01M131.11 290.95h0.01M122.52 295.85h0.01M126.88 299.1h0.01M124.32 292.28h0.01M126.24 292.04h0.01M124.87 298.79h0.01M126.68 293.26h0.01M122.65 302.08h0.01M120.22 302.61h0.01M126.93 293.87h0.01M121.46 302.01h0.01M126.79 298.36h0.01M132.32 284.95h0.01M126.16 291.49h0.01M123.91 292.99h0.01M125.92 296.01h0.01M127.06 286.14h0.01M125.85 296.45h0.01M128.65 298.99h0.01M127.14 287.12h0.01M132.13 291.06h0.01M124.91 296.97h0.01M124.74 300.13h0.01M124.32 288.89h0.01M127.59 286.77h0.01M122.34 299.79h0.01M126.29 292.65h0.01M124.27 292.94h0.01M126.94 287.45h0.01M128.94 286.87h0.01M128.67 291.98h0.01M122.9 283.74h0.01M127.33 288.69h0.01M127.41 301.15h0.01M128.7 298.79h0.01M129.19 290.64h0.01M128.86 291.49h0.01M127.31 285.96h0.01M125.09 295.12h0.01M126.93 287.26h0.01M126.16 298.23h0.01M124.26 297.01h0.01M128.96 288.48h0.01M128.03 283.38h0.01M122.76 294.64h0.01M123.14 294.54h0.01M129.15 282.55h0.01M122.4 300.58h0.01M125.39 293.66h0.01M126.26 284.32h0.01M118.19 306.99h0.01M126.35 288.4h0.01M128.45 283.04h0.01M126.1 302.67h0.01M123.49 294.26h0.01M122.43 296.94h0.01M123.95 291.79h0.01M127.56 296.46h0.01M126.95 284.95h0.01M120.49 298.34h0.01M126.53 293.6h0.01M127.98 294.48h0.01M124.13 292.05h0.01M125.34 292.88h0.01M130 297.43h0.01M126.46 291.86h0.01M125.47 287.47h0.01M122.19 289.55h0.01M124.89 282.52h0.01M126.36 281.94h0.01M126.7 300.26h0.01M120.62 303.1h0.01M130.44 280.26h0.01M126.96 287.83h0.01M122.19 290.66h0.01M127.35 295.98h0.01M123.35 288.73h0.01M122.32 298.54h0.01M126.68 287.86h0.01M126.33 282.23h0.01M122.48 297.19h0.01M121.19 292.92h0.01M124.14 297.19h0.01M121.82 297.09h0.01M125.63 305.82h0.01M122.1 291.92h0.01M124.9 293.53h0.01M122.22 296.91h0.01M128.41 302.19h0.01M124.29 289.45h0.01M126.88 294.13h0.01M122.17 299.02h0.01M125.19 298.64h0.01M123.36 299.58h0.01M126.09 286.91h0.01M127.45 285.72h0.01M127.16 297.55h0.01M121.69 292.94h0.01M127.83 291.62h0.01M127.22 290.19h0.01M125.49 292.52h0.01M127.9 288.23h0.01M122.65 294.08h0.01M123.71 295.42h0.01M126.27 285.87h0.01M126.72 294.82h0.01M127.55 291.65h0.01M122.98 299.4h0.01M119.47 301.12h0.01M126.69 293h0.01M124.86 296.21h0.01M123.48 294.01h0.01M126.06 282.8h0.01M125.8 293.64h0.01M126.12 296.28h0.01M125.9 297.54h0.01M121.55 298.76h0.01M132.02 291.58h0.01M121.86 295.87h0.01M126.05 298.82h0.01M130.73 286.63h0.01M125.67 295.64h0.01M129.43 289.05h0.01M126.08 291.08h0.01M125.37 292.15h0.01M127.66 283.67h0.01M125.33 293.34h0.01M129.66 274.22h0.01M124.94 289.18h0.01M121.4 300.89h0.01M127.75 292.56h0.01M122.18 310.58h0.01M122.77 294.92h0.01M122.14 300.43h0.01M128.05 292.99h0.01M127.93 289.18h0.01M120.94 296.51h0.01M129.43 292.35h0.01M126.9 283.32h0.01M131.78 287.95h0.01M123.71 291.43h0.01M128.02 293.98h0.01M125.44 293.1h0.01M127.37 293.29h0.01M125.95 292.71h0.01M121.25 299.41h0.01M125.87 285.7h0.01M124.53 292.92h0.01M129.32 285.77h0.01M122.55 293.21h0.01M127.86 287.47h0.01M122.84 293.27h0.01M127.47 284.44h0.01M121.55 300.28h0.01M121.77 297.89h0.01M120.15 299.91h0.01M129.82 290.6h0.01M123.17 295.91h0.01M122.08 295.18h0.01M127.74 295.08h0.01M126.42 292.36h0.01M128.8 289.28h0.01M128.94 293.79h0.01M127.1 284.26h0.01M124.23 293.99h0.01M130.43 285.26h0.01M126.2 289.33h0.01M122.94 292.34h0.01M122.66 297.13h0.01M118.71 295.32h0.01M124.17 281.7h0.01M127.09 291.52h0.01M127.13 288.01h0.01M124.29 288.54h0.01M126.56 288.57h0.01M125.81 288.26h0.01M127.6 287.18h0.01M124.74 278.06h0.01M125.33 293.49h0.01M128.59 289.67h0.01M125.16 284.54h0.01M128 290.16h0.01M127.72 293.15h0.01M127.53 283.1h0.01M122.95 296.75h0.01M123.25 296.2h0.01M120.57 297.38h0.01M129.88 300.43h0.01M127.92 286.72h0.01M125.3 289.27h0.01M128.73 282.53h0.01M122.55 296.65h0.01M124.77 296.97h0.01M128.93 287.5h0.01M121.98 294.66h0.01M125.46 293.43h0.01M122.34 297.87h0.01M124.96 299.26h0.01M123.77 296.42h0.01M126.69 288.04h0.01M127.65 284.29h0.01M124.87 293.83h0.01M128.46 287.88h0.01M123.69 288.42h0.01M122 288.39h0.01M130.88 295.25h0.01M124.84 289.01h0.01M130.91 287.91h0.01M125.37 292.52h0.01M124.95 288.82h0.01M123.1 287.64h0.01M126.29 301.16h0.01M123.91 296.52h0.01M126.33 293.84h0.01M123.5 299.28h0.01M127.03 292.14h0.01M123.69 297.76h0.01M125.24 288.9h0.01M125.61 290.24h0.01M127.69 295.59h0.01M126.05 290.19h0.01M127.9 296.11h0.01M128.67 298.95h0.01M125.81 290h0.01M124.64 293.79h0.01M126.5 296h0.01M130.98 285.94h0.01M127.55 285.59h0.01M124.15 289.26h0.01M125.47 287.55h0.01M120.67 298.09h0.01M123.46 297.87h0.01M126.4 280.23h0.01M123 297.26h0.01M123.75 294.75h0.01M121.25 299.67h0.01M124.95 298.74h0.01M123.11 299.54h0.01M126.34 290.48h0.01M124.06 292.92h0.01M125.24 286.23h0.01M124.78 296.79h0.01M123.7 297.23h0.01M130.65 287.28h0.01M127.4 288.1h0.01M123.88 293.56h0.01M119.6 294.81h0.01M126.53 296.31h0.01M124.34 302.85h0.01M123.19 298.51h0.01M127.89 296.39h0.01M121.92 291.16h0.01M127.14 284.36h0.01M124.31 296.92h0.01M125.2 291.9h0.01M129.49 290.62h0.01M123.44 292.66h0.01M127.06 296.74h0.01M126.35 290.46h0.01M126.89 298.33h0.01M121.34 293.75h0.01" stroke="#000" stroke-width="0.66" stroke-linecap="round" opacity="0.45"/>
<path d="M141.5 285.3 C144 284.4 147.6 284.4 149.6 286.4 C151 288.5 150.2 292.5 148.2 295 C146 297.4 143.5 298.4 141.2 298 C138.8 297.4 138 294 138.2 290.5 C138.4 287.5 139.6 286 141.5 285.3Z" fill="#080808" filter="url(#bl1)"/>
<path d="M126.6 285.4 C128.8 285.8 129.1 289 128.7 292.5 C128.2 296.5 126.6 301 124 301.1 C122.1 301 121.8 298 122.2 294.5 C122.6 290 124.3 285.1 126.6 285.4Z" fill="#0a0a0a" filter="url(#bl05)"/>
<rect x="131.6" y="280.9" width="26.7" height="24.3" fill="none" stroke="#858585" stroke-width="0.9"/>
<text x="138" y="279.4" font-size="8.6" textLength="15.6" lengthAdjust="spacingAndGlyphs" style="stroke-width:0.12px">60.4</text>
</g>
</svg></body></html>
